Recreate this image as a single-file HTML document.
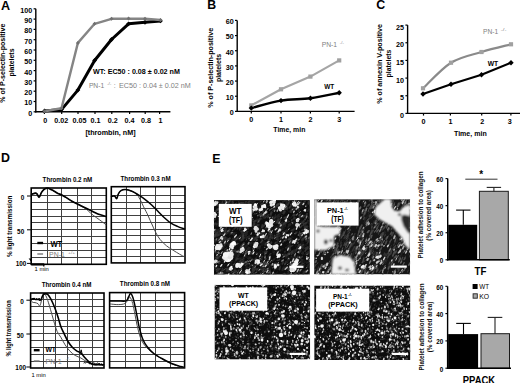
<!DOCTYPE html>
<html><head><meta charset="utf-8"><style>
html,body{margin:0;padding:0;background:#fff;width:520px;height:383px;overflow:hidden}
svg text{font-family:"Liberation Sans",sans-serif}
</style></head><body>
<svg width="520" height="383" viewBox="0 0 520 383" style="display:block">
<rect width="520" height="383" fill="#fff"/>
<text x="0.9" y="9.9" font-size="12.6" font-weight="bold" text-anchor="start" fill="#000">A</text>
<text x="0" y="0" font-size="7.1" font-weight="bold" fill="#000" textLength="79.10" lengthAdjust="spacingAndGlyphs" transform="translate(5.10,102.80) rotate(-90)">% of P-selectin-positive</text>
<text x="0" y="0" font-size="7.1" font-weight="bold" fill="#000" textLength="28.10" lengthAdjust="spacingAndGlyphs" transform="translate(14.40,76.60) rotate(-90)">platelets</text>
<line x1="35.80" y1="8.80" x2="35.80" y2="112.40" stroke="#000" stroke-width="1.4"/>
<line x1="35.20" y1="111.80" x2="170.40" y2="111.80" stroke="#000" stroke-width="1.4"/>
<line x1="33.60" y1="111.80" x2="35.80" y2="111.80" stroke="#000" stroke-width="1.2"/>
<text x="32.2" y="115.7" font-size="7.2" font-weight="bold" text-anchor="end" fill="#000">0</text>
<line x1="33.60" y1="101.50" x2="35.80" y2="101.50" stroke="#000" stroke-width="1.2"/>
<text x="32.2" y="105.4" font-size="7.2" font-weight="bold" text-anchor="end" fill="#000">10</text>
<line x1="33.60" y1="91.20" x2="35.80" y2="91.20" stroke="#000" stroke-width="1.2"/>
<text x="32.2" y="95.1" font-size="7.2" font-weight="bold" text-anchor="end" fill="#000">20</text>
<line x1="33.60" y1="80.90" x2="35.80" y2="80.90" stroke="#000" stroke-width="1.2"/>
<text x="32.2" y="84.80000000000001" font-size="7.2" font-weight="bold" text-anchor="end" fill="#000">30</text>
<line x1="33.60" y1="70.60" x2="35.80" y2="70.60" stroke="#000" stroke-width="1.2"/>
<text x="32.2" y="74.5" font-size="7.2" font-weight="bold" text-anchor="end" fill="#000">40</text>
<line x1="33.60" y1="60.30" x2="35.80" y2="60.30" stroke="#000" stroke-width="1.2"/>
<text x="32.2" y="64.2" font-size="7.2" font-weight="bold" text-anchor="end" fill="#000">50</text>
<line x1="33.60" y1="50.00" x2="35.80" y2="50.00" stroke="#000" stroke-width="1.2"/>
<text x="32.2" y="53.9" font-size="7.2" font-weight="bold" text-anchor="end" fill="#000">60</text>
<line x1="33.60" y1="39.70" x2="35.80" y2="39.70" stroke="#000" stroke-width="1.2"/>
<text x="32.2" y="43.6" font-size="7.2" font-weight="bold" text-anchor="end" fill="#000">70</text>
<line x1="33.60" y1="29.40" x2="35.80" y2="29.40" stroke="#000" stroke-width="1.2"/>
<text x="32.2" y="33.29999999999999" font-size="7.2" font-weight="bold" text-anchor="end" fill="#000">80</text>
<line x1="33.60" y1="19.10" x2="35.80" y2="19.10" stroke="#000" stroke-width="1.2"/>
<text x="32.2" y="22.999999999999993" font-size="7.2" font-weight="bold" text-anchor="end" fill="#000">90</text>
<line x1="33.60" y1="8.80" x2="35.80" y2="8.80" stroke="#000" stroke-width="1.2"/>
<text x="32.2" y="12.699999999999998" font-size="7.2" font-weight="bold" text-anchor="end" fill="#000">100</text>
<line x1="44.40" y1="111.80" x2="44.40" y2="114.00" stroke="#000" stroke-width="1.2"/>
<text x="45.2" y="122.8" font-size="7.2" font-weight="bold" text-anchor="middle" fill="#000">0</text>
<line x1="61.70" y1="111.80" x2="61.70" y2="114.00" stroke="#000" stroke-width="1.2"/>
<text x="61.3" y="122.8" font-size="7.2" font-weight="bold" text-anchor="middle" fill="#000">0.02</text>
<line x1="78.00" y1="111.80" x2="78.00" y2="114.00" stroke="#000" stroke-width="1.2"/>
<text x="79.6" y="122.8" font-size="7.2" font-weight="bold" text-anchor="middle" fill="#000">0.05</text>
<line x1="95.00" y1="111.80" x2="95.00" y2="114.00" stroke="#000" stroke-width="1.2"/>
<text x="95.6" y="122.8" font-size="7.2" font-weight="bold" text-anchor="middle" fill="#000">0.1</text>
<line x1="111.80" y1="111.80" x2="111.80" y2="114.00" stroke="#000" stroke-width="1.2"/>
<text x="112.8" y="122.8" font-size="7.2" font-weight="bold" text-anchor="middle" fill="#000">0.2</text>
<line x1="129.60" y1="111.80" x2="129.60" y2="114.00" stroke="#000" stroke-width="1.2"/>
<text x="129.6" y="122.8" font-size="7.2" font-weight="bold" text-anchor="middle" fill="#000">0.4</text>
<line x1="145.20" y1="111.80" x2="145.20" y2="114.00" stroke="#000" stroke-width="1.2"/>
<text x="146.0" y="122.8" font-size="7.2" font-weight="bold" text-anchor="middle" fill="#000">0.8</text>
<line x1="159.60" y1="111.80" x2="159.60" y2="114.00" stroke="#000" stroke-width="1.2"/>
<text x="160.5" y="122.8" font-size="7.2" font-weight="bold" text-anchor="middle" fill="#000">1</text>
<text x="85.40" y="135.00" font-size="7.2" font-weight="bold" fill="#000" textLength="50.20" lengthAdjust="spacingAndGlyphs">[thrombin, nM]</text>
<polyline points="44.60,111.00 61.50,109.60 77.90,90.10 94.60,60.50 111.50,39.50 128.60,23.80 145.00,22.30 160.50,20.90" fill="none" stroke="#000" stroke-width="3.0" stroke-linejoin="round" stroke-linecap="round"/>
<rect x="42.90" y="109.30" width="3.4" height="3.4" fill="#000" transform="rotate(45 44.60 111.00)"/>
<rect x="59.80" y="107.90" width="3.4" height="3.4" fill="#000" transform="rotate(45 61.50 109.60)"/>
<rect x="76.20" y="88.40" width="3.4" height="3.4" fill="#000" transform="rotate(45 77.90 90.10)"/>
<rect x="92.90" y="58.80" width="3.4" height="3.4" fill="#000" transform="rotate(45 94.60 60.50)"/>
<rect x="109.80" y="37.80" width="3.4" height="3.4" fill="#000" transform="rotate(45 111.50 39.50)"/>
<rect x="126.90" y="22.10" width="3.4" height="3.4" fill="#000" transform="rotate(45 128.60 23.80)"/>
<rect x="143.30" y="20.60" width="3.4" height="3.4" fill="#000" transform="rotate(45 145.00 22.30)"/>
<rect x="158.80" y="19.20" width="3.4" height="3.4" fill="#000" transform="rotate(45 160.50 20.90)"/>
<polyline points="44.60,111.30 61.50,108.20 77.90,42.90 94.60,23.80 111.50,18.80 128.60,18.60 145.00,18.80 160.50,20.00" fill="none" stroke="#858585" stroke-width="2.4" stroke-linejoin="round" stroke-linecap="round"/>
<rect x="43.20" y="109.90" width="2.8" height="2.8" fill="#707070" transform="rotate(45 44.60 111.30)"/>
<rect x="60.10" y="106.80" width="2.8" height="2.8" fill="#707070" transform="rotate(45 61.50 108.20)"/>
<rect x="76.50" y="41.50" width="2.8" height="2.8" fill="#707070" transform="rotate(45 77.90 42.90)"/>
<rect x="93.20" y="22.40" width="2.8" height="2.8" fill="#707070" transform="rotate(45 94.60 23.80)"/>
<rect x="110.10" y="17.40" width="2.8" height="2.8" fill="#707070" transform="rotate(45 111.50 18.80)"/>
<rect x="127.20" y="17.20" width="2.8" height="2.8" fill="#707070" transform="rotate(45 128.60 18.60)"/>
<rect x="143.60" y="17.40" width="2.8" height="2.8" fill="#707070" transform="rotate(45 145.00 18.80)"/>
<rect x="159.10" y="18.60" width="2.8" height="2.8" fill="#707070" transform="rotate(45 160.50 20.00)"/>
<text x="93.00" y="73.80" font-size="7.0" font-weight="bold" fill="#000" textLength="86.90" lengthAdjust="spacingAndGlyphs">WT: EC50 : 0.08 ± 0.02 nM</text>
<text x="88.90" y="87.90" font-size="6.9" fill="#808080" textLength="15.30" lengthAdjust="spacingAndGlyphs">PN-1</text>
<text x="106.90" y="85.00" font-size="4.2" fill="#808080" textLength="4.60" lengthAdjust="spacingAndGlyphs">-/-</text>
<text x="113.8" y="87.9" font-size="6.9" text-anchor="start" fill="#808080">:</text>
<text x="119.00" y="87.90" font-size="6.9" fill="#808080" textLength="71.70" lengthAdjust="spacingAndGlyphs">EC50 : 0.04 ± 0.02 nM</text>
<text x="207.3" y="9.4" font-size="12.3" font-weight="bold" text-anchor="start" fill="#000">B</text>
<text x="0" y="0" font-size="7.1" font-weight="bold" fill="#000" textLength="79.80" lengthAdjust="spacingAndGlyphs" transform="translate(212.50,107.70) rotate(-90)">% of P-selectin-positive</text>
<text x="0" y="0" font-size="7.1" font-weight="bold" fill="#000" textLength="28.20" lengthAdjust="spacingAndGlyphs" transform="translate(221.00,82.10) rotate(-90)">platelets</text>
<line x1="237.20" y1="20.40" x2="237.20" y2="112.00" stroke="#000" stroke-width="1.4"/>
<line x1="236.60" y1="111.40" x2="354.60" y2="111.40" stroke="#000" stroke-width="1.4"/>
<line x1="235.00" y1="111.40" x2="237.20" y2="111.40" stroke="#000" stroke-width="1.2"/>
<text x="233.7" y="115.30000000000001" font-size="7.2" font-weight="bold" text-anchor="end" fill="#000">0</text>
<line x1="235.00" y1="96.23" x2="237.20" y2="96.23" stroke="#000" stroke-width="1.2"/>
<text x="233.7" y="100.13333333333334" font-size="7.2" font-weight="bold" text-anchor="end" fill="#000">10</text>
<line x1="235.00" y1="81.07" x2="237.20" y2="81.07" stroke="#000" stroke-width="1.2"/>
<text x="233.7" y="84.96666666666668" font-size="7.2" font-weight="bold" text-anchor="end" fill="#000">20</text>
<line x1="235.00" y1="65.90" x2="237.20" y2="65.90" stroke="#000" stroke-width="1.2"/>
<text x="233.7" y="69.80000000000001" font-size="7.2" font-weight="bold" text-anchor="end" fill="#000">30</text>
<line x1="235.00" y1="50.73" x2="237.20" y2="50.73" stroke="#000" stroke-width="1.2"/>
<text x="233.7" y="54.63333333333334" font-size="7.2" font-weight="bold" text-anchor="end" fill="#000">40</text>
<line x1="235.00" y1="35.57" x2="237.20" y2="35.57" stroke="#000" stroke-width="1.2"/>
<text x="233.7" y="39.466666666666676" font-size="7.2" font-weight="bold" text-anchor="end" fill="#000">50</text>
<line x1="235.00" y1="20.40" x2="237.20" y2="20.40" stroke="#000" stroke-width="1.2"/>
<text x="233.7" y="24.300000000000004" font-size="7.2" font-weight="bold" text-anchor="end" fill="#000">60</text>
<line x1="251.30" y1="111.40" x2="251.30" y2="113.60" stroke="#000" stroke-width="1.2"/>
<text x="251.3" y="122.4" font-size="7.2" font-weight="bold" text-anchor="middle" fill="#000">0</text>
<line x1="281.00" y1="111.40" x2="281.00" y2="113.60" stroke="#000" stroke-width="1.2"/>
<text x="281.0" y="122.4" font-size="7.2" font-weight="bold" text-anchor="middle" fill="#000">1</text>
<line x1="310.40" y1="111.40" x2="310.40" y2="113.60" stroke="#000" stroke-width="1.2"/>
<text x="310.4" y="122.4" font-size="7.2" font-weight="bold" text-anchor="middle" fill="#000">2</text>
<line x1="339.20" y1="111.40" x2="339.20" y2="113.60" stroke="#000" stroke-width="1.2"/>
<text x="339.2" y="122.4" font-size="7.2" font-weight="bold" text-anchor="middle" fill="#000">3</text>
<text x="273.30" y="131.80" font-size="7.2" font-weight="bold" fill="#000" textLength="32.10" lengthAdjust="spacingAndGlyphs">Time, min</text>
<polyline points="251.30,105.40 281.00,89.30 310.40,76.60 339.20,60.40" fill="none" stroke="#a5a5a5" stroke-width="2.2" stroke-linejoin="round" stroke-linecap="round"/>
<path d="M251.30,108.10 C256.25,106.85 271.15,102.23 281.00,100.60 C290.85,98.97 300.70,99.60 310.40,98.30 C320.10,97.00 334.40,93.72 339.20,92.80" fill="none" stroke="#000" stroke-width="2.4" stroke-linejoin="round" stroke-linecap="round"/>
<rect x="249.20" y="103.30" width="4.2" height="4.2" fill="#a0a0a0"/>
<rect x="278.90" y="87.20" width="4.2" height="4.2" fill="#a0a0a0"/>
<rect x="308.30" y="74.50" width="4.2" height="4.2" fill="#a0a0a0"/>
<rect x="337.10" y="58.30" width="4.2" height="4.2" fill="#a0a0a0"/>
<rect x="249.40" y="106.20" width="3.8" height="3.8" fill="#000" transform="rotate(45 251.30 108.10)"/>
<rect x="279.10" y="98.70" width="3.8" height="3.8" fill="#000" transform="rotate(45 281.00 100.60)"/>
<rect x="308.50" y="96.40" width="3.8" height="3.8" fill="#000" transform="rotate(45 310.40 98.30)"/>
<rect x="337.30" y="90.90" width="3.8" height="3.8" fill="#000" transform="rotate(45 339.20 92.80)"/>
<text x="324.30" y="88.80" font-size="6.8" font-weight="bold" fill="#000" textLength="10.00" lengthAdjust="spacingAndGlyphs">WT</text>
<text x="321.70" y="47.10" font-size="7.4" fill="#808080" textLength="15.40" lengthAdjust="spacingAndGlyphs">PN-1</text>
<text x="339.80" y="44.20" font-size="4.2" fill="#808080" textLength="4.00" lengthAdjust="spacingAndGlyphs">-/-</text>
<text x="376.2" y="9.3" font-size="12.4" font-weight="bold" text-anchor="start" fill="#000">C</text>
<text x="0" y="0" font-size="7.1" font-weight="bold" fill="#000" textLength="79.80" lengthAdjust="spacingAndGlyphs" transform="translate(382.20,103.80) rotate(-90)">% of annexin V-positive</text>
<text x="0" y="0" font-size="7.1" font-weight="bold" fill="#000" textLength="27.80" lengthAdjust="spacingAndGlyphs" transform="translate(390.70,77.40) rotate(-90)">platelets</text>
<line x1="407.60" y1="25.10" x2="407.60" y2="114.00" stroke="#000" stroke-width="1.4"/>
<line x1="407.00" y1="113.40" x2="520.00" y2="113.40" stroke="#000" stroke-width="1.4"/>
<line x1="405.40" y1="113.40" x2="407.60" y2="113.40" stroke="#000" stroke-width="1.2"/>
<text x="404.0" y="117.9" font-size="7.2" font-weight="bold" text-anchor="end" fill="#000">0</text>
<line x1="405.40" y1="95.74" x2="407.60" y2="95.74" stroke="#000" stroke-width="1.2"/>
<text x="404.0" y="100.24000000000001" font-size="7.2" font-weight="bold" text-anchor="end" fill="#000">5</text>
<line x1="405.40" y1="78.08" x2="407.60" y2="78.08" stroke="#000" stroke-width="1.2"/>
<text x="404.0" y="82.58" font-size="7.2" font-weight="bold" text-anchor="end" fill="#000">10</text>
<line x1="405.40" y1="60.42" x2="407.60" y2="60.42" stroke="#000" stroke-width="1.2"/>
<text x="404.0" y="64.92" font-size="7.2" font-weight="bold" text-anchor="end" fill="#000">15</text>
<line x1="405.40" y1="42.76" x2="407.60" y2="42.76" stroke="#000" stroke-width="1.2"/>
<text x="404.0" y="47.25999999999999" font-size="7.2" font-weight="bold" text-anchor="end" fill="#000">20</text>
<line x1="405.40" y1="25.10" x2="407.60" y2="25.10" stroke="#000" stroke-width="1.2"/>
<text x="404.0" y="29.599999999999994" font-size="7.2" font-weight="bold" text-anchor="end" fill="#000">25</text>
<line x1="423.50" y1="113.40" x2="423.50" y2="115.60" stroke="#000" stroke-width="1.2"/>
<text x="423.4" y="123.8" font-size="7.2" font-weight="bold" text-anchor="middle" fill="#000">0</text>
<line x1="450.40" y1="113.40" x2="450.40" y2="115.60" stroke="#000" stroke-width="1.2"/>
<text x="450.5" y="123.8" font-size="7.2" font-weight="bold" text-anchor="middle" fill="#000">1</text>
<line x1="481.70" y1="113.40" x2="481.70" y2="115.60" stroke="#000" stroke-width="1.2"/>
<text x="482.3" y="123.8" font-size="7.2" font-weight="bold" text-anchor="middle" fill="#000">2</text>
<line x1="510.90" y1="113.40" x2="510.90" y2="115.60" stroke="#000" stroke-width="1.2"/>
<text x="509.7" y="123.8" font-size="7.2" font-weight="bold" text-anchor="middle" fill="#000">3</text>
<text x="454.00" y="135.80" font-size="7.2" font-weight="bold" fill="#000" textLength="32.70" lengthAdjust="spacingAndGlyphs">Time, min</text>
<path d="M423.00,88.30 C427.67,84.03 441.25,68.75 451.00,62.70 C460.75,56.65 471.50,55.07 481.50,52.00 C491.50,48.93 506.08,45.58 511.00,44.30" fill="none" stroke="#8a8a8a" stroke-width="2.2" stroke-linejoin="round" stroke-linecap="round"/>
<polyline points="423.00,94.00 451.00,84.20 481.50,74.80 511.00,62.70" fill="none" stroke="#000" stroke-width="2.2" stroke-linejoin="round" stroke-linecap="round"/>
<rect x="420.90" y="86.20" width="4.2" height="4.2" fill="#a0a0a0"/>
<rect x="448.90" y="60.60" width="4.2" height="4.2" fill="#a0a0a0"/>
<rect x="479.40" y="49.90" width="4.2" height="4.2" fill="#a0a0a0"/>
<rect x="508.90" y="42.20" width="4.2" height="4.2" fill="#a0a0a0"/>
<rect x="421.10" y="92.10" width="3.8" height="3.8" fill="#000" transform="rotate(45 423.00 94.00)"/>
<rect x="449.10" y="82.30" width="3.8" height="3.8" fill="#000" transform="rotate(45 451.00 84.20)"/>
<rect x="479.60" y="72.90" width="3.8" height="3.8" fill="#000" transform="rotate(45 481.50 74.80)"/>
<rect x="509.10" y="60.80" width="3.8" height="3.8" fill="#000" transform="rotate(45 511.00 62.70)"/>
<text x="487.70" y="65.90" font-size="6.8" font-weight="bold" fill="#000" textLength="10.50" lengthAdjust="spacingAndGlyphs">WT</text>
<text x="483.00" y="34.10" font-size="6.8" fill="#808080" textLength="15.20" lengthAdjust="spacingAndGlyphs">PN-1</text>
<text x="500.70" y="31.40" font-size="4.2" fill="#808080" textLength="5.80" lengthAdjust="spacingAndGlyphs">-/-</text>
<text x="1.0" y="162.2" font-size="12.4" font-weight="bold" text-anchor="start" fill="#000">D</text>
<line x1="31.20" y1="195.50" x2="106.30" y2="195.50" stroke="#404040" stroke-width="1.0"/>
<line x1="31.20" y1="202.50" x2="106.30" y2="202.50" stroke="#404040" stroke-width="1.0"/>
<line x1="31.20" y1="209.50" x2="106.30" y2="209.50" stroke="#404040" stroke-width="1.0"/>
<line x1="31.20" y1="216.50" x2="106.30" y2="216.50" stroke="#404040" stroke-width="1.0"/>
<line x1="31.20" y1="222.50" x2="106.30" y2="222.50" stroke="#404040" stroke-width="1.0"/>
<line x1="31.20" y1="229.50" x2="106.30" y2="229.50" stroke="#404040" stroke-width="1.0"/>
<line x1="31.20" y1="236.50" x2="106.30" y2="236.50" stroke="#404040" stroke-width="1.0"/>
<line x1="31.20" y1="243.50" x2="106.30" y2="243.50" stroke="#404040" stroke-width="1.0"/>
<line x1="31.20" y1="250.50" x2="106.30" y2="250.50" stroke="#404040" stroke-width="1.0"/>
<line x1="31.20" y1="257.50" x2="106.30" y2="257.50" stroke="#404040" stroke-width="1.0"/>
<line x1="47.50" y1="188.00" x2="47.50" y2="264.30" stroke="#404040" stroke-width="1.0"/>
<line x1="61.50" y1="188.00" x2="61.50" y2="264.30" stroke="#404040" stroke-width="1.0"/>
<line x1="77.50" y1="188.00" x2="77.50" y2="264.30" stroke="#404040" stroke-width="1.0"/>
<line x1="91.50" y1="188.00" x2="91.50" y2="264.30" stroke="#404040" stroke-width="1.0"/>
<rect x="31.20" y="188.00" width="75.10" height="76.30" fill="none" stroke="#000" stroke-width="1.6"/>
<text x="42.60" y="181.80" font-size="6.6" font-weight="bold" fill="#000" textLength="49.60" lengthAdjust="spacingAndGlyphs">Thrombin 0.2 nM</text>
<line x1="111.30" y1="195.50" x2="185.00" y2="195.50" stroke="#404040" stroke-width="1.0"/>
<line x1="111.30" y1="202.50" x2="185.00" y2="202.50" stroke="#404040" stroke-width="1.0"/>
<line x1="111.30" y1="208.50" x2="185.00" y2="208.50" stroke="#404040" stroke-width="1.0"/>
<line x1="111.30" y1="215.50" x2="185.00" y2="215.50" stroke="#404040" stroke-width="1.0"/>
<line x1="111.30" y1="222.50" x2="185.00" y2="222.50" stroke="#404040" stroke-width="1.0"/>
<line x1="111.30" y1="229.50" x2="185.00" y2="229.50" stroke="#404040" stroke-width="1.0"/>
<line x1="111.30" y1="235.50" x2="185.00" y2="235.50" stroke="#404040" stroke-width="1.0"/>
<line x1="111.30" y1="242.50" x2="185.00" y2="242.50" stroke="#404040" stroke-width="1.0"/>
<line x1="111.30" y1="249.50" x2="185.00" y2="249.50" stroke="#404040" stroke-width="1.0"/>
<line x1="111.30" y1="256.50" x2="185.00" y2="256.50" stroke="#404040" stroke-width="1.0"/>
<line x1="126.50" y1="186.70" x2="126.50" y2="262.90" stroke="#404040" stroke-width="1.0"/>
<line x1="140.50" y1="186.70" x2="140.50" y2="262.90" stroke="#404040" stroke-width="1.0"/>
<line x1="155.50" y1="186.70" x2="155.50" y2="262.90" stroke="#404040" stroke-width="1.0"/>
<line x1="170.50" y1="186.70" x2="170.50" y2="262.90" stroke="#404040" stroke-width="1.0"/>
<rect x="111.30" y="186.70" width="73.70" height="76.20" fill="none" stroke="#000" stroke-width="1.6"/>
<text x="120.50" y="181.00" font-size="6.6" font-weight="bold" fill="#000" textLength="50.10" lengthAdjust="spacingAndGlyphs">Thrombin 0.3 nM</text>
<line x1="30.60" y1="299.50" x2="104.00" y2="299.50" stroke="#404040" stroke-width="1.0"/>
<line x1="30.60" y1="306.50" x2="104.00" y2="306.50" stroke="#404040" stroke-width="1.0"/>
<line x1="30.60" y1="313.50" x2="104.00" y2="313.50" stroke="#404040" stroke-width="1.0"/>
<line x1="30.60" y1="320.50" x2="104.00" y2="320.50" stroke="#404040" stroke-width="1.0"/>
<line x1="30.60" y1="326.50" x2="104.00" y2="326.50" stroke="#404040" stroke-width="1.0"/>
<line x1="30.60" y1="333.50" x2="104.00" y2="333.50" stroke="#404040" stroke-width="1.0"/>
<line x1="30.60" y1="340.50" x2="104.00" y2="340.50" stroke="#404040" stroke-width="1.0"/>
<line x1="30.60" y1="347.50" x2="104.00" y2="347.50" stroke="#404040" stroke-width="1.0"/>
<line x1="30.60" y1="354.50" x2="104.00" y2="354.50" stroke="#404040" stroke-width="1.0"/>
<line x1="30.60" y1="361.50" x2="104.00" y2="361.50" stroke="#404040" stroke-width="1.0"/>
<line x1="43.50" y1="293.00" x2="43.50" y2="368.00" stroke="#404040" stroke-width="1.0"/>
<line x1="55.50" y1="293.00" x2="55.50" y2="368.00" stroke="#404040" stroke-width="1.0"/>
<line x1="67.50" y1="293.00" x2="67.50" y2="368.00" stroke="#404040" stroke-width="1.0"/>
<line x1="79.50" y1="293.00" x2="79.50" y2="368.00" stroke="#404040" stroke-width="1.0"/>
<line x1="92.50" y1="293.00" x2="92.50" y2="368.00" stroke="#404040" stroke-width="1.0"/>
<rect x="30.60" y="293.00" width="73.40" height="75.00" fill="none" stroke="#000" stroke-width="1.6"/>
<text x="41.70" y="287.40" font-size="6.6" font-weight="bold" fill="#000" textLength="49.80" lengthAdjust="spacingAndGlyphs">Thrombin 0.4 nM</text>
<line x1="109.60" y1="300.50" x2="184.60" y2="300.50" stroke="#404040" stroke-width="1.0"/>
<line x1="109.60" y1="306.50" x2="184.60" y2="306.50" stroke="#404040" stroke-width="1.0"/>
<line x1="109.60" y1="313.50" x2="184.60" y2="313.50" stroke="#404040" stroke-width="1.0"/>
<line x1="109.60" y1="320.50" x2="184.60" y2="320.50" stroke="#404040" stroke-width="1.0"/>
<line x1="109.60" y1="327.50" x2="184.60" y2="327.50" stroke="#404040" stroke-width="1.0"/>
<line x1="109.60" y1="333.50" x2="184.60" y2="333.50" stroke="#404040" stroke-width="1.0"/>
<line x1="109.60" y1="340.50" x2="184.60" y2="340.50" stroke="#404040" stroke-width="1.0"/>
<line x1="109.60" y1="347.50" x2="184.60" y2="347.50" stroke="#404040" stroke-width="1.0"/>
<line x1="109.60" y1="354.50" x2="184.60" y2="354.50" stroke="#404040" stroke-width="1.0"/>
<line x1="109.60" y1="361.50" x2="184.60" y2="361.50" stroke="#404040" stroke-width="1.0"/>
<line x1="125.50" y1="292.60" x2="125.50" y2="367.90" stroke="#404040" stroke-width="1.0"/>
<line x1="140.50" y1="292.60" x2="140.50" y2="367.90" stroke="#404040" stroke-width="1.0"/>
<line x1="155.50" y1="292.60" x2="155.50" y2="367.90" stroke="#404040" stroke-width="1.0"/>
<line x1="170.50" y1="292.60" x2="170.50" y2="367.90" stroke="#404040" stroke-width="1.0"/>
<rect x="109.60" y="292.60" width="75.00" height="75.30" fill="none" stroke="#000" stroke-width="1.6"/>
<text x="119.80" y="285.60" font-size="6.6" font-weight="bold" fill="#000" textLength="50.20" lengthAdjust="spacingAndGlyphs">Thrombin 0.8 nM</text>
<line x1="27.00" y1="196.00" x2="31.20" y2="196.00" stroke="#000" stroke-width="1.0"/>
<text x="24.2" y="199.9" font-size="6.4" font-weight="bold" text-anchor="end" fill="#000">0</text>
<line x1="27.00" y1="229.80" x2="31.20" y2="229.80" stroke="#000" stroke-width="1.0"/>
<text x="24.2" y="233.70000000000002" font-size="6.4" font-weight="bold" text-anchor="end" fill="#000">50</text>
<line x1="27.00" y1="263.40" x2="31.20" y2="263.40" stroke="#000" stroke-width="1.0"/>
<text x="26.4" y="266.29999999999995" font-size="6.4" font-weight="bold" text-anchor="end" fill="#000">100</text>
<line x1="26.40" y1="300.20" x2="30.60" y2="300.20" stroke="#000" stroke-width="1.0"/>
<text x="23.8" y="304.09999999999997" font-size="6.4" font-weight="bold" text-anchor="end" fill="#000">0</text>
<line x1="26.40" y1="334.00" x2="30.60" y2="334.00" stroke="#000" stroke-width="1.0"/>
<text x="23.8" y="337.9" font-size="6.4" font-weight="bold" text-anchor="end" fill="#000">50</text>
<line x1="26.40" y1="367.00" x2="30.60" y2="367.00" stroke="#000" stroke-width="1.0"/>
<text x="26.0" y="369.9" font-size="6.4" font-weight="bold" text-anchor="end" fill="#000">100</text>
<path d="M28.6,258.4 L31,258.4 L31,261.6 Z" fill="#000"/>
<text x="0" y="0" font-size="6.7" font-weight="bold" fill="#000" textLength="61.30" lengthAdjust="spacingAndGlyphs" transform="translate(11.80,257.00) rotate(-90)">% light transmission</text>
<text x="0" y="0" font-size="6.7" font-weight="bold" fill="#000" textLength="56.30" lengthAdjust="spacingAndGlyphs" transform="translate(11.00,356.60) rotate(-90)">% light transmission</text>
<line x1="31.20" y1="264.40" x2="44.20" y2="264.40" stroke="#000" stroke-width="2.2"/>
<line x1="43.80" y1="264.40" x2="43.80" y2="266.40" stroke="#000" stroke-width="1.3"/>
<text x="34.60" y="271.40" font-size="6.2" fill="#000" textLength="14.20" lengthAdjust="spacingAndGlyphs">1 min</text>
<text x="31.50" y="377.10" font-size="6.2" fill="#000" textLength="14.30" lengthAdjust="spacingAndGlyphs">1 min</text>
<line x1="37.30" y1="243.00" x2="43.10" y2="243.00" stroke="#000" stroke-width="2.4"/>
<line x1="37.30" y1="254.00" x2="43.10" y2="254.00" stroke="#777" stroke-width="1.4"/>
<text x="50.40" y="247.20" font-size="8.2" font-weight="bold" fill="#000" textLength="11.80" lengthAdjust="spacingAndGlyphs">WT</text>
<text x="49.10" y="256.90" font-size="7.4" fill="#7a7a7a" textLength="15.70" lengthAdjust="spacingAndGlyphs">PN-1</text>
<text x="68.00" y="254.30" font-size="3.8" fill="#888" textLength="7.20" lengthAdjust="spacingAndGlyphs">+/+</text>
<line x1="33.80" y1="350.20" x2="39.60" y2="350.20" stroke="#000" stroke-width="2.4"/>
<line x1="33.80" y1="361.00" x2="39.60" y2="361.00" stroke="#777" stroke-width="1.4"/>
<text x="45.40" y="352.00" font-size="6.6" font-weight="bold" fill="#000" textLength="10.60" lengthAdjust="spacingAndGlyphs">WT</text>
<text x="45.40" y="364.10" font-size="7.4" fill="#7a7a7a" textLength="16.30" lengthAdjust="spacingAndGlyphs">PN-1</text>
<text x="65.50" y="360.20" font-size="3.8" fill="#888" textLength="5.00" lengthAdjust="spacingAndGlyphs">-/-</text>
<path d="M31.50,194.20 C31.75,194.13 32.38,193.97 33.00,193.80 C33.62,193.63 34.53,193.20 35.20,193.20 C35.87,193.20 36.35,193.12 37.00,193.80 C37.65,194.48 38.37,197.50 39.10,197.30 C39.83,197.10 40.62,193.88 41.40,192.60 C42.18,191.32 43.08,190.28 43.80,189.60 C44.52,188.92 45.00,188.73 45.70,188.50 C46.40,188.27 47.02,187.98 48.00,188.20 C48.98,188.42 50.48,189.25 51.60,189.80 C52.72,190.35 53.65,190.90 54.70,191.50 C55.75,192.10 56.72,192.83 57.90,193.40 C59.08,193.97 60.45,194.23 61.80,194.90 C63.15,195.57 64.30,196.35 66.00,197.40 C67.70,198.45 69.03,199.50 72.00,201.20 C74.97,202.90 81.05,205.93 83.80,207.60 C86.55,209.27 86.93,209.92 88.50,211.20 C90.07,212.48 91.37,213.87 93.20,215.30 C95.03,216.73 97.37,218.23 99.50,219.80 C101.63,221.37 104.92,223.88 106.00,224.70" fill="none" stroke="#4a4a4a" stroke-width="1.0" stroke-linejoin="round" stroke-linecap="round"/>
<path d="M31.50,194.20 C31.75,194.13 32.38,193.97 33.00,193.80 C33.62,193.63 34.53,193.20 35.20,193.20 C35.87,193.20 36.35,193.12 37.00,193.80 C37.65,194.48 38.37,197.50 39.10,197.30 C39.83,197.10 40.62,193.88 41.40,192.60 C42.18,191.32 43.08,190.28 43.80,189.60 C44.52,188.92 45.00,188.73 45.70,188.50 C46.40,188.27 47.02,187.98 48.00,188.20 C48.98,188.42 50.48,189.25 51.60,189.80 C52.72,190.35 53.65,190.90 54.70,191.50 C55.75,192.10 56.72,192.83 57.90,193.40 C59.08,193.97 60.45,194.23 61.80,194.90 C63.15,195.57 64.30,196.35 66.00,197.40 C67.70,198.45 69.43,199.78 72.00,201.20 C74.57,202.62 78.27,204.33 81.40,205.90 C84.53,207.47 88.05,209.25 90.80,210.60 C93.55,211.95 95.37,213.03 97.90,214.00 C100.43,214.97 104.65,216.00 106.00,216.40" fill="none" stroke="#000" stroke-width="1.7" stroke-linejoin="round" stroke-linecap="round"/>
<path d="M111.50,196.40 C112.00,196.33 113.63,195.63 114.50,196.00 C115.37,196.37 116.05,198.97 116.70,198.60 C117.35,198.23 117.68,195.13 118.40,193.80 C119.12,192.47 119.83,191.32 121.00,190.60 C122.17,189.88 123.58,189.40 125.40,189.50 C127.22,189.60 130.05,190.45 131.90,191.20 C133.75,191.95 135.12,192.60 136.50,194.00 C137.88,195.40 139.02,197.47 140.20,199.60 C141.38,201.73 142.47,204.50 143.60,206.80 C144.73,209.10 145.70,210.68 147.00,213.40 C148.30,216.12 149.95,219.93 151.40,223.10 C152.85,226.27 154.27,229.68 155.70,232.40 C157.13,235.12 158.18,237.15 160.00,239.40 C161.82,241.65 164.42,244.10 166.60,245.90 C168.78,247.70 170.93,248.82 173.10,250.20 C175.27,251.58 177.70,253.10 179.60,254.20 C181.50,255.30 183.68,256.37 184.50,256.80" fill="none" stroke="#4a4a4a" stroke-width="1.0" stroke-linejoin="round" stroke-linecap="round"/>
<path d="M111.50,196.40 C112.00,196.33 113.63,195.63 114.50,196.00 C115.37,196.37 116.05,198.97 116.70,198.60 C117.35,198.23 117.68,195.13 118.40,193.80 C119.12,192.47 119.83,191.32 121.00,190.60 C122.17,189.88 123.58,189.40 125.40,189.50 C127.22,189.60 129.73,190.30 131.90,191.20 C134.07,192.10 136.23,193.55 138.40,194.90 C140.57,196.25 142.73,197.67 144.90,199.30 C147.07,200.93 149.23,202.72 151.40,204.70 C153.57,206.68 155.73,209.03 157.90,211.20 C160.07,213.37 162.23,215.72 164.40,217.70 C166.57,219.68 168.73,221.65 170.90,223.10 C173.07,224.55 175.13,225.42 177.40,226.40 C179.67,227.38 183.32,228.57 184.50,229.00" fill="none" stroke="#000" stroke-width="1.5" stroke-linejoin="round" stroke-linecap="round"/>
<path d="M31.00,300.40 C31.30,300.73 32.13,302.03 32.80,302.40 C33.47,302.77 34.13,302.38 35.00,302.60 C35.87,302.82 37.27,303.13 38.00,303.70 C38.73,304.27 38.95,306.00 39.40,306.00 C39.85,306.00 40.17,305.40 40.70,303.70 C41.23,302.00 41.95,297.33 42.60,295.80 C43.25,294.27 43.95,294.28 44.60,294.50 C45.25,294.72 45.73,295.35 46.50,297.10 C47.27,298.85 48.32,302.17 49.20,305.00 C50.08,307.83 50.93,311.07 51.80,314.10 C52.67,317.13 53.50,320.28 54.40,323.20 C55.30,326.12 56.13,329.27 57.20,331.60 C58.27,333.93 59.48,335.00 60.80,337.20 C62.12,339.40 63.55,342.45 65.10,344.80 C66.65,347.15 68.43,349.53 70.10,351.30 C71.77,353.07 73.30,354.28 75.10,355.40 C76.90,356.52 78.98,356.97 80.90,358.00 C82.82,359.03 84.70,360.52 86.60,361.60 C88.50,362.68 89.48,363.90 92.30,364.50 C95.12,365.10 101.63,365.08 103.50,365.20" fill="none" stroke="#4a4a4a" stroke-width="1.0" stroke-linejoin="round" stroke-linecap="round"/>
<path d="M31.00,299.70 C31.25,299.58 31.98,299.18 32.50,299.00 C33.02,298.82 33.60,298.53 34.10,298.60 C34.60,298.67 35.07,299.25 35.50,299.40 C35.93,299.55 36.20,299.50 36.70,299.50 C37.20,299.50 37.83,299.32 38.50,299.40 C39.17,299.48 39.90,300.82 40.70,300.00 C41.50,299.18 42.43,295.52 43.30,294.50 C44.17,293.48 45.15,293.90 45.90,293.90 C46.65,293.90 47.03,293.75 47.80,294.50 C48.57,295.25 49.62,296.87 50.50,298.40 C51.38,299.93 52.23,301.73 53.10,303.70 C53.97,305.67 54.83,307.82 55.70,310.20 C56.57,312.58 57.45,315.28 58.30,318.00 C59.15,320.72 59.78,323.78 60.80,326.50 C61.82,329.22 63.20,331.80 64.40,334.30 C65.60,336.80 66.68,339.33 68.00,341.50 C69.32,343.67 70.87,345.75 72.30,347.30 C73.73,348.85 75.17,349.85 76.60,350.80 C78.03,351.75 79.47,351.80 80.90,353.00 C82.33,354.20 83.77,356.45 85.20,358.00 C86.63,359.55 88.07,361.22 89.50,362.30 C90.93,363.38 92.37,364.13 93.80,364.50 C95.23,364.87 96.48,364.45 98.10,364.50 C99.72,364.55 102.60,364.75 103.50,364.80" fill="none" stroke="#000" stroke-width="1.6" stroke-linejoin="round" stroke-linecap="round"/>
<polyline points="31.00,299.13 31.80,298.95 32.60,298.48 33.40,299.93 34.20,298.21 35.00,299.21 35.80,300.00 36.60,298.36 37.40,299.31 38.20,299.43 39.00,298.28 39.80,298.96" fill="none" stroke="#000" stroke-width="1.0" stroke-linejoin="round" stroke-linecap="round"/>
<polyline points="84.00,362.91 84.80,362.48 85.60,363.11 86.40,362.05 87.20,362.30 88.00,362.12 88.80,362.99 89.60,363.91 90.40,363.32 91.20,363.77 92.00,363.07 92.80,363.87 93.60,362.66 94.40,363.12 95.20,363.97 96.00,364.15 96.80,363.62 97.60,363.04 98.40,363.47 99.20,363.44 100.00,363.66 100.80,364.80 101.60,363.66 102.40,365.11 103.20,365.18" fill="none" stroke="#000" stroke-width="1.0" stroke-linejoin="round" stroke-linecap="round"/>
<polyline points="80.20,353.50 81.20,349.80 82.20,354.50" fill="none" stroke="#000" stroke-width="1.0" stroke-linejoin="round" stroke-linecap="round"/>
<path d="M110.30,304.00 C111.63,304.10 115.85,304.68 118.30,304.60 C120.75,304.52 123.33,304.42 125.00,303.50 C126.67,302.58 127.48,300.20 128.30,299.10 C129.12,298.00 129.17,296.17 129.90,296.90 C130.63,297.63 131.85,300.55 132.70,303.50 C133.55,306.45 134.25,310.90 135.00,314.60 C135.75,318.30 136.28,321.82 137.20,325.70 C138.12,329.58 139.20,334.57 140.50,337.90 C141.80,341.23 143.08,343.27 145.00,345.70 C146.92,348.13 149.33,350.37 152.00,352.50 C154.67,354.63 157.83,356.67 161.00,358.50 C164.17,360.33 167.75,362.12 171.00,363.50 C174.25,364.88 178.33,366.15 180.50,366.80 C182.67,367.45 183.42,367.30 184.00,367.40" fill="none" stroke="#4a4a4a" stroke-width="1.0" stroke-linejoin="round" stroke-linecap="round"/>
<path d="M110.30,300.90 C111.58,300.90 115.37,300.90 118.00,300.90 C120.63,300.90 124.35,301.55 126.10,300.90 C127.85,300.25 127.77,298.23 128.50,297.00 C129.23,295.77 129.80,293.52 130.50,293.50 C131.20,293.48 131.95,294.85 132.70,296.90 C133.45,298.95 134.25,302.47 135.00,305.80 C135.75,309.13 136.47,313.20 137.20,316.90 C137.93,320.60 138.48,324.32 139.40,328.00 C140.32,331.68 141.40,335.87 142.70,339.00 C144.00,342.13 145.35,344.38 147.20,346.80 C149.05,349.22 151.22,351.47 153.80,353.50 C156.38,355.53 159.73,357.33 162.70,359.00 C165.67,360.67 168.63,362.25 171.60,363.50 C174.57,364.75 178.43,365.88 180.50,366.50 C182.57,367.12 183.42,367.08 184.00,367.20" fill="none" stroke="#000" stroke-width="1.5" stroke-linejoin="round" stroke-linecap="round"/>
<text x="212.2" y="163.3" font-size="12.4" font-weight="bold" text-anchor="start" fill="#000">E</text>
<defs><filter id="bl" x="0" y="0" width="1" height="1"><feGaussianBlur stdDeviation="0.5"/></filter><filter id="bl2" x="-0.2" y="-0.2" width="1.4" height="1.4"><feGaussianBlur stdDeviation="0.8"/></filter><filter id="bl3" x="-0.2" y="-0.2" width="1.4" height="1.4"><feGaussianBlur stdDeviation="0.45"/></filter></defs>
<svg x="213.9" y="200.1" width="96.0" height="74.6" viewBox="213.9 200.1 96.0 74.6" overflow="hidden">
<g filter="url(#bl)"><rect x="213.9" y="200.1" width="96.0" height="74.6" fill="#0e0e0e"/>
<path d="M269.5 206.1l0.7 -2.9M253.6 269.2l0.7 -1.7M299.6 235.5l0.6 -0.3M227.0 263.1l0.8 -2.0M242.1 244.4l1.0 -1.1M215.3 243.0l1.2 -1.3M219.7 214.5l0.6 -0.3M306.9 272.9l1.1 -2.0M247.0 225.4l2.2 -1.8M290.6 219.9l0.4 -1.9M294.3 260.9l0.4 -1.0M271.0 231.2l0.1 -0.7M231.0 270.0l2.1 -1.2M267.1 211.4l1.1 -1.1M220.1 261.1l0.6 -1.0M293.7 234.8l0.7 -1.9M233.9 205.8l0.8 -2.6M293.2 244.8l2.1 -2.0" stroke="rgb(12,12,12)" stroke-width="1.8" stroke-linecap="round" fill="none"/>
<path d="M260.2 244.4l0.6 -0.6M217.7 214.1l1.1 -0.4M255.6 239.4l0.3 -0.4M239.4 266.8l0.8 -2.3M296.0 210.3l1.2 -0.8M274.9 241.1l0.5 -0.8M290.4 234.6l0.6 -0.5M220.1 263.1l1.4 -0.9M285.3 263.4l2.2 -1.7M285.9 218.8l0.6 -0.3M236.8 266.9l0.5 -0.4M259.3 229.3l0.8 -0.7M274.5 252.4l0.8 -1.1" stroke="rgb(12,12,12)" stroke-width="1.4" stroke-linecap="round" fill="none"/>
<path d="M221.7 212.1l0.8 -0.4M243.6 241.8l0.6 -0.5M251.4 207.2l0.5 -0.2M279.1 253.2l0.8 -2.2" stroke="rgb(12,12,12)" stroke-width="2.4" stroke-linecap="round" fill="none"/>
<path d="M268.2 253.5l0.9 -2.3M248.6 261.5l1.4 -2.0M286.9 233.6l0.8 -0.9M251.6 239.8l1.8 -2.2M301.5 230.8l0.8 -2.0M228.0 244.6l2.4 -1.4M216.5 254.4l0.4 -1.4M267.7 244.3l2.5 -1.2M242.3 202.3l0.4 -0.7M247.3 250.1l2.3 -1.2M264.6 267.0l0.7 -0.5M282.0 205.6l1.9 -1.7M291.6 273.1l0.7 -0.7M292.8 268.3l1.9 -2.0M217.0 204.7l1.0 -0.8M278.5 247.4l1.4 -1.4M277.8 209.8l1.5 -2.5M221.8 218.3l0.8 -1.8" stroke="rgb(12,12,12)" stroke-width="1.2" stroke-linecap="round" fill="none"/>
<path d="M273.8 251.7l0.4 -1.6M272.0 268.3l0.9 -2.7M284.2 266.5l2.5 -0.9M276.9 233.5l0.5 -0.2M256.8 215.9l1.8 -1.1M219.5 265.5l1.6 -0.9M226.4 248.6l1.6 -2.0M249.6 247.0l0.3 -1.4M272.7 261.9l1.2 -2.1M289.3 247.2l1.2 -1.9M239.0 270.8l1.4 -0.8M286.7 265.4l0.2 -1.0M238.5 211.6l2.7 -1.0M222.6 238.2l0.9 -2.1M236.7 244.6l1.2 -1.3M279.5 267.4l0.4 -0.4" stroke="rgb(12,12,12)" stroke-width="1.6" stroke-linecap="round" fill="none"/>
<path d="M290.2 223.7l1.8 -2.3M274.5 260.7l0.4 -0.4M242.1 226.9l1.0 -2.4M275.0 262.4l0.7 -1.1M294.8 218.0l0.5 -1.9M285.3 238.0l2.0 -1.2M289.4 266.8l0.1 -0.7M249.4 212.4l0.8 -0.5M239.9 263.5l0.3 -1.7M259.4 206.9l0.7 -0.7M262.4 249.8l1.1 -0.7" stroke="rgb(12,12,12)" stroke-width="2.2" stroke-linecap="round" fill="none"/>
<path d="M226.4 217.3l0.4 -0.5M284.0 271.9l1.3 -2.2M291.9 243.4l0.7 -0.7M236.1 259.5l0.6 -0.6M268.4 253.5l1.4 -2.6M254.4 240.4l0.2 -1.1M292.6 212.4l0.3 -0.6M297.9 231.2l0.6 -0.5" stroke="rgb(12,12,12)" stroke-width="2.0" stroke-linecap="round" fill="none"/>
<path d="M246.6 239.1l0.9 -0.5M308.5 228.8l1.7 -0.9M289.4 221.6l0.6 -0.4M250.1 251.5l0.7 -2.6" stroke="rgb(12,12,12)" stroke-width="1.0" stroke-linecap="round" fill="none"/>
<path d="M244.6 212.6l0.7 -2.5M224.4 232.4l1.6 -2.3M277.0 268.8l0.6 -1.6M262.1 242.6l1.2 -1.1M236.5 206.8l0.9 -2.6M246.2 231.7l0.2 -0.5M244.1 227.8l1.0 -1.5M272.9 251.5l1.1 -2.2M248.0 216.0l1.7 -2.3M268.7 269.7l0.4 -0.8M295.6 240.0l1.4 -2.4M218.4 259.0l0.6 -2.2M232.9 264.9l1.2 -1.6M278.5 216.3l0.6 -1.6M254.1 271.1l1.2 -1.6M306.3 216.4l1.1 -2.4M246.5 257.4l0.4 -0.7M259.1 270.9l1.2 -2.3M307.9 262.4l2.2 -1.4M229.4 228.4l1.6 -2.0M234.8 254.7l0.6 -1.7M304.5 231.9l1.3 -1.8M256.7 218.7l0.7 -0.4M258.4 230.9l1.4 -1.8M235.1 255.3l0.7 -0.3M227.6 202.0l2.1 -1.1M221.2 239.4l2.0 -1.1M280.3 204.9l1.8 -1.2M243.9 261.3l0.4 -1.4M233.4 223.7l0.2 -0.8M257.5 254.0l2.1 -1.0M265.9 238.3l1.1 -1.7M279.3 224.9l1.3 -2.2M232.4 272.1l1.0 -1.0M308.9 247.2l0.8 -1.2M231.1 259.5l1.2 -2.1M235.8 207.8l0.8 -0.8M290.8 238.0l1.9 -1.0M302.3 260.8l1.2 -0.5M240.2 207.9l0.6 -0.6M290.8 210.0l1.4 -2.6M235.9 256.1l2.3 -1.2M285.9 207.2l0.5 -0.6M309.1 254.6l0.7 -0.3M282.1 260.8l0.9 -0.4" stroke="rgb(24,24,24)" stroke-width="2.0" stroke-linecap="round" fill="none"/>
<path d="M269.7 268.7l0.4 -1.5M269.6 234.9l0.9 -2.0M237.7 206.0l0.8 -0.7M260.7 234.4l0.8 -1.3M219.2 269.9l1.4 -2.4M214.2 270.4l1.0 -1.8M240.5 220.5l0.4 -0.9M223.9 270.5l0.5 -2.2M300.7 221.8l1.6 -1.0M241.8 260.4l1.2 -0.6M302.4 207.6l0.5 -0.4M260.9 237.6l0.7 -0.4M246.7 213.3l2.4 -1.0M260.2 259.6l0.5 -0.8M230.6 263.7l0.6 -0.3M243.9 258.5l1.3 -0.9M217.4 267.8l1.4 -1.8M303.4 249.0l0.6 -0.4M270.3 216.4l1.4 -0.7M260.3 206.4l0.9 -1.7M247.7 274.9l2.1 -1.9M277.3 239.6l0.5 -1.1M287.6 209.9l0.4 -1.9M214.3 274.2l0.4 -0.6M274.7 258.6l0.8 -0.9M252.3 243.2l0.7 -0.6M231.8 230.3l0.6 -0.3M261.3 243.3l0.1 -0.5M273.0 222.5l0.5 -1.0M288.9 249.9l0.3 -0.9M219.1 223.4l1.5 -2.4M273.0 229.7l0.4 -0.3M265.7 249.4l2.3 -1.5M284.5 210.9l0.3 -0.6M220.4 206.9l0.3 -1.3M270.3 204.1l1.9 -1.5M303.8 266.7l0.5 -2.2M246.2 203.4l0.5 -2.7M225.0 258.9l1.9 -1.6M293.1 222.2l1.4 -0.7M268.1 216.8l0.6 -1.7M301.9 261.6l0.4 -0.7" stroke="rgb(24,24,24)" stroke-width="1.4" stroke-linecap="round" fill="none"/>
<path d="M221.5 232.7l2.1 -1.9M295.4 260.6l0.6 -0.8M228.0 272.7l0.4 -0.4M286.2 203.5l0.9 -1.2M260.2 272.1l1.8 -1.3M262.9 252.5l2.2 -2.0M265.1 217.1l0.9 -1.7M214.7 262.4l0.4 -0.4M302.5 205.8l1.2 -1.2M257.7 207.0l0.8 -0.8M256.9 271.6l2.0 -1.8M266.0 202.9l2.0 -1.5M292.0 253.4l1.1 -1.3M260.0 202.7l0.8 -0.5M240.4 260.4l1.0 -1.9M297.4 248.1l1.2 -0.6M284.2 268.2l0.9 -1.6M281.5 233.9l1.1 -1.8M245.3 236.8l0.9 -0.9M292.1 206.3l2.3 -1.6M254.4 265.0l0.5 -0.3M278.7 209.6l0.8 -2.0M262.2 261.6l1.9 -0.7M224.0 272.9l2.1 -1.2M226.6 271.4l0.9 -0.4M215.0 259.2l0.9 -2.3M287.6 258.8l0.5 -1.8M277.2 265.7l0.7 -1.0M256.1 231.1l2.4 -1.0M252.6 272.3l1.1 -0.9M297.8 225.4l0.2 -0.9M235.2 226.2l1.8 -0.9M276.4 228.8l0.9 -0.7M277.1 204.8l2.3 -1.2M244.8 202.5l1.0 -1.0M261.3 267.5l1.6 -0.7M287.7 261.1l1.0 -2.2M283.5 254.2l1.7 -0.8M247.4 264.8l0.5 -2.5M300.4 217.0l1.0 -0.5M268.6 274.0l0.7 -0.3M227.8 244.5l0.9 -0.9M219.7 244.4l0.5 -0.7M245.8 208.9l0.9 -1.5M249.6 260.6l1.0 -0.7M243.1 219.2l0.5 -0.5M275.8 220.1l1.3 -0.9M266.9 206.5l1.1 -0.9M223.5 247.1l1.8 -1.5" stroke="rgb(24,24,24)" stroke-width="2.2" stroke-linecap="round" fill="none"/>
<path d="M295.6 222.4l1.3 -1.4M250.2 217.8l0.4 -1.0M257.7 236.9l1.9 -1.4M234.3 217.3l1.6 -0.6M227.2 274.0l0.2 -0.5M293.1 266.5l0.3 -1.8M282.1 250.7l1.1 -2.7M274.8 206.5l1.7 -1.3M301.6 269.8l0.6 -0.6M267.2 229.8l0.4 -0.5M275.3 223.5l1.1 -1.5M216.9 222.5l1.7 -1.0M221.6 239.2l1.0 -2.4M234.2 247.0l0.2 -0.8M262.8 244.5l1.2 -2.6M259.5 257.4l1.7 -1.6M223.1 249.0l1.2 -1.7M266.9 260.2l0.3 -1.2M236.1 255.3l0.7 -2.8M252.8 221.6l0.7 -1.7M256.5 226.6l0.2 -0.6M251.6 269.6l0.6 -1.1M277.5 225.9l0.3 -0.7M247.3 247.4l0.9 -0.8M279.1 229.1l1.4 -1.2M276.9 273.1l0.5 -1.9M225.2 241.0l0.8 -0.8M307.1 217.0l0.2 -0.5M230.9 265.4l0.7 -2.6M276.1 252.8l1.4 -1.9M259.8 211.5l0.5 -0.6M262.4 274.6l0.3 -1.5M217.1 262.1l1.1 -0.5M301.4 243.6l2.4 -1.4M220.2 230.2l0.5 -1.8M239.8 258.0l0.6 -0.9M286.3 217.4l2.1 -1.2M235.7 233.4l0.7 -0.9M270.7 268.5l1.2 -2.3M225.0 273.2l0.9 -2.8M218.4 267.6l1.1 -2.3M229.1 217.3l0.6 -1.9M229.3 235.3l1.6 -1.3M301.4 243.0l0.7 -2.1M254.7 270.1l0.3 -0.7M286.4 244.3l1.3 -0.5M243.2 203.4l1.8 -2.3M223.6 222.2l1.7 -1.3M282.1 238.7l1.2 -1.0M229.1 233.0l0.6 -0.4M296.6 248.7l0.7 -2.2M250.1 260.4l2.0 -1.4M252.8 239.0l1.2 -1.7M299.9 215.4l0.3 -1.1M274.2 259.4l0.6 -1.4M272.8 207.2l1.7 -0.9M220.7 255.6l1.2 -1.9" stroke="rgb(24,24,24)" stroke-width="1.2" stroke-linecap="round" fill="none"/>
<path d="M278.9 208.3l1.0 -1.0M258.9 252.8l1.9 -2.1M222.4 263.8l0.6 -1.3M261.4 219.2l2.5 -1.2M293.3 230.7l1.5 -2.5M294.1 201.9l0.4 -1.5M239.1 272.3l1.8 -1.5M232.2 206.4l0.7 -1.5M262.2 204.4l1.4 -2.5M215.9 205.2l0.9 -0.4M234.7 262.4l0.8 -0.4M301.3 208.3l0.3 -0.8M255.5 258.2l1.0 -0.9M237.2 224.7l1.0 -0.4M297.3 248.7l1.6 -1.5M256.9 224.7l1.1 -2.5M244.1 237.2l1.1 -1.8M217.6 247.7l0.3 -0.7M249.5 252.3l1.1 -2.2M213.9 262.9l0.3 -1.4M263.5 234.0l0.6 -1.3M274.4 227.9l0.5 -1.2M299.9 207.0l1.0 -1.2M247.3 257.5l1.2 -1.0M227.3 215.2l0.7 -0.5M304.5 262.0l1.7 -0.7M228.8 222.8l0.3 -0.8M239.3 219.6l1.8 -1.2M274.0 218.6l1.8 -1.3M256.3 209.6l0.8 -2.3M278.5 228.2l1.4 -1.5M243.2 219.6l0.7 -0.5M236.7 265.2l0.5 -0.2M260.7 259.4l0.2 -0.7M298.9 206.7l0.9 -0.6M289.4 211.5l0.4 -0.8M243.0 227.4l1.1 -0.9M304.0 246.3l1.8 -1.3M247.5 225.5l0.2 -0.7M273.5 222.5l1.7 -1.3M299.0 234.6l0.9 -0.7M260.9 265.0l0.4 -0.4M285.5 258.4l1.9 -1.7M258.8 215.7l0.7 -1.6M245.6 229.1l0.5 -0.3M283.1 232.0l1.9 -0.7M234.4 268.5l1.4 -1.5M266.5 216.5l1.0 -2.2M224.1 222.9l1.4 -2.3M293.1 251.7l0.9 -0.4M276.9 236.7l1.0 -1.1M301.6 236.3l0.9 -1.9M301.5 222.9l0.6 -0.4M243.2 272.6l1.4 -1.2M299.2 214.3l0.3 -0.9M306.7 258.3l2.4 -1.6M239.8 219.7l1.1 -1.7M218.8 270.7l0.3 -0.5M245.8 248.9l2.1 -1.8M277.9 240.6l1.0 -1.6" stroke="rgb(24,24,24)" stroke-width="1.8" stroke-linecap="round" fill="none"/>
<path d="M260.7 260.7l1.8 -2.2M223.0 248.6l1.8 -2.4M255.9 214.1l0.6 -0.7M287.9 266.3l1.0 -0.7M299.5 221.4l0.6 -2.4M223.4 213.1l2.1 -1.9M221.6 258.3l1.0 -0.5M217.3 225.6l0.5 -0.4M280.7 234.5l2.2 -1.5M226.9 249.2l0.6 -2.3M237.8 256.3l1.6 -2.2M275.9 274.2l0.2 -1.3M224.0 273.6l1.6 -0.9M222.9 210.5l1.3 -2.6M250.2 230.5l1.4 -0.7M295.7 246.5l0.5 -2.2M293.6 219.7l1.4 -1.3M298.7 244.8l2.1 -1.5M304.7 216.7l2.1 -1.5M308.4 223.8l1.3 -1.8M289.6 203.5l2.6 -1.1M241.3 268.5l0.5 -1.5M306.0 268.6l1.5 -2.2M230.1 252.2l0.8 -0.4M288.0 218.3l2.6 -1.1M247.3 229.3l0.8 -1.1M256.3 236.3l0.8 -0.4M222.4 268.5l0.6 -2.1M241.3 262.5l1.4 -1.0M257.2 237.2l0.2 -1.0M294.2 209.5l0.3 -0.5M283.5 237.3l0.6 -2.5M244.4 265.7l0.4 -0.4M291.4 217.4l0.6 -0.4M228.3 252.4l0.5 -0.9" stroke="rgb(24,24,24)" stroke-width="1.0" stroke-linecap="round" fill="none"/>
<path d="M304.4 245.5l2.5 -0.9M305.1 230.2l0.5 -0.7M264.4 215.8l1.0 -0.6M218.2 255.7l1.0 -1.9M294.5 205.5l1.1 -0.7M220.6 206.7l1.6 -1.1M307.9 208.3l2.4 -1.1M233.3 246.8l0.5 -0.3M280.4 264.9l0.9 -1.7M216.3 231.3l1.1 -0.8M268.2 256.7l1.6 -1.4M246.7 215.9l0.6 -1.2M252.8 243.2l0.2 -0.5M273.9 254.4l0.6 -2.7M304.6 254.6l0.7 -0.5M296.8 228.1l0.6 -0.6M297.3 220.2l0.4 -0.4M274.4 252.7l0.4 -0.3M290.7 232.8l0.7 -0.3M293.8 210.0l0.5 -0.8M288.4 224.8l1.6 -1.4M278.5 230.3l1.3 -1.8M298.1 210.0l0.3 -1.8M296.4 232.6l0.8 -1.2M255.7 239.7l0.6 -0.8M216.3 217.1l1.9 -1.2M265.1 209.8l0.4 -1.9M303.9 262.0l0.8 -0.7M277.1 263.9l0.6 -1.0M244.7 215.8l0.3 -0.7M265.7 213.9l0.5 -1.3M239.2 269.3l0.4 -0.5M262.6 271.8l0.8 -1.9M249.5 237.5l1.9 -1.0M299.0 268.5l0.9 -1.8M247.0 252.0l1.4 -0.8M222.3 269.3l0.4 -0.5M224.6 265.4l0.4 -0.6M232.2 248.4l0.5 -0.2M275.6 229.2l1.0 -2.8M273.8 264.1l1.6 -2.2M223.7 269.6l1.0 -0.9M221.8 260.5l0.7 -1.2M217.4 259.5l0.2 -1.3M289.8 218.6l1.9 -1.4M257.5 256.3l1.0 -0.4M230.8 253.7l1.8 -1.9M256.3 207.5l0.2 -0.9M240.1 240.9l0.3 -1.5M257.3 232.7l0.4 -0.5M273.6 221.4l0.7 -0.9M294.7 222.4l0.9 -2.2" stroke="rgb(24,24,24)" stroke-width="1.6" stroke-linecap="round" fill="none"/>
<path d="M262.7 206.3l0.8 -2.8M243.6 261.0l0.5 -0.4M251.1 216.5l1.2 -0.9M307.6 267.0l0.8 -1.9M254.0 274.3l0.6 -0.9M297.0 268.8l0.4 -1.0M238.3 272.7l0.8 -2.8M263.4 232.1l1.1 -2.8M258.4 232.3l0.5 -0.8M250.6 245.0l1.0 -1.4M214.6 250.5l0.3 -1.0M286.9 262.3l1.3 -2.3M265.1 202.6l0.7 -1.9M282.9 228.7l0.8 -1.0M219.5 202.1l0.9 -2.6M274.4 223.2l2.5 -1.6M261.8 245.0l2.2 -1.4M216.4 226.1l1.3 -1.8M246.8 249.5l2.1 -0.9M280.0 214.1l1.6 -2.1M244.5 273.9l1.1 -2.7M268.2 241.3l1.5 -0.9M239.2 239.4l1.6 -2.5M281.0 238.9l0.5 -0.6M229.4 205.5l0.4 -2.0M261.2 269.0l0.6 -1.7M239.7 238.2l0.5 -2.6" stroke="rgb(24,24,24)" stroke-width="2.4" stroke-linecap="round" fill="none"/>
<path d="M305.9 206.5l0.7 -1.2M225.9 233.2l2.3 -1.9M292.4 253.4l2.8 -1.1M277.0 229.1l1.6 -1.2M298.9 259.5l1.5 -1.8M286.2 274.8l2.7 -1.2M224.1 240.9l1.8 -2.3M234.4 222.2l1.6 -0.8M242.4 239.8l1.4 -1.4M300.5 203.8l0.3 -0.9M248.1 248.7l1.4 -0.9M304.2 202.2l1.4 -1.4M298.7 268.9l0.3 -1.1M226.5 216.2l1.7 -1.9M264.8 224.1l1.2 -1.4M278.4 250.7l1.1 -0.6M224.7 239.0l1.9 -1.3M298.5 211.7l0.6 -2.0M241.7 233.9l1.2 -1.5M253.6 240.2l0.5 -1.1M273.2 265.4l0.8 -0.5M235.6 272.2l0.5 -1.2M216.1 236.6l0.8 -0.4M235.4 215.6l1.6 -1.0M252.5 204.3l0.9 -1.0M217.6 224.3l2.5 -1.5M241.2 218.1l1.8 -1.4M293.3 260.4l1.1 -1.0M286.6 222.6l1.1 -1.5M297.4 240.1l0.4 -0.7M220.7 204.7l1.3 -1.1M276.6 235.9l0.5 -1.1M293.0 223.8l0.2 -0.6M272.0 235.9l0.3 -0.8M255.5 237.9l2.5 -1.0M269.2 270.8l1.1 -0.8M227.7 225.5l1.0 -0.7M228.1 251.7l2.5 -1.2M307.6 211.1l1.0 -1.1M239.0 266.7l1.2 -1.8M308.9 202.3l0.6 -0.4M245.2 246.8l1.8 -1.6M253.2 209.9l1.0 -1.4M240.2 211.9l0.4 -0.8M259.5 248.8l0.5 -2.8M304.8 219.9l0.9 -2.7M268.3 256.9l1.6 -1.4" stroke="rgb(36,36,36)" stroke-width="1.8" stroke-linecap="round" fill="none"/>
<path d="M256.5 253.8l0.3 -0.4M272.2 201.4l0.7 -2.4M289.0 225.4l1.4 -1.0M248.9 237.5l0.1 -0.6M302.7 253.8l0.3 -1.1M216.7 231.0l0.1 -0.6M301.2 261.9l0.8 -2.0M242.7 272.8l1.9 -1.3M250.5 274.2l0.6 -1.5M264.2 217.2l0.6 -1.6M278.5 236.5l1.1 -0.9M306.3 253.4l2.2 -1.6M233.8 207.5l1.0 -1.0M265.9 228.3l1.3 -1.6M244.7 263.4l0.6 -0.8M267.3 243.6l1.0 -1.4M217.2 231.6l1.6 -1.7M262.1 267.2l0.3 -0.8M282.5 270.1l1.2 -2.5M217.5 234.4l2.0 -1.7M233.4 240.6l1.5 -2.1M246.6 237.8l2.6 -1.4M238.5 263.5l1.1 -1.4M289.7 250.8l0.4 -2.4M219.5 245.5l1.8 -0.9M262.6 234.7l1.3 -2.1M304.6 225.8l1.4 -2.5M309.1 218.0l1.0 -1.8M215.1 241.9l1.3 -1.6M248.9 203.1l0.8 -0.7M247.7 249.6l1.7 -1.4M255.4 246.6l1.0 -2.3M240.8 269.2l0.2 -0.6M286.0 256.4l0.5 -1.4M286.5 221.1l0.2 -1.0M252.2 238.2l1.2 -0.7M239.6 274.6l1.2 -2.6M266.5 273.7l0.6 -1.1M287.7 248.8l0.9 -2.8M301.4 248.5l1.9 -1.2" stroke="rgb(36,36,36)" stroke-width="2.2" stroke-linecap="round" fill="none"/>
<path d="M229.9 209.2l0.3 -0.7M222.8 218.0l2.5 -1.1M239.2 230.9l2.1 -1.9M275.6 202.8l0.7 -2.4M217.1 273.1l0.6 -1.2M242.0 228.9l1.9 -0.8M290.5 272.0l1.9 -2.3M303.3 265.6l1.8 -0.7M281.7 237.4l0.8 -2.5M307.8 229.7l0.4 -0.8M258.0 270.0l0.5 -2.4M229.1 224.2l2.4 -1.6M253.4 222.8l2.1 -1.3M273.1 223.2l0.4 -1.5M227.2 269.7l0.3 -1.1M268.3 224.6l1.6 -0.9M300.4 214.6l0.8 -1.6M218.1 206.5l0.9 -0.9M261.8 214.8l2.4 -1.0M272.4 224.6l2.0 -1.5" stroke="rgb(36,36,36)" stroke-width="1.0" stroke-linecap="round" fill="none"/>
<path d="M305.0 234.7l1.5 -2.5M295.1 250.7l0.8 -0.4M223.9 256.9l2.8 -1.0M245.0 233.2l2.2 -1.2M218.7 239.2l0.6 -0.9M245.5 235.2l0.4 -0.4M229.9 244.3l2.3 -1.8M217.0 256.8l1.8 -1.1M231.3 220.7l0.5 -0.8M291.4 266.2l1.6 -0.7M224.2 229.5l0.9 -0.5M309.0 261.1l0.9 -1.9M287.8 236.2l1.6 -1.9M267.6 265.2l0.7 -0.3M257.4 248.2l1.2 -0.9M306.6 227.5l0.7 -1.1M248.6 258.5l1.6 -0.7M286.3 231.3l0.6 -0.9M271.1 265.2l0.5 -0.3M256.7 264.5l0.5 -2.8M269.1 234.2l1.5 -1.5M228.8 258.1l0.7 -2.3" stroke="rgb(36,36,36)" stroke-width="2.4" stroke-linecap="round" fill="none"/>
<path d="M233.1 234.3l0.4 -1.6M290.9 242.4l1.8 -2.4M252.9 240.1l1.5 -1.8M221.6 217.6l0.2 -1.0M277.5 229.1l0.5 -1.5M232.1 240.8l1.3 -0.6M252.1 205.4l0.4 -0.6M292.9 258.6l0.3 -1.6M215.0 268.4l0.8 -0.8M277.0 217.4l2.2 -1.0M214.4 266.2l0.5 -0.6M267.0 229.5l0.2 -1.1M224.3 224.7l0.8 -0.9M276.5 242.8l1.3 -1.1M298.8 251.0l0.9 -1.7M287.6 273.5l0.9 -1.0M220.0 248.5l0.5 -0.5M217.1 258.3l2.5 -0.9M244.4 203.8l1.5 -1.2M270.3 235.2l1.0 -1.2M277.1 223.4l1.0 -1.9M284.9 226.2l0.5 -1.3M295.0 208.2l0.6 -1.1M276.5 211.0l2.3 -1.0M296.9 241.6l1.0 -1.3M276.7 216.5l2.1 -1.8M298.4 275.1l0.5 -2.0M301.9 230.4l0.7 -0.6M213.6 204.2l0.9 -0.9M278.2 217.0l0.2 -0.6M234.1 234.6l0.4 -1.6M235.9 260.3l0.6 -2.5M255.9 259.9l0.4 -1.7M305.3 230.1l1.5 -1.6M238.7 259.2l1.9 -0.7M251.3 201.7l1.0 -1.3" stroke="rgb(36,36,36)" stroke-width="1.6" stroke-linecap="round" fill="none"/>
<path d="M263.2 225.7l0.4 -0.6M213.8 220.6l1.1 -1.6M257.2 264.0l1.8 -1.6M250.3 265.6l2.1 -1.1M238.7 239.2l1.4 -2.0M226.8 215.3l0.9 -1.7M228.9 269.0l0.5 -1.2M275.0 208.9l0.3 -1.6M252.1 254.1l0.3 -1.7M277.6 243.9l2.2 -0.9M288.0 227.1l0.9 -2.3M267.5 244.2l1.4 -0.6M301.7 253.4l1.4 -1.3M226.4 234.3l1.9 -1.8M248.5 228.3l0.5 -1.7M291.0 257.0l0.3 -0.6M287.3 262.3l0.3 -0.4M216.0 229.9l0.7 -0.6M294.5 270.3l1.2 -2.0M238.5 202.4l0.2 -1.1M213.9 214.9l0.3 -0.5M277.4 256.5l2.3 -1.6M257.4 225.7l0.9 -1.2M282.6 255.8l1.4 -0.6M275.7 266.6l0.9 -1.8M224.5 249.6l2.2 -2.0M264.2 218.5l0.3 -1.0M286.2 203.5l0.4 -2.1M244.4 256.6l0.7 -0.6M293.3 213.7l1.2 -1.9M285.3 225.9l0.1 -0.6M248.0 253.7l1.3 -1.9M217.4 233.0l2.0 -2.0M289.5 259.6l0.4 -1.0M304.3 220.5l1.3 -0.8M232.9 255.0l1.3 -1.2M218.8 232.6l0.5 -1.7M248.3 267.7l1.0 -0.5M284.6 224.6l1.2 -1.3M274.1 270.4l1.6 -1.4M232.0 239.3l1.1 -1.1M243.0 204.7l0.5 -0.4M281.5 216.1l0.5 -0.8M254.8 209.5l0.5 -0.3M243.2 227.0l1.0 -2.6" stroke="rgb(36,36,36)" stroke-width="1.2" stroke-linecap="round" fill="none"/>
<path d="M245.9 234.8l1.0 -0.9M238.4 203.7l2.1 -1.2M237.9 256.2l1.0 -1.9M235.8 216.9l0.6 -0.5M230.5 234.0l2.2 -0.8M294.8 258.9l1.1 -1.6M282.2 206.6l1.8 -1.2M229.0 270.2l0.8 -0.5M285.2 232.0l0.4 -0.9M227.1 223.6l0.2 -0.9M257.2 221.0l0.3 -1.2M232.1 205.6l2.4 -1.1M292.7 268.6l1.7 -0.9M281.5 225.8l2.3 -1.5M219.2 246.3l0.2 -0.9M246.2 270.1l0.6 -2.9M307.7 265.9l1.0 -1.1M249.5 211.9l2.3 -1.1M300.5 204.7l1.3 -1.8M281.9 229.2l0.7 -2.6M217.3 246.6l1.2 -0.7M298.3 204.6l1.9 -1.6M214.4 240.1l1.3 -0.6M293.3 262.8l0.3 -0.9M216.6 253.7l0.3 -0.7M307.6 232.9l0.8 -0.4M282.4 203.6l0.6 -2.4M244.1 215.6l0.5 -0.4M306.3 215.7l0.7 -2.0M257.8 225.9l1.0 -1.1M277.9 240.0l0.6 -0.7M285.6 263.1l0.3 -1.1M289.4 245.3l0.8 -2.4M238.6 237.1l2.3 -1.2M303.2 273.8l0.6 -2.4M282.5 204.2l1.0 -0.7M293.6 218.9l0.2 -0.6M292.0 233.1l0.3 -0.9M272.6 261.1l1.3 -1.5M292.9 230.3l1.8 -1.8M223.8 235.9l0.2 -0.6M307.3 222.3l0.6 -1.7M307.4 259.2l1.8 -0.8M293.9 251.6l0.4 -1.2M242.5 217.8l0.8 -0.7" stroke="rgb(36,36,36)" stroke-width="2.0" stroke-linecap="round" fill="none"/>
<path d="M307.1 241.4l0.4 -1.0M225.1 226.1l0.8 -2.5M234.0 221.2l1.2 -1.7M250.1 257.7l0.6 -0.4M280.5 231.4l0.3 -1.5M270.6 246.3l0.2 -0.6M251.2 260.4l1.0 -1.7M254.3 201.8l0.5 -0.4M288.2 247.6l2.5 -1.3M246.9 264.0l2.1 -0.8M214.5 205.8l0.8 -1.2M231.2 261.8l0.8 -0.4M229.7 205.5l0.8 -0.8M215.5 253.3l0.8 -0.6M230.8 254.2l0.5 -1.0M225.6 243.9l1.9 -1.4M227.1 216.0l0.6 -2.2M255.4 208.5l1.1 -0.7M275.1 216.1l0.4 -1.4M236.0 274.3l1.6 -1.1M252.8 202.9l1.4 -2.4M306.6 263.1l1.8 -0.8M273.4 252.6l0.9 -1.0M243.1 258.1l0.4 -0.5M252.8 240.7l0.6 -1.2M249.4 267.1l1.4 -1.7M268.1 268.1l1.3 -1.6M249.0 243.9l2.2 -1.2M228.6 240.8l0.2 -0.9M225.9 229.4l0.4 -1.2M267.4 235.9l0.6 -0.3" stroke="rgb(36,36,36)" stroke-width="1.4" stroke-linecap="round" fill="none"/>
<path d="M219.5 205.2l0.8 -1.4M251.1 265.8l0.7 -1.3M271.4 224.8l2.2 -1.9M224.3 245.3l0.2 -0.8M242.2 248.3l0.9 -2.5M240.3 246.9l1.7 -1.2M226.0 227.6l1.4 -1.3M303.2 267.3l0.5 -0.4M218.3 269.9l0.7 -1.4M303.1 225.8l0.5 -2.3M288.0 271.6l1.2 -1.9M290.2 250.0l0.2 -0.7M228.1 209.6l1.7 -2.1M262.9 269.8l2.0 -1.3M239.4 262.1l1.8 -2.3M260.2 259.9l1.8 -0.8M288.7 221.8l0.8 -0.3M244.6 219.9l0.9 -1.2M245.5 255.9l0.6 -1.8M241.9 249.0l2.6 -1.2M240.2 247.4l1.0 -2.0M218.6 243.2l2.2 -2.0M223.6 208.2l1.1 -1.4M222.3 248.6l0.9 -2.0M307.1 243.3l1.8 -2.2M284.4 252.2l1.0 -1.0M278.4 260.4l1.5 -1.1M276.3 239.6l1.1 -0.8M261.3 270.0l0.6 -1.1M269.4 256.8l1.1 -0.5M285.9 247.8l0.3 -0.5M260.3 201.9l1.1 -1.1M277.1 260.5l0.5 -0.3M262.2 275.5l1.0 -1.9M280.0 221.6l0.4 -1.7M292.5 210.1l0.6 -0.9M255.6 211.3l0.4 -1.8M269.8 209.9l1.8 -0.8M298.2 246.3l0.5 -1.9M266.9 216.7l1.5 -2.0M246.9 224.5l0.8 -0.4M221.9 244.5l2.1 -1.3M222.1 269.2l0.5 -0.6M282.4 232.6l0.8 -0.9M238.0 238.9l0.8 -0.4M306.7 254.6l1.8 -1.4M231.0 274.7l2.4 -0.9M291.9 209.6l0.4 -1.1M295.0 234.0l2.0 -1.6M242.2 259.9l1.5 -1.4M291.2 246.3l1.8 -1.1M255.2 234.3l1.2 -2.2M237.7 220.1l1.7 -1.5M241.0 252.3l1.8 -1.7" stroke="rgb(48,48,48)" stroke-width="1.2" stroke-linecap="round" fill="none"/>
<path d="M268.5 239.5l1.1 -0.4M284.5 234.8l0.8 -1.2M248.3 202.5l1.1 -1.0M283.6 274.3l0.9 -0.7M290.8 211.9l1.1 -1.8M295.9 205.2l0.5 -0.2M214.8 235.6l1.6 -2.5M305.2 210.6l0.3 -1.1M288.2 259.3l0.5 -0.6M237.3 212.0l0.2 -0.9M243.4 216.0l1.0 -1.4M242.5 204.8l0.4 -2.3M270.3 228.5l0.7 -2.6M216.9 271.1l0.6 -0.4M225.1 232.2l0.4 -1.7M216.8 204.9l0.3 -0.6M283.4 213.4l1.0 -1.8M214.7 211.7l1.4 -0.7M250.9 253.6l2.0 -1.3M291.0 269.4l0.8 -2.1M257.1 225.8l0.4 -0.7M229.8 245.6l1.9 -1.3M299.0 252.7l1.6 -2.2M234.9 211.4l0.5 -1.3M270.7 214.6l0.8 -2.2M258.6 208.9l1.4 -0.8M231.8 206.1l1.3 -0.7M224.6 238.9l0.4 -1.5M303.3 216.7l0.5 -1.0M228.3 269.9l0.3 -0.5M288.5 254.2l1.5 -1.0M261.1 204.4l1.3 -0.8M283.3 224.3l2.0 -1.9M284.9 208.8l1.0 -2.3M297.0 265.9l0.7 -2.1M241.5 231.6l1.6 -0.7M217.0 233.1l0.3 -0.4M274.7 238.1l2.5 -1.4M239.7 229.0l1.7 -2.4M214.4 232.0l0.7 -1.7M242.9 225.0l0.5 -1.5M242.3 245.1l1.9 -1.9M234.3 272.0l0.5 -1.7M277.2 222.0l1.2 -2.5" stroke="rgb(48,48,48)" stroke-width="2.2" stroke-linecap="round" fill="none"/>
<path d="M227.5 241.0l0.9 -0.8M309.0 203.7l0.7 -1.7M280.5 223.9l2.0 -1.8M303.9 220.5l1.1 -1.5M301.9 264.6l2.3 -1.5M241.9 273.7l0.4 -1.3M300.7 202.1l1.3 -2.4M279.7 267.3l1.0 -0.5M233.7 228.6l2.2 -1.4M306.0 216.0l1.3 -2.6M296.9 227.0l0.9 -0.8M251.4 203.0l0.6 -0.5M213.1 266.3l2.2 -1.1M239.1 218.5l0.5 -0.5M257.4 216.1l1.0 -0.5M294.0 218.4l0.5 -1.6M236.4 225.7l0.9 -0.6M252.2 251.2l0.7 -0.8M309.0 267.3l1.4 -0.7M300.0 272.0l1.6 -2.2M256.0 206.0l1.5 -1.8" stroke="rgb(48,48,48)" stroke-width="1.0" stroke-linecap="round" fill="none"/>
<path d="M264.7 238.1l2.4 -0.9M291.1 211.0l1.6 -1.0M289.5 200.7l0.6 -1.0M294.0 218.4l1.0 -0.4M274.2 264.7l2.3 -1.3M257.5 234.1l2.2 -1.3M270.5 244.3l1.0 -2.1M272.1 238.3l0.4 -0.8M300.3 258.4l1.9 -1.8M220.6 222.3l0.3 -0.8M232.5 252.8l0.6 -2.1M258.8 221.7l0.8 -2.2M299.7 266.9l0.7 -1.6M232.7 257.1l0.7 -2.3M232.3 202.2l0.7 -1.5M266.1 263.2l0.6 -0.9M247.4 227.1l0.7 -1.3M228.1 222.9l1.6 -2.2M286.7 255.5l1.0 -0.5M289.5 207.8l1.7 -2.5M265.2 244.9l0.8 -1.8M235.1 241.3l0.5 -1.7M277.0 234.6l2.1 -1.1M247.3 229.0l0.9 -0.4M288.2 253.7l0.6 -0.4M236.1 244.3l1.8 -0.8M247.4 208.7l0.7 -2.1M263.0 211.7l0.3 -0.5M220.8 271.9l2.3 -1.8M219.5 231.7l1.5 -1.5M285.3 240.5l0.7 -0.6M287.7 204.7l1.2 -2.5M222.9 211.6l0.5 -1.7M275.3 207.0l1.7 -1.1M224.1 252.0l1.4 -0.5M258.8 220.1l1.4 -1.6M304.7 223.6l1.5 -0.7M296.2 249.7l1.2 -1.6M235.1 221.0l0.3 -0.5M249.5 218.1l1.8 -1.9M295.1 274.0l0.7 -0.8M222.3 202.5l0.2 -0.7M265.1 270.2l1.9 -1.6M254.1 266.9l2.2 -2.0M297.1 259.3l0.9 -2.8M274.1 218.7l1.1 -1.5" stroke="rgb(48,48,48)" stroke-width="1.8" stroke-linecap="round" fill="none"/>
<path d="M261.8 257.8l0.5 -1.5M282.9 242.3l1.1 -1.4M280.0 251.0l0.7 -1.0M287.0 208.0l0.4 -0.9M303.7 202.8l1.4 -1.8M280.6 238.4l0.3 -0.8M295.8 233.3l0.2 -1.2M234.5 272.7l2.2 -1.4M284.0 212.8l0.8 -1.5M216.2 269.9l2.4 -1.2M262.8 227.1l1.7 -2.1M265.4 217.8l0.9 -1.4M239.1 251.9l0.5 -2.5M242.8 218.5l1.7 -0.7M273.5 275.6l0.6 -2.3M291.2 230.4l2.2 -1.1M309.4 246.1l0.7 -0.3M222.7 240.1l0.6 -0.8M277.5 221.7l1.6 -2.5M261.4 263.6l0.5 -0.4M226.5 270.5l1.9 -2.0M238.3 271.4l0.3 -1.0M295.3 209.0l1.1 -2.3M248.2 252.3l0.5 -0.9M301.7 239.9l0.5 -0.6M306.0 240.8l1.0 -2.3M300.8 265.2l1.7 -2.1M297.9 206.6l0.3 -0.9M242.7 272.7l0.1 -0.6M219.1 214.7l0.5 -0.6M288.2 239.4l1.3 -1.4M222.2 235.0l0.7 -1.0M260.7 219.3l0.4 -1.0M215.9 233.6l0.3 -1.0M269.9 254.3l0.9 -0.9M215.5 234.5l0.9 -0.8M291.7 243.1l0.4 -1.4M268.8 229.2l1.0 -1.8M242.9 239.7l1.2 -2.3M216.5 258.4l1.9 -1.5" stroke="rgb(48,48,48)" stroke-width="1.4" stroke-linecap="round" fill="none"/>
<path d="M300.4 227.4l1.7 -1.9M273.1 210.4l0.9 -0.7M215.9 257.5l1.5 -1.1M302.8 240.0l0.3 -1.1M218.0 269.7l2.0 -1.0M231.2 216.8l0.5 -0.8M300.1 237.9l0.7 -0.9M263.6 266.0l0.8 -2.2M258.4 211.2l0.7 -0.6M245.6 265.3l1.7 -1.8M240.7 262.5l2.6 -1.4M212.9 220.5l2.3 -1.6M305.0 251.2l1.4 -2.2M289.0 263.9l0.8 -0.9M279.0 230.0l1.3 -1.7M269.6 272.2l0.4 -1.0M308.5 240.2l0.9 -0.5M234.8 251.1l0.3 -0.8M267.8 217.5l0.7 -0.9M264.8 239.3l2.4 -1.3M237.7 214.9l1.3 -0.9M245.8 201.9l0.2 -0.6M222.5 215.9l1.1 -1.8M299.2 234.1l0.4 -2.3M237.5 229.0l0.4 -1.1M218.1 240.8l1.7 -1.3M291.4 254.5l0.3 -0.7M294.2 275.4l0.8 -1.6M285.6 219.8l1.2 -1.7M291.6 220.7l0.3 -1.1M275.1 243.7l0.8 -1.4M266.9 237.6l0.6 -1.6M305.2 248.4l1.0 -0.6M223.8 205.5l0.6 -0.4M238.5 221.7l0.5 -2.0M216.1 224.7l0.8 -0.9M284.1 218.0l2.6 -1.2M226.6 269.1l0.3 -0.8M282.4 264.0l0.7 -2.0M270.7 234.9l0.4 -0.6M254.6 240.2l1.2 -2.1M221.9 204.7l2.1 -0.8M252.7 272.2l0.9 -1.1M234.3 228.8l1.7 -1.4M237.7 223.9l0.4 -0.5" stroke="rgb(48,48,48)" stroke-width="1.6" stroke-linecap="round" fill="none"/>
<path d="M261.7 238.8l1.5 -0.9M240.2 205.2l1.2 -2.6M268.1 227.5l1.8 -1.0M301.6 223.2l2.1 -1.9M228.8 231.3l0.9 -1.6M300.3 247.6l1.5 -0.8M228.8 270.9l1.9 -1.5M263.1 270.4l0.3 -1.4M298.4 246.1l2.1 -1.2M301.3 246.5l2.0 -1.9M272.8 248.2l0.7 -2.6M290.3 241.6l0.4 -1.3M229.8 211.2l1.8 -1.8M308.4 203.8l0.4 -2.0M241.3 208.8l1.2 -1.3M284.4 255.9l0.9 -0.8M254.7 260.2l1.0 -0.8M253.9 270.3l1.3 -1.6M253.7 221.7l2.0 -1.0M265.0 252.5l1.7 -0.9M261.9 227.4l0.6 -2.1M303.1 238.7l1.7 -0.7M304.8 227.5l2.0 -0.9M290.9 204.8l1.3 -0.5M219.0 263.0l0.7 -1.3M279.4 269.4l0.5 -2.2M303.2 239.1l0.3 -0.7M275.3 246.6l0.2 -0.8M215.4 235.8l1.8 -1.2M219.8 234.2l0.6 -0.3M236.0 207.8l0.3 -1.6M262.2 216.3l1.8 -0.9M227.0 271.1l0.5 -2.1M266.0 203.7l1.0 -0.9M285.0 200.7l1.2 -0.7M289.4 247.4l1.4 -1.2M214.9 248.0l2.5 -1.4M268.3 261.3l1.0 -1.8M286.1 206.2l0.4 -1.0M260.2 215.3l1.1 -1.5M224.9 252.1l2.4 -1.8M242.7 236.6l0.7 -2.9M252.0 212.9l0.9 -1.3M241.6 240.3l0.3 -0.7M232.8 203.3l0.4 -0.6M288.2 269.0l1.0 -1.1M304.3 272.5l1.4 -0.8M294.5 202.2l1.6 -1.0M252.4 208.7l0.6 -1.9M225.6 223.4l2.4 -1.3M213.7 225.1l1.7 -1.9M236.4 259.5l1.4 -1.1M298.5 218.9l1.6 -2.3M260.9 233.5l1.5 -1.8" stroke="rgb(48,48,48)" stroke-width="2.0" stroke-linecap="round" fill="none"/>
<path d="M228.7 258.8l1.2 -0.7M269.8 237.5l0.8 -0.4M242.7 246.5l0.7 -2.9M218.0 235.3l0.6 -0.4M286.2 208.8l0.7 -0.4M251.3 213.7l0.5 -1.6M232.7 255.1l0.2 -0.6M253.0 270.0l0.5 -2.6M270.6 234.5l0.4 -0.9M253.0 248.8l0.8 -0.3M256.0 238.1l1.6 -1.0M293.4 215.4l1.1 -0.4M256.5 269.5l0.5 -0.3M291.8 252.6l0.5 -1.2M253.5 225.6l0.8 -2.2M305.6 271.6l0.8 -0.4M278.1 204.6l2.1 -0.9M299.7 235.6l1.0 -1.0M306.5 249.0l0.9 -1.6M241.8 215.9l2.0 -1.6M221.7 216.5l1.1 -2.2" stroke="rgb(48,48,48)" stroke-width="2.4" stroke-linecap="round" fill="none"/>
<path d="M276.9 205.2l1.5 -1.2M227.5 239.6l2.3 -1.2M264.7 256.6l0.4 -0.4M253.2 274.6l0.7 -0.4M219.9 242.6l2.3 -1.8M214.0 236.6l1.7 -2.1" stroke="rgb(60,60,60)" stroke-width="2.0" stroke-linecap="round" fill="none"/>
<path d="M266.3 210.1l0.6 -0.4M251.3 220.4l2.3 -1.1M279.5 226.7l0.3 -1.2" stroke="rgb(60,60,60)" stroke-width="1.0" stroke-linecap="round" fill="none"/>
<path d="M259.0 270.4l1.0 -1.2M274.4 236.1l0.5 -0.9M259.1 215.3l0.3 -0.9M302.9 230.1l0.6 -0.5" stroke="rgb(60,60,60)" stroke-width="1.2" stroke-linecap="round" fill="none"/>
<path d="M245.8 206.7l0.6 -0.8M288.3 239.8l2.5 -1.3M260.8 242.4l1.8 -2.1M255.9 232.0l0.3 -0.9" stroke="rgb(60,60,60)" stroke-width="1.4" stroke-linecap="round" fill="none"/>
<path d="M215.3 251.8l0.2 -1.1M217.2 258.0l0.5 -0.2M263.9 264.2l1.6 -1.6M217.2 209.8l2.0 -1.2" stroke="rgb(60,60,60)" stroke-width="2.2" stroke-linecap="round" fill="none"/>
<path d="M237.1 219.3l1.9 -1.6M228.8 202.3l1.4 -2.1" stroke="rgb(60,60,60)" stroke-width="1.8" stroke-linecap="round" fill="none"/>
<path d="M294.6 256.4l0.7 -1.5M236.8 239.2l0.6 -1.2M256.4 230.6l0.5 -2.3M223.0 273.7l0.5 -0.5M284.8 264.5l0.4 -0.9M242.9 238.1l0.5 -2.7" stroke="rgb(60,60,60)" stroke-width="1.6" stroke-linecap="round" fill="none"/>
<path d="M245.6 253.3l0.5 -1.0" stroke="rgb(60,60,60)" stroke-width="2.4" stroke-linecap="round" fill="none"/>
<path d="M248.8 238.8l0.6 -0.3M227.4 205.1l0.8 -1.0M272.2 218.0l0.6 -0.9M268.5 272.8l1.4 -0.9M256.5 240.2l0.7 -0.3M264.7 247.4l0.1 -0.1M284.3 240.6l0.1 -0.2M264.9 254.1l1.4 -1.0M260.4 216.5l0.8 -0.7" stroke="rgb(96,96,96)" stroke-width="1.2" stroke-linecap="round" fill="none"/>
<path d="M291.8 222.7l0.1 -0.3M269.6 210.1l0.6 -0.5M245.7 251.3l1.0 -0.7M235.7 244.9l1.5 -0.8" stroke="rgb(96,96,96)" stroke-width="1.0" stroke-linecap="round" fill="none"/>
<path d="M216.6 269.2l0.3 -0.4M233.2 265.0l1.2 -1.0M224.4 269.9l1.0 -1.2M263.1 273.9l0.1 -0.2M235.3 204.3l1.0 -1.3M246.3 239.9l0.1 -0.3M216.4 263.6l0.3 -0.7M270.1 273.8l0.5 -1.1M290.1 241.3l0.4 -1.0" stroke="rgb(96,96,96)" stroke-width="0.8" stroke-linecap="round" fill="none"/>
<path d="M299.1 215.5l0.8 -1.0M231.0 269.0l0.5 -1.6M255.3 209.8l0.9 -0.5M247.1 226.5l1.5 -0.8M235.9 207.7l0.3 -0.5" stroke="rgb(108,108,108)" stroke-width="1.0" stroke-linecap="round" fill="none"/>
<path d="M246.5 262.1l0.8 -1.1M218.0 262.4l1.2 -1.3M245.5 253.7l0.3 -0.1M227.8 264.8l0.7 -0.3M257.7 215.5l0.1 -0.2M236.2 251.9l0.7 -0.7M297.8 243.1l0.2 -0.4M245.2 262.4l0.4 -0.6" stroke="rgb(108,108,108)" stroke-width="1.2" stroke-linecap="round" fill="none"/>
<path d="M300.0 233.6l1.3 -0.7M231.3 272.4l1.0 -1.1M309.2 248.9l0.2 -0.8M296.1 201.1l0.2 -0.4" stroke="rgb(108,108,108)" stroke-width="0.6" stroke-linecap="round" fill="none"/>
<path d="M279.3 228.6l0.2 -0.1M256.3 213.9l0.7 -0.7M223.3 260.3l0.5 -1.5M265.0 213.0l0.4 -0.6M244.8 228.4l0.5 -0.2" stroke="rgb(108,108,108)" stroke-width="0.8" stroke-linecap="round" fill="none"/>
<path d="M290.8 264.6l1.2 -0.5M249.3 263.7l0.0 -0.1" stroke="rgb(108,108,108)" stroke-width="1.4" stroke-linecap="round" fill="none"/>
<path d="M222.8 219.3l0.7 -0.9M232.7 226.1l1.6 -0.7M272.6 267.8l1.3 -1.0M287.3 264.8l0.3 -0.5M282.7 254.7l0.0 -0.1M234.4 242.8l0.5 -0.6M255.8 272.9l0.5 -0.8M262.3 215.3l0.2 -0.4" stroke="rgb(120,120,120)" stroke-width="1.0" stroke-linecap="round" fill="none"/>
<path d="M307.0 254.7l0.2 -0.5M238.5 252.3l0.3 -1.6M256.8 244.7l0.3 -1.0M298.9 262.8l1.3 -0.7M294.8 233.7l0.1 -0.3M229.6 215.1l0.5 -1.2M244.7 219.1l1.1 -0.9M265.3 259.0l0.6 -0.2M258.3 264.2l0.8 -0.4" stroke="rgb(120,120,120)" stroke-width="0.8" stroke-linecap="round" fill="none"/>
<path d="M249.4 204.6l0.7 -0.3M238.5 204.8l0.7 -1.1M216.1 239.9l0.7 -1.2M244.9 216.2l0.4 -0.9M280.5 223.9l0.1 -0.0M308.3 274.9l1.1 -0.6M308.8 238.5l0.4 -1.4M296.7 208.8l0.7 -0.7" stroke="rgb(120,120,120)" stroke-width="1.2" stroke-linecap="round" fill="none"/>
<path d="M231.7 253.4l0.4 -0.5M234.4 238.2l1.2 -1.3M260.3 273.5l0.7 -0.4M229.3 255.4l0.0 -0.1" stroke="rgb(120,120,120)" stroke-width="0.6" stroke-linecap="round" fill="none"/>
<path d="M231.3 232.9l1.0 -0.5M260.4 264.1l0.4 -1.4" stroke="rgb(120,120,120)" stroke-width="1.4" stroke-linecap="round" fill="none"/>
<path d="M227.8 231.6l0.4 -1.3M263.1 271.3l0.1 -0.2M254.0 244.1l0.3 -1.5M233.9 217.9h.01M288.2 200.7l1.2 -0.7M244.9 231.1l0.2 -0.2M306.3 267.8l0.6 -0.3" stroke="rgb(132,132,132)" stroke-width="0.8" stroke-linecap="round" fill="none"/>
<path d="M289.5 242.8l0.7 -1.5M242.1 246.1l0.7 -1.1M235.8 225.7l0.1 -0.1M294.0 242.1l0.6 -0.7M292.6 201.7l0.2 -0.4M249.1 270.1l0.5 -0.4M226.6 201.7l0.3 -0.4" stroke="rgb(132,132,132)" stroke-width="1.0" stroke-linecap="round" fill="none"/>
<path d="M306.4 217.7l0.5 -1.7M253.0 211.8l0.2 -0.3M223.8 256.5l0.4 -1.5" stroke="rgb(132,132,132)" stroke-width="1.2" stroke-linecap="round" fill="none"/>
<path d="M269.1 231.8l0.4 -0.6M252.3 260.2l0.7 -0.9M225.0 219.4l0.3 -0.5M242.7 253.7l0.8 -1.4M256.6 210.7l0.9 -0.7M241.1 270.4l0.4 -1.7" stroke="rgb(132,132,132)" stroke-width="0.6" stroke-linecap="round" fill="none"/>
<path d="M281.9 261.0l1.4 -1.0M221.1 229.1l0.1 -0.1" stroke="rgb(132,132,132)" stroke-width="1.4" stroke-linecap="round" fill="none"/>
<path d="M252.6 265.7l0.1 -0.5M230.5 218.2l0.2 -0.1M288.4 229.8l0.7 -1.1M298.8 239.9l0.3 -0.6M292.3 209.8l0.6 -0.8" stroke="rgb(144,144,144)" stroke-width="1.0" stroke-linecap="round" fill="none"/>
<path d="M274.4 211.4l0.5 -1.3M292.4 223.0l0.1 -0.2M246.7 212.1l0.3 -1.1M284.0 205.9l1.0 -0.8M299.3 226.8l0.1 -0.1M225.5 260.0l0.7 -1.6" stroke="rgb(144,144,144)" stroke-width="1.2" stroke-linecap="round" fill="none"/>
<path d="M255.3 242.1l0.1 -0.2M225.1 226.4l1.3 -1.1M302.1 233.6l0.7 -1.3M232.8 273.6l1.1 -0.6M237.5 272.9l0.1 -0.3M268.0 264.3l0.5 -0.7" stroke="rgb(144,144,144)" stroke-width="0.8" stroke-linecap="round" fill="none"/>
<path d="M258.0 222.2l0.8 -1.5M232.7 230.5l0.2 -0.4" stroke="rgb(144,144,144)" stroke-width="0.6" stroke-linecap="round" fill="none"/>
<path d="M248.2 243.9l0.7 -1.4M278.4 231.3l0.9 -0.8M237.4 251.9l0.6 -0.7" stroke="rgb(144,144,144)" stroke-width="1.4" stroke-linecap="round" fill="none"/>
<path d="M299.3 257.4l0.5 -0.4M285.1 207.7l1.0 -1.0M279.0 223.6l0.3 -1.6M232.3 251.1l0.1 -0.2" stroke="rgb(156,156,156)" stroke-width="1.2" stroke-linecap="round" fill="none"/>
<path d="M217.8 252.1l0.3 -0.2M296.6 215.1l0.7 -1.2M277.8 263.2l0.9 -0.5M254.5 214.0l0.1 -0.1M280.7 203.3h.01" stroke="rgb(156,156,156)" stroke-width="1.0" stroke-linecap="round" fill="none"/>
<path d="M224.7 256.4l0.9 -1.1M218.1 212.4l0.1 -0.1M264.3 258.0l1.3 -0.9" stroke="rgb(156,156,156)" stroke-width="0.8" stroke-linecap="round" fill="none"/>
<path d="M292.1 265.1l1.0 -0.7" stroke="rgb(156,156,156)" stroke-width="1.4" stroke-linecap="round" fill="none"/>
<path d="M276.7 232.3l0.5 -0.2M270.1 262.5l0.9 -1.6M305.6 219.2l0.3 -0.3M250.8 207.0l0.0 -0.2M277.0 210.0l0.2 -0.2M265.0 223.1l0.1 -0.1" stroke="rgb(156,156,156)" stroke-width="0.6" stroke-linecap="round" fill="none"/>
<path d="M224.8 214.1l1.1 -1.3M305.9 239.4l0.5 -1.5M299.6 212.3l0.9 -0.7M267.6 209.3l0.4 -0.9M220.1 256.1l0.5 -0.7" stroke="rgb(168,168,168)" stroke-width="0.8" stroke-linecap="round" fill="none"/>
<path d="M263.1 266.4l0.1 -0.1M264.1 237.2l0.7 -1.3M255.6 243.3l0.9 -0.5M272.1 265.0l0.6 -1.4" stroke="rgb(168,168,168)" stroke-width="1.4" stroke-linecap="round" fill="none"/>
<path d="M261.9 274.1l1.2 -0.9M272.0 208.5l0.2 -0.2M309.7 261.4l0.1 -0.3M283.3 257.3l0.8 -1.0M298.3 235.1l0.0 -0.1M271.7 260.4h.01M215.4 251.0l0.4 -1.3" stroke="rgb(168,168,168)" stroke-width="1.0" stroke-linecap="round" fill="none"/>
<path d="M267.8 269.0l0.1 -0.5M280.6 204.7l0.3 -1.1M252.3 217.5l0.1 -0.1M230.8 220.4l0.0 -0.2M269.5 218.0l0.6 -0.6M294.2 201.9l0.4 -1.2M217.0 262.4l0.6 -0.6M243.4 263.5l0.4 -0.2M243.3 244.5l0.4 -0.2M274.7 268.5l0.7 -0.7" stroke="rgb(168,168,168)" stroke-width="1.2" stroke-linecap="round" fill="none"/>
<path d="M289.1 254.1l0.0 -0.1M270.2 232.1l0.4 -1.3M256.4 254.4l0.7 -0.3M218.9 240.1l0.8 -1.2M305.6 229.9l0.1 -0.6M257.7 235.8l0.7 -1.2M251.0 234.4l0.5 -1.5" stroke="rgb(180,180,180)" stroke-width="0.8" stroke-linecap="round" fill="none"/>
<path d="M305.7 206.3l0.0 -0.1M218.8 253.3l0.1 -0.6M291.1 273.4l0.3 -0.5M277.2 211.3l0.5 -1.3M214.1 230.3l0.8 -1.0" stroke="rgb(180,180,180)" stroke-width="1.2" stroke-linecap="round" fill="none"/>
<path d="M295.9 209.1l0.8 -1.0M294.6 255.2l0.8 -1.5M288.7 258.5l0.1 -0.2M259.4 212.3l0.2 -0.2M219.8 223.1l0.8 -0.3M226.1 274.8l0.1 -0.5" stroke="rgb(180,180,180)" stroke-width="1.0" stroke-linecap="round" fill="none"/>
<path d="M264.3 272.2l0.9 -0.9M274.5 238.5l0.9 -1.1M219.3 250.5l0.4 -1.4M223.5 213.5l0.1 -0.2" stroke="rgb(180,180,180)" stroke-width="0.6" stroke-linecap="round" fill="none"/>
<path d="M267.4 242.4l1.5 -1.0" stroke="rgb(180,180,180)" stroke-width="1.4" stroke-linecap="round" fill="none"/>
<path d="M254.9 267.6l0.5 -1.0M225.1 201.4l0.7 -0.6M296.9 267.7l0.1 -0.2M215.0 245.7l0.1 -0.1" stroke="rgb(192,192,192)" stroke-width="0.6" stroke-linecap="round" fill="none"/>
<path d="M280.8 218.1l0.8 -0.4M244.3 210.9l0.2 -0.3M266.3 201.4l0.8 -1.3M309.6 260.0l0.2 -0.4M295.6 259.3l1.2 -0.8M269.0 248.0l0.8 -0.7M248.9 261.4l0.2 -0.4M244.3 256.2l0.5 -1.4M214.4 245.8l0.2 -0.9" stroke="rgb(192,192,192)" stroke-width="1.0" stroke-linecap="round" fill="none"/>
<path d="M296.5 209.8l0.2 -0.6M259.6 258.8l0.6 -0.2M217.9 273.9l0.8 -1.1" stroke="rgb(192,192,192)" stroke-width="0.8" stroke-linecap="round" fill="none"/>
<path d="M265.4 222.8l0.9 -1.1M298.0 252.3l0.6 -0.4M265.2 207.8l0.7 -0.3M280.1 230.6l0.7 -0.7M227.1 251.0l0.3 -1.5M236.5 217.6l0.5 -1.3M308.1 231.5l0.3 -1.0" stroke="rgb(192,192,192)" stroke-width="1.2" stroke-linecap="round" fill="none"/>
<path d="M269.4 259.4l0.3 -1.1M219.9 273.6l0.9 -1.1M224.6 242.9l0.8 -1.6" stroke="rgb(192,192,192)" stroke-width="1.4" stroke-linecap="round" fill="none"/>
<path d="M221.9 273.7l0.3 -1.0" stroke="rgb(204,204,204)" stroke-width="1.0" stroke-linecap="round" fill="none"/>
<path d="M235.6 224.4l0.1 -0.1" stroke="rgb(204,204,204)" stroke-width="0.8" stroke-linecap="round" fill="none"/>
<path d="M285.2 269.2l2.0 -2.0M282.6 238.0l0.9 -1.1M305.3 237.0l1.1 -0.9" stroke="rgb(180,180,180)" stroke-width="1.6" stroke-linecap="round" fill="none"/>
<path d="M266.5 202.4l0.9 -1.2M306.1 271.8l1.7 -1.7" stroke="rgb(180,180,180)" stroke-width="1.2" stroke-linecap="round" fill="none"/>
<path d="M293.5 263.9l0.9 -1.6M267.1 263.5l0.9 -2.1" stroke="rgb(180,180,180)" stroke-width="1.0" stroke-linecap="round" fill="none"/>
<path d="M297.2 271.8l1.2 -2.4" stroke="rgb(180,180,180)" stroke-width="1.4" stroke-linecap="round" fill="none"/>
<path d="M299.8 270.9l1.4 -1.7M221.2 253.5l1.0 -1.7M256.4 204.9l1.2 -1.7M299.4 225.4l0.9 -1.8M239.9 272.1l1.9 -1.7M259.2 270.1l0.8 -0.9M227.5 241.6l0.8 -1.3M219.7 216.4l0.7 -1.9" stroke="rgb(192,192,192)" stroke-width="1.0" stroke-linecap="round" fill="none"/>
<path d="M265.6 212.9l1.2 -1.0M266.8 272.2l1.1 -1.9M263.4 214.8l1.1 -2.0M266.6 249.4l0.8 -1.1M298.0 204.6l1.6 -2.2M293.6 212.2l0.7 -1.0M287.6 250.1l0.9 -1.9M225.7 203.3l0.9 -0.9" stroke="rgb(192,192,192)" stroke-width="1.4" stroke-linecap="round" fill="none"/>
<path d="M301.6 216.7l1.0 -1.2M265.0 235.6l1.4 -2.1" stroke="rgb(192,192,192)" stroke-width="1.2" stroke-linecap="round" fill="none"/>
<path d="M304.6 230.0l0.4 -1.1M232.8 211.6l1.0 -1.4" stroke="rgb(204,204,204)" stroke-width="1.2" stroke-linecap="round" fill="none"/>
<path d="M266.2 227.3l0.4 -1.1M219.4 225.3l0.9 -1.5M263.7 262.0l0.9 -1.8" stroke="rgb(204,204,204)" stroke-width="1.0" stroke-linecap="round" fill="none"/>
<path d="M280.6 226.0l0.6 -1.0M219.4 242.4l0.9 -0.9M292.5 261.5l1.0 -2.5" stroke="rgb(204,204,204)" stroke-width="1.4" stroke-linecap="round" fill="none"/>
<path d="M265.2 266.5l1.0 -1.4" stroke="rgb(204,204,204)" stroke-width="1.6" stroke-linecap="round" fill="none"/>
<path d="M271.4 232.7l0.8 -2.0M250.3 261.3l1.1 -1.1M239.7 273.1l0.5 -1.1M249.4 222.3l1.0 -1.6M239.4 238.7l1.1 -0.9" stroke="rgb(216,216,216)" stroke-width="1.0" stroke-linecap="round" fill="none"/>
<path d="M301.9 235.6l0.4 -1.0M276.8 254.3l1.4 -2.5M220.3 228.2l1.1 -1.1M272.8 273.3l0.5 -1.1M290.5 262.9l0.4 -1.1M287.3 217.4l1.3 -2.6" stroke="rgb(216,216,216)" stroke-width="1.2" stroke-linecap="round" fill="none"/>
<path d="M275.8 245.8l1.1 -1.1M302.9 204.4l0.9 -0.8M223.8 235.4l1.1 -1.5M269.6 257.8l0.4 -1.0" stroke="rgb(216,216,216)" stroke-width="1.4" stroke-linecap="round" fill="none"/>
<path d="M220.6 238.3l0.8 -1.5M295.6 205.9l2.2 -1.9M278.9 230.3l1.1 -1.0" stroke="rgb(216,216,216)" stroke-width="1.6" stroke-linecap="round" fill="none"/>
<path d="M263.4 201.9l0.9 -0.8M253.3 250.9l0.4 -0.9M233.8 211.9l1.6 -2.4M248.7 270.3l1.4 -2.0M221.5 231.7l1.2 -2.6" stroke="rgb(228,228,228)" stroke-width="1.0" stroke-linecap="round" fill="none"/>
<path d="M265.2 213.1l0.9 -2.1M275.2 229.8l1.5 -1.4M232.0 226.5l1.0 -0.9M261.2 209.6l0.9 -2.2M279.9 241.6l0.8 -0.7M273.9 207.6l0.5 -1.1" stroke="rgb(228,228,228)" stroke-width="1.2" stroke-linecap="round" fill="none"/>
<path d="M238.4 217.1l0.7 -0.8M231.0 214.3l1.0 -1.0M278.1 231.9l1.7 -2.4M234.5 237.1l1.8 -2.0" stroke="rgb(228,228,228)" stroke-width="1.4" stroke-linecap="round" fill="none"/>
<path d="M227.6 266.0l1.5 -2.2M274.0 222.0l0.8 -0.7M249.8 218.2l0.9 -2.0M233.9 220.4l1.7 -2.3M259.6 256.9l1.1 -2.8M218.2 216.7l0.8 -0.9M216.9 255.4l0.4 -1.0M297.1 203.4l1.3 -1.8" stroke="rgb(240,240,240)" stroke-width="1.0" stroke-linecap="round" fill="none"/>
<path d="M216.0 266.7l0.7 -1.3M227.6 275.3l1.3 -1.5M252.9 253.9l1.1 -1.9M296.3 229.3l1.1 -2.8M290.2 234.9l1.4 -1.9M283.2 234.3l1.0 -1.5" stroke="rgb(240,240,240)" stroke-width="1.2" stroke-linecap="round" fill="none"/>
<path d="M280.9 245.1l0.6 -0.9M224.4 262.0l1.0 -1.7M220.8 266.2l1.1 -1.5M295.2 240.6l1.5 -1.5M260.4 265.6l1.8 -1.7M229.3 249.8l0.7 -1.9M221.4 209.7l0.9 -1.1M229.9 252.8l1.4 -2.5" stroke="rgb(240,240,240)" stroke-width="1.4" stroke-linecap="round" fill="none"/>
<g filter="url(#bl3)">
<circle cx="254.0" cy="206.7" r="1.31" fill="rgb(254,254,254)"/>
<circle cx="255.8" cy="205.5" r="1.31" fill="rgb(241,241,241)"/>
<circle cx="255.2" cy="204.9" r="1.57" fill="rgb(219,219,219)"/>
<circle cx="256.4" cy="208.8" r="1.59" fill="rgb(247,247,247)"/>
<circle cx="255.6" cy="205.0" r="1.22" fill="rgb(232,232,232)"/>
<circle cx="255.6" cy="206.3" r="1.57" fill="rgb(219,219,219)"/>
<circle cx="254.8" cy="206.3" r="1.18" fill="rgb(225,225,225)"/>
<circle cx="255.5" cy="205.0" r="1.45" fill="rgb(255,255,255)"/>
<circle cx="255.2" cy="207.5" r="1.32" fill="rgb(223,223,223)"/>
<circle cx="256.2" cy="208.6" r="1.32" fill="rgb(225,225,225)"/>
<circle cx="253.8" cy="209.8" r="1.44" fill="rgb(228,228,228)"/>
<circle cx="255.6" cy="208.9" r="1.51" fill="rgb(237,237,237)"/>
<circle cx="261.6" cy="209.4" r="1.45" fill="rgb(247,247,247)"/>
<circle cx="260.6" cy="209.9" r="1.28" fill="rgb(230,230,230)"/>
<circle cx="262.2" cy="206.3" r="1.01" fill="rgb(235,235,235)"/>
<circle cx="264.0" cy="205.3" r="1.13" fill="rgb(216,216,216)"/>
<circle cx="264.8" cy="204.9" r="0.99" fill="rgb(238,238,238)"/>
<circle cx="264.6" cy="205.8" r="1.53" fill="rgb(255,255,255)"/>
<circle cx="264.8" cy="206.7" r="1.37" fill="rgb(252,252,252)"/>
<circle cx="262.7" cy="206.1" r="1.43" fill="rgb(234,234,234)"/>
<circle cx="263.7" cy="206.2" r="1.10" fill="rgb(249,249,249)"/>
<circle cx="262.5" cy="207.2" r="1.22" fill="rgb(247,247,247)"/>
<circle cx="263.3" cy="206.2" r="1.03" fill="rgb(247,247,247)"/>
<circle cx="264.6" cy="206.5" r="1.06" fill="rgb(246,246,246)"/>
<circle cx="259.9" cy="209.8" r="1.39" fill="rgb(238,238,238)"/>
<circle cx="274.3" cy="200.4" r="1.45" fill="rgb(232,232,232)"/>
<circle cx="274.3" cy="200.5" r="1.64" fill="rgb(255,255,255)"/>
<circle cx="270.7" cy="202.5" r="1.53" fill="rgb(245,245,245)"/>
<circle cx="273.6" cy="204.4" r="1.38" fill="rgb(254,254,254)"/>
<circle cx="274.1" cy="202.6" r="1.28" fill="rgb(223,223,223)"/>
<circle cx="270.9" cy="202.4" r="1.12" fill="rgb(216,216,216)"/>
<circle cx="272.4" cy="201.7" r="1.54" fill="rgb(249,249,249)"/>
<circle cx="271.3" cy="205.3" r="1.46" fill="rgb(235,235,235)"/>
<circle cx="271.2" cy="202.1" r="1.49" fill="rgb(240,240,240)"/>
<circle cx="271.2" cy="204.5" r="1.41" fill="rgb(231,231,231)"/>
<circle cx="273.9" cy="202.5" r="1.54" fill="rgb(232,232,232)"/>
<circle cx="280.2" cy="209.3" r="1.10" fill="rgb(248,248,248)"/>
<circle cx="280.5" cy="210.2" r="1.34" fill="rgb(228,228,228)"/>
<circle cx="282.8" cy="206.5" r="1.67" fill="rgb(244,244,244)"/>
<circle cx="283.4" cy="205.5" r="1.70" fill="rgb(241,241,241)"/>
<circle cx="283.0" cy="208.7" r="1.47" fill="rgb(238,238,238)"/>
<circle cx="279.4" cy="207.8" r="1.57" fill="rgb(237,237,237)"/>
<circle cx="281.8" cy="207.4" r="1.38" fill="rgb(231,231,231)"/>
<circle cx="283.6" cy="206.0" r="1.77" fill="rgb(250,250,250)"/>
<circle cx="280.7" cy="207.6" r="1.68" fill="rgb(235,235,235)"/>
<circle cx="282.1" cy="205.2" r="1.65" fill="rgb(217,217,217)"/>
<circle cx="279.7" cy="208.9" r="1.25" fill="rgb(236,236,236)"/>
<circle cx="281.6" cy="205.3" r="1.49" fill="rgb(243,243,243)"/>
<circle cx="293.8" cy="205.5" r="1.11" fill="rgb(245,245,245)"/>
<circle cx="293.1" cy="204.0" r="1.24" fill="rgb(223,223,223)"/>
<circle cx="294.0" cy="203.2" r="1.56" fill="rgb(235,235,235)"/>
<circle cx="293.2" cy="204.1" r="1.32" fill="rgb(249,249,249)"/>
<circle cx="294.4" cy="204.6" r="1.50" fill="rgb(234,234,234)"/>
<circle cx="295.2" cy="203.1" r="1.18" fill="rgb(222,222,222)"/>
<circle cx="295.0" cy="204.9" r="1.71" fill="rgb(247,247,247)"/>
<circle cx="294.4" cy="203.7" r="1.59" fill="rgb(238,238,238)"/>
<circle cx="294.4" cy="202.7" r="1.13" fill="rgb(219,219,219)"/>
<circle cx="294.9" cy="203.7" r="1.28" fill="rgb(240,240,240)"/>
<circle cx="298.7" cy="207.1" r="0.65" fill="rgb(243,243,243)"/>
<circle cx="298.0" cy="207.8" r="0.74" fill="rgb(222,222,222)"/>
<circle cx="298.2" cy="206.9" r="0.55" fill="rgb(238,238,238)"/>
<circle cx="297.6" cy="206.6" r="0.90" fill="rgb(235,235,235)"/>
<circle cx="297.8" cy="207.7" r="0.62" fill="rgb(230,230,230)"/>
<circle cx="305.4" cy="210.1" r="0.75" fill="rgb(245,245,245)"/>
<circle cx="304.2" cy="210.5" r="0.66" fill="rgb(247,247,247)"/>
<circle cx="305.2" cy="210.8" r="0.85" fill="rgb(221,221,221)"/>
<circle cx="304.9" cy="210.1" r="0.83" fill="rgb(253,253,253)"/>
<circle cx="304.7" cy="210.2" r="0.59" fill="rgb(234,234,234)"/>
<circle cx="268.7" cy="225.3" r="2.27" fill="rgb(222,222,222)"/>
<circle cx="271.3" cy="225.3" r="1.93" fill="rgb(217,217,217)"/>
<circle cx="268.1" cy="225.7" r="2.01" fill="rgb(233,233,233)"/>
<circle cx="270.7" cy="224.9" r="1.76" fill="rgb(228,228,228)"/>
<circle cx="271.8" cy="222.3" r="1.56" fill="rgb(254,254,254)"/>
<circle cx="269.5" cy="225.6" r="1.59" fill="rgb(247,247,247)"/>
<circle cx="267.2" cy="223.6" r="1.89" fill="rgb(250,250,250)"/>
<circle cx="270.2" cy="225.3" r="1.82" fill="rgb(228,228,228)"/>
<circle cx="268.7" cy="225.6" r="1.60" fill="rgb(224,224,224)"/>
<circle cx="267.6" cy="224.7" r="1.46" fill="rgb(252,252,252)"/>
<circle cx="271.2" cy="221.2" r="2.20" fill="rgb(244,244,244)"/>
<circle cx="267.3" cy="224.8" r="1.51" fill="rgb(242,242,242)"/>
<circle cx="270.3" cy="224.8" r="1.60" fill="rgb(237,237,237)"/>
<circle cx="271.2" cy="222.2" r="2.07" fill="rgb(230,230,230)"/>
<circle cx="296.4" cy="224.4" r="1.03" fill="rgb(235,235,235)"/>
<circle cx="297.0" cy="219.9" r="1.25" fill="rgb(239,239,239)"/>
<circle cx="298.5" cy="224.7" r="1.22" fill="rgb(224,224,224)"/>
<circle cx="297.1" cy="221.0" r="1.22" fill="rgb(238,238,238)"/>
<circle cx="298.1" cy="219.3" r="1.40" fill="rgb(247,247,247)"/>
<circle cx="297.8" cy="224.4" r="0.97" fill="rgb(215,215,215)"/>
<circle cx="296.6" cy="225.4" r="1.23" fill="rgb(245,245,245)"/>
<circle cx="297.9" cy="219.8" r="1.09" fill="rgb(229,229,229)"/>
<circle cx="297.7" cy="220.7" r="1.44" fill="rgb(216,216,216)"/>
<circle cx="297.6" cy="225.3" r="1.48" fill="rgb(233,233,233)"/>
<circle cx="297.3" cy="224.7" r="1.52" fill="rgb(215,215,215)"/>
<circle cx="255.7" cy="227.9" r="1.23" fill="rgb(218,218,218)"/>
<circle cx="257.1" cy="229.2" r="1.64" fill="rgb(224,224,224)"/>
<circle cx="255.6" cy="227.6" r="1.73" fill="rgb(229,229,229)"/>
<circle cx="257.2" cy="228.5" r="1.36" fill="rgb(226,226,226)"/>
<circle cx="256.0" cy="231.4" r="1.33" fill="rgb(220,220,220)"/>
<circle cx="255.8" cy="229.5" r="1.39" fill="rgb(220,220,220)"/>
<circle cx="256.1" cy="230.0" r="1.24" fill="rgb(223,223,223)"/>
<circle cx="255.4" cy="228.4" r="1.58" fill="rgb(215,215,215)"/>
<circle cx="256.5" cy="228.8" r="1.20" fill="rgb(217,217,217)"/>
<circle cx="255.0" cy="229.0" r="1.46" fill="rgb(227,227,227)"/>
<circle cx="262.0" cy="231.4" r="0.70" fill="rgb(222,222,222)"/>
<circle cx="262.9" cy="231.3" r="0.94" fill="rgb(244,244,244)"/>
<circle cx="264.1" cy="231.2" r="0.72" fill="rgb(216,216,216)"/>
<circle cx="264.1" cy="230.4" r="0.64" fill="rgb(243,243,243)"/>
<circle cx="262.9" cy="230.2" r="1.00" fill="rgb(238,238,238)"/>
<circle cx="264.0" cy="231.0" r="0.83" fill="rgb(248,248,248)"/>
<circle cx="270.1" cy="227.3" r="0.99" fill="rgb(227,227,227)"/>
<circle cx="268.7" cy="230.0" r="0.74" fill="rgb(240,240,240)"/>
<circle cx="268.9" cy="227.6" r="1.14" fill="rgb(228,228,228)"/>
<circle cx="268.2" cy="230.7" r="0.77" fill="rgb(223,223,223)"/>
<circle cx="269.4" cy="229.1" r="0.94" fill="rgb(239,239,239)"/>
<circle cx="269.4" cy="227.5" r="1.04" fill="rgb(246,246,246)"/>
<circle cx="269.1" cy="229.5" r="0.81" fill="rgb(251,251,251)"/>
<circle cx="286.9" cy="235.2" r="1.08" fill="rgb(224,224,224)"/>
<circle cx="285.7" cy="237.1" r="1.11" fill="rgb(223,223,223)"/>
<circle cx="288.2" cy="235.8" r="0.82" fill="rgb(223,223,223)"/>
<circle cx="288.3" cy="235.2" r="0.85" fill="rgb(253,253,253)"/>
<circle cx="286.1" cy="237.6" r="0.92" fill="rgb(255,255,255)"/>
<circle cx="287.5" cy="235.1" r="0.74" fill="rgb(218,218,218)"/>
<circle cx="285.9" cy="236.6" r="0.86" fill="rgb(219,219,219)"/>
<circle cx="305.6" cy="231.9" r="1.32" fill="rgb(219,219,219)"/>
<circle cx="304.3" cy="233.1" r="1.31" fill="rgb(255,255,255)"/>
<circle cx="306.5" cy="230.8" r="1.27" fill="rgb(228,228,228)"/>
<circle cx="307.5" cy="231.9" r="1.22" fill="rgb(224,224,224)"/>
<circle cx="306.6" cy="230.4" r="1.06" fill="rgb(239,239,239)"/>
<circle cx="306.0" cy="232.0" r="0.87" fill="rgb(241,241,241)"/>
<circle cx="307.7" cy="231.1" r="0.90" fill="rgb(226,226,226)"/>
<circle cx="306.5" cy="233.0" r="0.96" fill="rgb(248,248,248)"/>
<circle cx="257.8" cy="234.4" r="0.80" fill="rgb(227,227,227)"/>
<circle cx="259.2" cy="233.2" r="0.96" fill="rgb(238,238,238)"/>
<circle cx="257.8" cy="233.0" r="0.67" fill="rgb(220,220,220)"/>
<circle cx="257.1" cy="235.0" r="0.68" fill="rgb(240,240,240)"/>
<circle cx="257.6" cy="234.6" r="0.93" fill="rgb(231,231,231)"/>
<circle cx="257.6" cy="234.2" r="0.76" fill="rgb(242,242,242)"/>
<circle cx="218.3" cy="246.1" r="1.36" fill="rgb(240,240,240)"/>
<circle cx="216.9" cy="247.9" r="1.97" fill="rgb(240,240,240)"/>
<circle cx="217.5" cy="246.0" r="1.90" fill="rgb(240,240,240)"/>
<circle cx="217.7" cy="247.8" r="1.49" fill="rgb(227,227,227)"/>
<circle cx="219.8" cy="247.5" r="1.55" fill="rgb(226,226,226)"/>
<circle cx="219.8" cy="245.4" r="1.37" fill="rgb(220,220,220)"/>
<circle cx="218.0" cy="248.2" r="2.07" fill="rgb(219,219,219)"/>
<circle cx="216.7" cy="247.5" r="1.45" fill="rgb(217,217,217)"/>
<circle cx="217.7" cy="245.4" r="1.41" fill="rgb(235,235,235)"/>
<circle cx="221.1" cy="246.1" r="1.72" fill="rgb(253,253,253)"/>
<circle cx="216.9" cy="247.9" r="2.09" fill="rgb(237,237,237)"/>
<circle cx="219.6" cy="247.9" r="2.07" fill="rgb(243,243,243)"/>
<circle cx="221.0" cy="244.7" r="1.35" fill="rgb(229,229,229)"/>
<circle cx="232.8" cy="246.2" r="1.40" fill="rgb(245,245,245)"/>
<circle cx="232.4" cy="243.5" r="1.50" fill="rgb(243,243,243)"/>
<circle cx="234.1" cy="243.1" r="1.74" fill="rgb(228,228,228)"/>
<circle cx="234.0" cy="243.7" r="1.33" fill="rgb(236,236,236)"/>
<circle cx="231.6" cy="245.2" r="1.40" fill="rgb(248,248,248)"/>
<circle cx="233.6" cy="242.7" r="1.75" fill="rgb(248,248,248)"/>
<circle cx="232.4" cy="248.0" r="1.38" fill="rgb(246,246,246)"/>
<circle cx="231.3" cy="244.7" r="1.65" fill="rgb(236,236,236)"/>
<circle cx="231.5" cy="246.3" r="1.63" fill="rgb(244,244,244)"/>
<circle cx="234.6" cy="244.0" r="1.66" fill="rgb(239,239,239)"/>
<circle cx="232.2" cy="244.0" r="1.33" fill="rgb(253,253,253)"/>
<circle cx="231.1" cy="246.3" r="1.82" fill="rgb(235,235,235)"/>
<circle cx="234.0" cy="243.4" r="1.22" fill="rgb(252,252,252)"/>
<circle cx="241.1" cy="249.7" r="1.15" fill="rgb(237,237,237)"/>
<circle cx="241.2" cy="251.2" r="1.32" fill="rgb(236,236,236)"/>
<circle cx="242.7" cy="250.3" r="1.20" fill="rgb(235,235,235)"/>
<circle cx="240.5" cy="252.2" r="1.16" fill="rgb(222,222,222)"/>
<circle cx="241.4" cy="248.9" r="1.18" fill="rgb(222,222,222)"/>
<circle cx="242.8" cy="248.1" r="1.24" fill="rgb(240,240,240)"/>
<circle cx="243.4" cy="249.1" r="1.22" fill="rgb(237,237,237)"/>
<circle cx="243.5" cy="250.1" r="1.17" fill="rgb(217,217,217)"/>
<circle cx="242.4" cy="251.0" r="0.99" fill="rgb(226,226,226)"/>
<circle cx="229.2" cy="259.2" r="2.43" fill="rgb(236,236,236)"/>
<circle cx="227.8" cy="260.2" r="2.11" fill="rgb(220,220,220)"/>
<circle cx="228.2" cy="255.7" r="2.76" fill="rgb(251,251,251)"/>
<circle cx="231.0" cy="254.2" r="2.62" fill="rgb(218,218,218)"/>
<circle cx="227.0" cy="258.3" r="2.03" fill="rgb(243,243,243)"/>
<circle cx="226.4" cy="255.1" r="1.86" fill="rgb(223,223,223)"/>
<circle cx="231.2" cy="256.9" r="1.79" fill="rgb(245,245,245)"/>
<circle cx="230.4" cy="257.2" r="2.86" fill="rgb(231,231,231)"/>
<circle cx="228.3" cy="259.0" r="2.72" fill="rgb(248,248,248)"/>
<circle cx="228.6" cy="257.1" r="1.81" fill="rgb(215,215,215)"/>
<circle cx="226.7" cy="257.8" r="2.25" fill="rgb(226,226,226)"/>
<circle cx="228.4" cy="254.0" r="2.41" fill="rgb(227,227,227)"/>
<circle cx="224.1" cy="257.5" r="2.15" fill="rgb(236,236,236)"/>
<circle cx="228.7" cy="258.5" r="2.80" fill="rgb(249,249,249)"/>
<circle cx="230.1" cy="254.1" r="2.44" fill="rgb(247,247,247)"/>
<circle cx="226.6" cy="254.9" r="1.93" fill="rgb(229,229,229)"/>
<circle cx="225.8" cy="257.5" r="1.90" fill="rgb(245,245,245)"/>
<circle cx="225.9" cy="257.6" r="2.14" fill="rgb(231,231,231)"/>
<circle cx="227.2" cy="259.7" r="2.25" fill="rgb(250,250,250)"/>
<circle cx="226.1" cy="258.9" r="2.14" fill="rgb(237,237,237)"/>
<circle cx="230.5" cy="255.9" r="1.99" fill="rgb(228,228,228)"/>
<circle cx="229.7" cy="257.3" r="2.13" fill="rgb(224,224,224)"/>
<circle cx="231.0" cy="254.6" r="2.49" fill="rgb(235,235,235)"/>
<circle cx="225.7" cy="254.8" r="2.79" fill="rgb(246,246,246)"/>
<circle cx="215.2" cy="262.1" r="1.16" fill="rgb(239,239,239)"/>
<circle cx="216.8" cy="260.7" r="0.85" fill="rgb(221,221,221)"/>
<circle cx="214.1" cy="261.6" r="1.02" fill="rgb(220,220,220)"/>
<circle cx="215.6" cy="260.8" r="1.31" fill="rgb(223,223,223)"/>
<circle cx="216.2" cy="261.4" r="0.93" fill="rgb(225,225,225)"/>
<circle cx="215.5" cy="261.1" r="1.07" fill="rgb(217,217,217)"/>
<circle cx="214.1" cy="261.8" r="1.16" fill="rgb(240,240,240)"/>
<circle cx="214.6" cy="262.3" r="1.17" fill="rgb(224,224,224)"/>
<circle cx="231.3" cy="267.5" r="0.93" fill="rgb(222,222,222)"/>
<circle cx="231.6" cy="266.5" r="0.80" fill="rgb(240,240,240)"/>
<circle cx="232.1" cy="268.6" r="1.04" fill="rgb(235,235,235)"/>
<circle cx="229.8" cy="269.3" r="1.06" fill="rgb(236,236,236)"/>
<circle cx="230.3" cy="268.1" r="1.11" fill="rgb(234,234,234)"/>
<circle cx="231.3" cy="267.0" r="1.09" fill="rgb(248,248,248)"/>
<circle cx="230.9" cy="269.8" r="0.97" fill="rgb(233,233,233)"/>
<circle cx="237.5" cy="264.6" r="1.91" fill="rgb(236,236,236)"/>
<circle cx="237.0" cy="266.0" r="1.88" fill="rgb(241,241,241)"/>
<circle cx="240.0" cy="266.1" r="1.39" fill="rgb(220,220,220)"/>
<circle cx="241.0" cy="265.8" r="1.19" fill="rgb(235,235,235)"/>
<circle cx="240.0" cy="265.6" r="1.30" fill="rgb(224,224,224)"/>
<circle cx="238.0" cy="265.5" r="1.41" fill="rgb(251,251,251)"/>
<circle cx="239.3" cy="265.5" r="1.64" fill="rgb(232,232,232)"/>
<circle cx="241.8" cy="264.2" r="1.58" fill="rgb(245,245,245)"/>
<circle cx="239.3" cy="266.0" r="1.35" fill="rgb(216,216,216)"/>
<circle cx="239.2" cy="264.6" r="1.51" fill="rgb(225,225,225)"/>
<circle cx="237.7" cy="266.0" r="1.26" fill="rgb(238,238,238)"/>
<circle cx="238.2" cy="265.5" r="1.21" fill="rgb(236,236,236)"/>
<circle cx="240.0" cy="266.5" r="1.53" fill="rgb(233,233,233)"/>
<circle cx="256.6" cy="243.9" r="1.76" fill="rgb(252,252,252)"/>
<circle cx="256.7" cy="243.4" r="1.36" fill="rgb(229,229,229)"/>
<circle cx="254.5" cy="246.6" r="1.57" fill="rgb(252,252,252)"/>
<circle cx="256.2" cy="243.6" r="1.11" fill="rgb(216,216,216)"/>
<circle cx="255.4" cy="246.2" r="1.40" fill="rgb(224,224,224)"/>
<circle cx="256.1" cy="246.4" r="1.39" fill="rgb(219,219,219)"/>
<circle cx="255.3" cy="244.6" r="1.20" fill="rgb(254,254,254)"/>
<circle cx="257.1" cy="243.1" r="1.20" fill="rgb(225,225,225)"/>
<circle cx="256.5" cy="243.8" r="1.61" fill="rgb(219,219,219)"/>
<circle cx="256.4" cy="244.9" r="1.65" fill="rgb(234,234,234)"/>
<circle cx="256.1" cy="244.4" r="1.80" fill="rgb(220,220,220)"/>
<circle cx="254.7" cy="245.0" r="1.25" fill="rgb(236,236,236)"/>
<circle cx="261.8" cy="236.4" r="0.82" fill="rgb(229,229,229)"/>
<circle cx="261.1" cy="236.9" r="0.87" fill="rgb(245,245,245)"/>
<circle cx="260.9" cy="236.8" r="0.83" fill="rgb(245,245,245)"/>
<circle cx="262.9" cy="236.7" r="1.08" fill="rgb(238,238,238)"/>
<circle cx="260.9" cy="237.0" r="1.18" fill="rgb(249,249,249)"/>
<circle cx="262.9" cy="237.2" r="0.90" fill="rgb(234,234,234)"/>
<circle cx="263.3" cy="235.5" r="0.94" fill="rgb(234,234,234)"/>
<circle cx="271.1" cy="246.7" r="1.31" fill="rgb(215,215,215)"/>
<circle cx="269.1" cy="245.6" r="1.00" fill="rgb(220,220,220)"/>
<circle cx="268.9" cy="246.8" r="1.01" fill="rgb(250,250,250)"/>
<circle cx="270.0" cy="246.8" r="1.20" fill="rgb(251,251,251)"/>
<circle cx="269.2" cy="244.9" r="1.25" fill="rgb(236,236,236)"/>
<circle cx="271.7" cy="245.8" r="0.91" fill="rgb(239,239,239)"/>
<circle cx="268.9" cy="245.4" r="1.13" fill="rgb(221,221,221)"/>
<circle cx="270.5" cy="246.8" r="1.25" fill="rgb(253,253,253)"/>
<circle cx="269.7" cy="245.0" r="0.95" fill="rgb(248,248,248)"/>
<circle cx="257.5" cy="260.5" r="1.33" fill="rgb(238,238,238)"/>
<circle cx="256.0" cy="261.8" r="1.27" fill="rgb(241,241,241)"/>
<circle cx="258.6" cy="262.3" r="1.33" fill="rgb(224,224,224)"/>
<circle cx="258.4" cy="262.5" r="1.48" fill="rgb(247,247,247)"/>
<circle cx="256.5" cy="261.0" r="1.49" fill="rgb(242,242,242)"/>
<circle cx="255.4" cy="263.0" r="1.05" fill="rgb(226,226,226)"/>
<circle cx="258.7" cy="260.8" r="1.29" fill="rgb(251,251,251)"/>
<circle cx="257.7" cy="263.6" r="1.13" fill="rgb(227,227,227)"/>
<circle cx="256.6" cy="261.3" r="1.08" fill="rgb(221,221,221)"/>
<circle cx="249.2" cy="269.9" r="0.94" fill="rgb(248,248,248)"/>
<circle cx="249.1" cy="272.3" r="1.17" fill="rgb(239,239,239)"/>
<circle cx="247.6" cy="273.2" r="1.10" fill="rgb(230,230,230)"/>
<circle cx="247.4" cy="273.1" r="0.98" fill="rgb(236,236,236)"/>
<circle cx="249.1" cy="272.0" r="1.46" fill="rgb(226,226,226)"/>
<circle cx="247.2" cy="270.8" r="1.06" fill="rgb(250,250,250)"/>
<circle cx="246.7" cy="270.8" r="1.41" fill="rgb(239,239,239)"/>
<circle cx="247.0" cy="270.6" r="1.38" fill="rgb(222,222,222)"/>
<circle cx="246.5" cy="272.2" r="1.27" fill="rgb(255,255,255)"/>
<circle cx="252.0" cy="238.5" r="0.65" fill="rgb(251,251,251)"/>
<circle cx="251.5" cy="239.4" r="0.76" fill="rgb(231,231,231)"/>
<circle cx="252.1" cy="238.3" r="0.81" fill="rgb(227,227,227)"/>
<circle cx="251.3" cy="239.8" r="0.74" fill="rgb(219,219,219)"/>
<circle cx="250.4" cy="240.3" r="0.78" fill="rgb(250,250,250)"/>
<circle cx="248.7" cy="253.7" r="0.76" fill="rgb(241,241,241)"/>
<circle cx="248.7" cy="254.0" r="0.76" fill="rgb(241,241,241)"/>
<circle cx="249.7" cy="251.7" r="0.90" fill="rgb(241,241,241)"/>
<circle cx="248.5" cy="251.9" r="0.84" fill="rgb(245,245,245)"/>
<circle cx="249.2" cy="253.2" r="0.83" fill="rgb(217,217,217)"/>
<circle cx="270.0" cy="247.7" r="1.06" fill="rgb(226,226,226)"/>
<circle cx="269.7" cy="246.4" r="1.01" fill="rgb(235,235,235)"/>
<circle cx="268.4" cy="246.1" r="1.04" fill="rgb(217,217,217)"/>
<circle cx="268.9" cy="246.8" r="0.99" fill="rgb(218,218,218)"/>
<circle cx="269.8" cy="247.6" r="1.18" fill="rgb(224,224,224)"/>
<circle cx="270.5" cy="247.2" r="1.31" fill="rgb(218,218,218)"/>
<circle cx="268.6" cy="244.6" r="1.30" fill="rgb(217,217,217)"/>
<circle cx="267.7" cy="245.0" r="0.99" fill="rgb(252,252,252)"/>
<circle cx="274.2" cy="246.7" r="1.68" fill="rgb(240,240,240)"/>
<circle cx="277.1" cy="246.1" r="1.52" fill="rgb(251,251,251)"/>
<circle cx="276.7" cy="247.9" r="1.64" fill="rgb(242,242,242)"/>
<circle cx="276.3" cy="247.5" r="1.49" fill="rgb(227,227,227)"/>
<circle cx="275.4" cy="248.3" r="1.58" fill="rgb(253,253,253)"/>
<circle cx="276.0" cy="249.0" r="1.22" fill="rgb(227,227,227)"/>
<circle cx="275.5" cy="245.7" r="1.21" fill="rgb(245,245,245)"/>
<circle cx="274.8" cy="248.5" r="1.32" fill="rgb(232,232,232)"/>
<circle cx="274.9" cy="247.4" r="1.48" fill="rgb(244,244,244)"/>
<circle cx="277.4" cy="257.3" r="0.87" fill="rgb(248,248,248)"/>
<circle cx="278.3" cy="254.8" r="1.06" fill="rgb(246,246,246)"/>
<circle cx="279.6" cy="255.7" r="1.17" fill="rgb(240,240,240)"/>
<circle cx="277.3" cy="255.3" r="1.02" fill="rgb(231,231,231)"/>
<circle cx="279.1" cy="256.7" r="1.02" fill="rgb(230,230,230)"/>
<circle cx="278.4" cy="256.2" r="1.21" fill="rgb(250,250,250)"/>
<circle cx="279.6" cy="254.7" r="1.15" fill="rgb(245,245,245)"/>
<circle cx="274.9" cy="265.1" r="1.28" fill="rgb(221,221,221)"/>
<circle cx="274.8" cy="266.4" r="0.87" fill="rgb(252,252,252)"/>
<circle cx="278.2" cy="265.1" r="1.25" fill="rgb(221,221,221)"/>
<circle cx="275.1" cy="266.8" r="1.17" fill="rgb(249,249,249)"/>
<circle cx="277.2" cy="265.2" r="1.06" fill="rgb(227,227,227)"/>
<circle cx="275.5" cy="267.4" r="1.14" fill="rgb(250,250,250)"/>
<circle cx="276.1" cy="266.5" r="0.85" fill="rgb(252,252,252)"/>
<circle cx="275.5" cy="266.0" r="1.02" fill="rgb(255,255,255)"/>
<circle cx="294.4" cy="241.4" r="1.14" fill="rgb(226,226,226)"/>
<circle cx="292.6" cy="242.8" r="0.71" fill="rgb(247,247,247)"/>
<circle cx="293.5" cy="241.4" r="1.07" fill="rgb(220,220,220)"/>
<circle cx="294.5" cy="242.8" r="1.15" fill="rgb(225,225,225)"/>
<circle cx="294.5" cy="241.5" r="1.10" fill="rgb(247,247,247)"/>
<circle cx="293.3" cy="242.3" r="0.77" fill="rgb(220,220,220)"/>
<circle cx="295.5" cy="241.1" r="0.97" fill="rgb(224,224,224)"/>
<circle cx="293.7" cy="241.5" r="1.09" fill="rgb(236,236,236)"/>
<circle cx="295.3" cy="264.3" r="1.36" fill="rgb(223,223,223)"/>
<circle cx="296.3" cy="262.5" r="1.45" fill="rgb(228,228,228)"/>
<circle cx="296.4" cy="261.2" r="1.34" fill="rgb(228,228,228)"/>
<circle cx="297.2" cy="260.1" r="1.46" fill="rgb(242,242,242)"/>
<circle cx="295.1" cy="261.8" r="1.39" fill="rgb(224,224,224)"/>
<circle cx="296.8" cy="260.9" r="1.54" fill="rgb(218,218,218)"/>
<circle cx="296.8" cy="263.8" r="1.51" fill="rgb(223,223,223)"/>
<circle cx="297.0" cy="263.8" r="1.18" fill="rgb(242,242,242)"/>
<circle cx="296.3" cy="263.4" r="1.75" fill="rgb(221,221,221)"/>
<circle cx="295.9" cy="264.4" r="1.55" fill="rgb(243,243,243)"/>
<circle cx="297.6" cy="260.4" r="1.23" fill="rgb(226,226,226)"/>
<circle cx="296.6" cy="261.9" r="1.68" fill="rgb(249,249,249)"/>
<circle cx="294.5" cy="269.0" r="2.11" fill="rgb(228,228,228)"/>
<circle cx="292.7" cy="267.0" r="2.05" fill="rgb(226,226,226)"/>
<circle cx="294.8" cy="265.2" r="2.03" fill="rgb(237,237,237)"/>
<circle cx="294.1" cy="268.0" r="1.86" fill="rgb(234,234,234)"/>
<circle cx="291.6" cy="268.3" r="1.81" fill="rgb(224,224,224)"/>
<circle cx="293.7" cy="266.7" r="1.55" fill="rgb(221,221,221)"/>
<circle cx="294.0" cy="266.7" r="1.52" fill="rgb(254,254,254)"/>
<circle cx="292.7" cy="269.8" r="1.54" fill="rgb(218,218,218)"/>
<circle cx="294.4" cy="265.0" r="2.04" fill="rgb(251,251,251)"/>
<circle cx="294.5" cy="268.5" r="1.74" fill="rgb(249,249,249)"/>
<circle cx="295.2" cy="266.4" r="1.39" fill="rgb(242,242,242)"/>
<circle cx="292.4" cy="268.1" r="1.30" fill="rgb(239,239,239)"/>
<circle cx="293.5" cy="270.5" r="1.66" fill="rgb(219,219,219)"/>
<circle cx="291.6" cy="270.2" r="2.02" fill="rgb(253,253,253)"/>
<circle cx="291.7" cy="269.5" r="1.88" fill="rgb(222,222,222)"/>
<circle cx="307.0" cy="259.1" r="0.79" fill="rgb(244,244,244)"/>
<circle cx="308.1" cy="257.8" r="0.71" fill="rgb(233,233,233)"/>
<circle cx="306.7" cy="257.0" r="0.72" fill="rgb(220,220,220)"/>
<circle cx="306.9" cy="258.5" r="0.61" fill="rgb(219,219,219)"/>
<circle cx="306.8" cy="258.5" r="0.74" fill="rgb(245,245,245)"/>
<circle cx="216.1" cy="203.4" r="1.46" fill="rgb(242,242,242)"/>
<circle cx="217.5" cy="202.2" r="1.03" fill="rgb(227,227,227)"/>
<circle cx="214.6" cy="203.6" r="1.36" fill="rgb(254,254,254)"/>
<circle cx="214.8" cy="203.6" r="1.31" fill="rgb(254,254,254)"/>
<circle cx="215.6" cy="202.0" r="1.26" fill="rgb(218,218,218)"/>
<circle cx="214.4" cy="204.8" r="1.46" fill="rgb(215,215,215)"/>
<circle cx="214.3" cy="203.8" r="1.15" fill="rgb(233,233,233)"/>
<circle cx="215.1" cy="204.4" r="1.36" fill="rgb(240,240,240)"/>
<circle cx="217.0" cy="203.1" r="1.06" fill="rgb(219,219,219)"/>
<circle cx="215.0" cy="216.8" r="1.15" fill="rgb(248,248,248)"/>
<circle cx="214.6" cy="213.2" r="1.31" fill="rgb(251,251,251)"/>
<circle cx="213.3" cy="216.0" r="0.94" fill="rgb(246,246,246)"/>
<circle cx="214.9" cy="214.5" r="1.29" fill="rgb(218,218,218)"/>
<circle cx="215.2" cy="215.5" r="1.20" fill="rgb(247,247,247)"/>
<circle cx="215.9" cy="214.5" r="1.10" fill="rgb(238,238,238)"/>
<circle cx="215.0" cy="216.0" r="0.97" fill="rgb(221,221,221)"/>
<circle cx="213.8" cy="217.0" r="0.95" fill="rgb(226,226,226)"/>
<circle cx="222.8" cy="228.5" r="0.79" fill="rgb(216,216,216)"/>
<circle cx="221.5" cy="230.3" r="1.00" fill="rgb(221,221,221)"/>
<circle cx="221.7" cy="231.0" r="0.93" fill="rgb(252,252,252)"/>
<circle cx="221.8" cy="230.6" r="0.70" fill="rgb(251,251,251)"/>
<circle cx="221.7" cy="230.2" r="0.97" fill="rgb(224,224,224)"/>
<circle cx="222.8" cy="230.7" r="0.91" fill="rgb(235,235,235)"/>
<circle cx="245.0" cy="229.1" r="0.80" fill="rgb(238,238,238)"/>
<circle cx="245.2" cy="230.2" r="0.74" fill="rgb(241,241,241)"/>
<circle cx="245.9" cy="229.5" r="1.12" fill="rgb(224,224,224)"/>
<circle cx="245.2" cy="229.5" r="1.05" fill="rgb(251,251,251)"/>
<circle cx="244.2" cy="230.8" r="0.98" fill="rgb(249,249,249)"/>
<circle cx="245.0" cy="228.4" r="1.02" fill="rgb(216,216,216)"/>
<circle cx="285.4" cy="220.6" r="0.76" fill="rgb(221,221,221)"/>
<circle cx="285.9" cy="221.0" r="0.89" fill="rgb(220,220,220)"/>
<circle cx="286.4" cy="219.2" r="0.81" fill="rgb(246,246,246)"/>
<circle cx="286.3" cy="220.4" r="0.74" fill="rgb(248,248,248)"/>
<circle cx="286.2" cy="220.5" r="0.78" fill="rgb(253,253,253)"/>
<circle cx="299.1" cy="248.6" r="0.89" fill="rgb(239,239,239)"/>
<circle cx="300.5" cy="247.0" r="0.93" fill="rgb(221,221,221)"/>
<circle cx="300.0" cy="247.6" r="0.78" fill="rgb(216,216,216)"/>
<circle cx="300.2" cy="248.4" r="0.80" fill="rgb(219,219,219)"/>
<circle cx="300.1" cy="248.0" r="0.73" fill="rgb(242,242,242)"/>
<circle cx="300.4" cy="247.4" r="0.76" fill="rgb(251,251,251)"/>
<circle cx="222.1" cy="236.9" r="0.71" fill="rgb(231,231,231)"/>
<circle cx="222.8" cy="237.9" r="0.65" fill="rgb(226,226,226)"/>
<circle cx="222.1" cy="238.8" r="0.81" fill="rgb(230,230,230)"/>
<circle cx="222.6" cy="238.5" r="0.57" fill="rgb(226,226,226)"/>
<circle cx="222.1" cy="238.9" r="0.85" fill="rgb(229,229,229)"/>
</g>
</g></svg>
<svg x="314.1" y="199.2" width="96.0" height="75.2" viewBox="314.1 199.2 96.0 75.2" overflow="hidden">
<g filter="url(#bl)"><rect x="314.1" y="199.2" width="96.0" height="75.2" fill="#121212"/>
<path d="M372.8 256.6l2.3 -3.3M343.7 236.3l1.4 -1.8M385.1 260.2l1.8 -2.2M359.6 224.9l1.3 -2.8M399.3 249.5l1.6 -2.3M326.1 227.0l1.0 -2.0M348.6 261.5l1.4 -3.0M369.5 254.0l1.0 -1.8M352.6 224.3l1.3 -2.1M316.5 273.1l2.0 -2.6M324.5 265.8l1.1 -2.9M321.4 259.1l1.1 -3.5M360.8 210.6l1.0 -2.9M398.9 231.8l1.0 -2.2M321.6 242.4l0.9 -2.7M357.4 229.9l1.1 -2.7M342.6 275.2l1.9 -3.7M389.8 206.3l1.2 -3.5M404.5 201.8l0.8 -1.3M399.4 224.0l1.3 -2.0M359.2 232.8l2.4 -3.8M400.6 232.6l1.1 -3.0M357.2 235.9l2.3 -3.7M402.8 236.0l0.7 -1.3M344.5 274.3l0.8 -2.7M398.6 212.1l0.6 -1.7M408.4 234.9l1.3 -3.6M345.3 208.5l1.7 -2.5M352.2 204.0l1.7 -2.3M322.2 213.3l1.8 -2.4M392.6 210.0l1.1 -1.5" stroke="rgb(24,24,24)" stroke-width="1.6" stroke-linecap="round" fill="none"/>
<path d="M382.9 223.2l0.9 -1.5M346.2 257.3l1.9 -3.0M323.8 261.5l0.6 -2.1M327.5 262.5l0.8 -1.6M346.1 275.5l0.8 -2.3M354.5 210.2l1.0 -2.2M409.4 228.2l1.0 -2.4M338.8 251.6l1.8 -2.1M403.6 244.4l0.9 -1.7M318.6 272.6l1.5 -3.8M324.3 253.1l1.3 -3.7M316.7 256.4l0.7 -2.2M336.3 208.6l1.2 -2.1M329.0 204.3l1.2 -3.8M334.7 271.4l1.1 -1.6M408.0 224.4l1.1 -1.4M408.4 248.6l1.2 -2.4M383.8 204.3l2.2 -3.5" stroke="rgb(24,24,24)" stroke-width="1.2" stroke-linecap="round" fill="none"/>
<path d="M353.8 205.2l1.5 -3.6M355.4 244.8l0.9 -1.9M328.0 227.7l1.3 -1.6M385.9 217.2l1.7 -3.6M393.4 264.4l1.7 -3.1M357.4 242.2l0.7 -2.2M368.1 264.9l0.9 -1.4M406.3 244.7l0.4 -1.6M390.9 250.2l1.0 -1.3" stroke="rgb(24,24,24)" stroke-width="1.8" stroke-linecap="round" fill="none"/>
<path d="M362.5 242.0l2.2 -3.2M340.6 253.8l1.2 -2.6M353.0 212.7l1.7 -2.7M344.9 202.5l0.4 -1.5M345.8 263.8l1.4 -1.7M401.1 264.0l1.7 -3.8M342.1 240.5l2.3 -3.7M341.9 267.1l1.5 -2.7M362.1 253.6l0.9 -1.8M382.1 264.7l1.5 -3.1M368.4 244.4l0.5 -1.6M373.7 221.9l1.1 -2.6M378.4 248.4l1.2 -2.1M376.3 269.2l1.5 -3.4M353.3 271.6l0.7 -2.4M404.0 255.7l1.2 -1.7M373.6 273.6l0.8 -1.7M324.9 213.0l2.3 -3.1M392.7 224.0l1.5 -2.3M315.1 260.1l0.9 -2.0M408.6 225.5l2.7 -3.3M344.8 253.7l1.2 -1.6M409.2 231.5l1.3 -2.2M315.6 270.4l0.9 -2.7M328.1 221.8l0.6 -1.7M334.1 258.1l0.7 -1.9M348.2 266.9l1.1 -1.8M369.1 241.1l1.6 -2.1M327.1 232.5l1.0 -2.4M404.5 236.0l0.9 -2.9" stroke="rgb(24,24,24)" stroke-width="1.4" stroke-linecap="round" fill="none"/>
<path d="M344.0 214.1l1.1 -2.5M357.1 230.1l1.0 -3.3M383.3 212.9l1.7 -2.8M364.9 206.8l0.9 -1.6M374.0 258.2l1.6 -2.8M394.4 268.8l1.1 -1.8M381.5 253.1l1.5 -1.8M327.8 234.3l2.1 -3.0M319.8 249.8l0.7 -1.7M357.6 240.8l0.9 -1.9M332.4 264.1l2.5 -3.5M317.3 268.8l1.7 -3.9M392.6 274.6l1.4 -4.3M321.2 233.5l0.9 -1.5M404.1 239.5l1.2 -1.6" stroke="rgb(24,24,24)" stroke-width="1.0" stroke-linecap="round" fill="none"/>
<path d="M372.9 261.8l1.6 -2.9M355.0 238.1l0.7 -1.4M370.4 253.4l1.5 -2.7M343.3 255.8l1.6 -2.4M332.4 207.9l0.9 -1.3M330.2 254.2l1.2 -1.8M378.1 271.0l1.1 -3.3M355.2 208.9l0.5 -1.5M372.0 259.7l2.2 -2.6M331.4 226.0l1.9 -2.6M395.0 207.3l0.7 -1.8M357.6 234.4l1.1 -1.8" stroke="rgb(24,24,24)" stroke-width="0.8" stroke-linecap="round" fill="none"/>
<path d="M396.9 229.3l1.0 -1.7M347.3 232.5l2.3 -2.9M341.6 261.1l1.4 -4.0M367.8 271.9l0.6 -1.6M409.6 257.2l0.8 -2.3M387.2 207.8l0.9 -2.3M396.6 230.4l2.2 -3.5M406.7 239.6l0.9 -3.1M314.9 201.4l1.2 -1.5M365.5 275.7l2.7 -3.3M354.5 219.5l1.1 -2.3M341.1 206.9l1.5 -2.4M364.6 220.2l2.4 -3.2M368.8 215.9l1.8 -2.3M353.8 212.6l1.5 -3.7M352.4 256.6l0.9 -2.0M350.5 268.0l1.0 -2.8M389.5 267.8l1.1 -3.2M382.8 218.5l0.9 -2.8M348.9 254.5l2.1 -3.0M356.3 204.7l1.3 -4.1M387.4 268.8l1.1 -3.5M379.0 208.8l0.7 -2.5M342.1 207.5l0.9 -2.9M330.1 263.5l1.7 -2.4M370.2 214.3l0.8 -2.0M334.9 245.4l1.6 -2.6M406.3 236.8l0.7 -1.7M382.7 234.4l2.1 -3.2M315.3 204.9l1.3 -3.2M406.4 248.8l1.7 -2.3M358.1 256.6l2.4 -3.2M374.2 259.7l1.8 -3.5M313.4 223.7l1.6 -3.6" stroke="rgb(36,36,36)" stroke-width="1.6" stroke-linecap="round" fill="none"/>
<path d="M333.3 238.8l1.6 -2.0M344.1 220.6l1.1 -1.5M368.9 255.6l0.5 -1.5M323.5 259.1l0.8 -1.5M406.5 234.4l2.2 -3.8M364.0 222.4l0.8 -2.2M333.2 252.2l1.8 -3.5M395.4 212.0l2.5 -3.6M356.0 213.4l1.6 -3.8M400.7 246.1l1.4 -3.1M336.7 223.5l1.6 -2.6M331.0 235.5l1.9 -2.9M403.5 203.6l2.6 -3.4M401.3 236.1l1.4 -3.7M398.8 251.7l1.1 -3.5M403.0 233.4l1.5 -2.3M390.9 236.9l1.2 -1.5M316.2 204.2l2.0 -2.5M344.9 242.9l1.3 -2.3M369.2 212.7l1.3 -3.2M324.7 275.3l1.4 -4.0M326.6 253.4l0.7 -1.4" stroke="rgb(36,36,36)" stroke-width="1.2" stroke-linecap="round" fill="none"/>
<path d="M333.0 274.4l1.9 -2.8M359.4 248.4l0.5 -1.5M384.6 221.7l2.2 -3.0M349.2 204.8l1.7 -2.7M337.3 257.2l2.3 -3.2M402.0 253.1l1.6 -3.6M358.1 222.3l2.1 -3.2M358.5 257.7l1.5 -2.9M316.0 208.8l1.3 -2.2M332.8 268.7l0.8 -2.1M374.2 203.3l0.7 -1.7M323.3 244.5l2.6 -3.1M350.7 210.1l1.6 -3.1M318.0 214.1l0.7 -2.6M317.8 243.0l2.3 -3.6M400.7 255.9l1.5 -2.8M319.9 258.9l1.0 -1.5M346.1 202.0l1.2 -2.4M349.2 250.5l0.9 -2.4M398.6 267.3l1.0 -1.8M378.9 224.3l1.4 -3.7M397.8 216.8l1.6 -1.9M329.4 217.2l1.3 -2.2M402.0 272.8l0.9 -1.6M324.6 233.7l2.5 -3.6M342.3 206.6l1.0 -1.6M408.3 254.3l0.5 -1.6" stroke="rgb(36,36,36)" stroke-width="1.4" stroke-linecap="round" fill="none"/>
<path d="M350.2 236.6l1.3 -3.0M399.1 200.3l1.5 -2.0M332.2 224.5l1.4 -1.8M339.4 254.8l1.4 -2.8M395.3 260.2l1.8 -3.1M377.2 244.0l1.3 -1.7M361.7 237.9l1.6 -2.7M406.2 215.1l1.4 -2.4M324.3 215.2l0.8 -2.6M408.0 225.7l1.7 -2.9M327.8 272.7l0.8 -2.3M385.3 263.8l1.8 -3.4M397.6 238.8l0.9 -3.3M393.5 274.2l1.2 -2.0M384.7 243.3l1.4 -2.3M405.1 253.0l0.7 -2.0M372.1 233.8l1.7 -2.2M349.3 239.5l0.9 -2.2M360.3 232.2l1.4 -1.8M322.2 236.0l0.6 -1.7M372.4 260.5l2.0 -3.0M374.1 225.9l1.6 -2.0M359.7 241.1l1.6 -2.3M325.8 215.6l1.5 -4.1" stroke="rgb(36,36,36)" stroke-width="1.0" stroke-linecap="round" fill="none"/>
<path d="M339.4 254.4l2.2 -2.7M407.3 252.8l0.8 -1.6M404.8 208.2l0.9 -1.4M325.6 238.9l0.8 -1.4M360.3 251.8l0.5 -1.8M361.1 273.3l1.5 -2.9M370.6 217.6l1.1 -1.6M367.7 215.3l1.6 -3.5M398.7 206.2l0.5 -1.7M358.8 264.0l1.6 -3.5M334.1 201.1l1.0 -1.8M374.2 262.3l1.5 -2.0M360.2 232.1l1.3 -2.3M348.2 237.4l1.3 -1.9M350.0 215.2l1.0 -2.1M383.4 247.1l0.9 -1.4M373.0 265.0l1.2 -4.2M385.8 261.8l1.7 -2.4M317.6 238.0l1.7 -2.1M370.9 243.8l1.9 -3.4M385.3 238.4l0.6 -1.4M386.9 249.3l2.3 -3.4" stroke="rgb(36,36,36)" stroke-width="0.8" stroke-linecap="round" fill="none"/>
<path d="M405.2 247.3l1.5 -2.1M346.5 211.3l1.2 -3.0M351.0 264.4l1.1 -1.6M396.5 243.0l1.3 -3.4M334.9 245.7l0.7 -1.4M352.8 203.2l0.8 -1.8M379.5 217.6l2.5 -3.7M324.4 202.3l2.0 -3.7M362.3 203.0l1.2 -2.3M330.1 208.6l1.4 -2.6M384.0 234.3l1.1 -1.4M343.6 273.7l1.2 -3.4M393.6 261.0l1.6 -4.0M320.7 214.5l0.8 -2.1M343.1 261.2l1.3 -3.4M350.6 257.6l1.0 -1.8M330.0 262.8l1.6 -3.5M374.7 254.1l0.8 -2.8M360.9 270.6l0.7 -1.8" stroke="rgb(36,36,36)" stroke-width="1.8" stroke-linecap="round" fill="none"/>
<path d="M365.8 243.6l0.9 -2.6M384.8 245.0l1.7 -2.7M354.6 241.0l0.7 -2.2M318.1 230.9l1.8 -3.6M407.9 212.9l1.5 -3.0M350.4 209.8l0.9 -1.7M348.3 225.8l1.1 -3.5M393.9 235.7l1.5 -2.2M401.9 271.6l1.2 -3.8M329.6 220.4l1.4 -1.7M344.1 238.2l1.1 -2.9M378.2 235.1l0.7 -1.5M390.7 226.1l1.1 -1.6M400.0 215.0l1.2 -4.3M353.0 254.4l1.8 -4.0M366.3 239.0l0.5 -1.8M373.2 223.7l1.0 -3.4M319.8 240.8l1.0 -2.1M340.9 213.9l1.2 -3.6M362.4 247.6l1.6 -3.7M383.6 209.7l1.9 -3.5M356.4 274.1l1.2 -2.3M383.0 219.6l1.8 -2.2M403.9 269.5l1.4 -3.6M349.3 261.6l1.6 -2.1M332.1 218.9l1.2 -2.1" stroke="rgb(48,48,48)" stroke-width="0.8" stroke-linecap="round" fill="none"/>
<path d="M325.1 200.8l2.4 -3.0M380.4 204.2l1.9 -2.7M343.1 234.5l1.0 -3.0M399.8 252.3l0.9 -2.8M385.8 256.0l2.2 -2.9M331.0 263.5l0.7 -1.6M336.4 223.0l0.7 -1.5M353.3 237.0l1.7 -3.4M351.8 246.1l0.7 -2.2M356.7 206.5l1.5 -2.9M353.1 240.5l1.5 -3.4M351.0 214.9l1.5 -4.0M403.7 204.6l1.2 -1.5M353.8 215.1l2.3 -3.9M398.8 258.9l1.0 -1.9M366.5 222.9l1.9 -3.1M382.4 227.9l0.9 -1.6M403.8 259.7l1.5 -2.1M391.9 205.0l1.1 -3.7M329.5 203.6l1.5 -2.8M330.5 257.5l2.3 -3.4M388.9 268.5l0.6 -1.5M387.9 220.9l1.3 -1.9M383.9 254.9l0.7 -1.8M333.3 258.7l2.0 -3.2M384.2 258.0l2.4 -3.5M353.4 244.0l1.1 -1.7M332.2 261.2l1.6 -2.3M318.4 237.5l0.9 -1.5M337.3 250.8l1.3 -1.5M331.5 242.8l1.0 -3.0M380.1 201.5l0.6 -1.6M340.7 261.5l1.3 -3.5M378.3 233.5l2.1 -3.2M321.9 251.1l1.3 -3.1M373.7 214.9l1.4 -2.6M373.1 267.6l1.6 -3.0" stroke="rgb(48,48,48)" stroke-width="1.6" stroke-linecap="round" fill="none"/>
<path d="M329.2 213.0l1.6 -2.6M365.4 224.4l2.0 -3.4M330.8 264.4l0.9 -2.3M383.8 263.2l2.2 -3.5M395.0 272.0l1.1 -3.6M320.2 274.9l0.7 -1.9M354.7 225.6l1.3 -2.6M374.9 241.5l1.3 -2.4M326.3 249.2l0.9 -1.7M365.7 274.0l2.6 -3.2M405.0 257.9l0.6 -1.8M404.7 202.7l1.4 -2.0M392.6 249.5l2.1 -2.7M362.4 267.1l1.4 -3.0M393.5 258.6l2.2 -3.4M344.7 252.5l2.3 -3.6M392.4 205.9l2.4 -3.6M328.8 219.7l2.8 -3.4M340.4 275.2l2.0 -3.3M346.5 241.1l1.9 -3.2M393.6 245.0l1.6 -3.4M375.2 225.9l0.5 -2.0M316.2 273.3l1.0 -2.4M320.4 228.5l1.4 -2.6M382.0 217.0l1.7 -2.9M356.6 218.3l1.6 -2.8M356.4 228.2l0.9 -2.5M343.9 238.5l2.0 -3.4M361.2 230.7l0.9 -1.3M396.2 248.8l2.3 -3.6M318.2 240.9l1.4 -2.4M365.8 209.7l0.9 -2.6M344.7 232.5l1.3 -3.0" stroke="rgb(48,48,48)" stroke-width="1.2" stroke-linecap="round" fill="none"/>
<path d="M314.6 203.6l0.7 -1.7M340.2 212.0l1.0 -1.3M339.4 237.8l2.3 -3.1M326.2 249.6l1.4 -2.0M390.0 248.7l1.4 -3.5M359.3 210.1l1.5 -3.8M357.4 202.4l1.0 -1.5M371.3 226.2l1.9 -3.2M320.5 275.3l1.6 -3.0M393.4 245.3l2.0 -2.9M370.0 218.9l1.3 -3.9M348.8 276.0l1.4 -3.6M398.3 275.7l2.0 -3.1M347.1 245.9l2.2 -3.2M332.0 251.4l1.3 -3.7M368.7 252.6l1.4 -4.0M340.3 243.5l1.0 -2.8M360.0 246.5l0.7 -1.8M315.6 231.5l1.9 -2.5M330.3 210.1l1.4 -3.6M333.8 258.4l0.7 -2.4M338.6 227.2l1.5 -2.7M364.8 223.4l1.5 -2.6M400.3 252.3l1.4 -2.4M325.7 248.4l2.1 -3.9M401.7 207.3l1.7 -2.9M379.2 224.6l1.8 -2.9M400.9 245.9l2.0 -2.6M373.2 250.7l0.8 -1.9M349.9 246.7l1.4 -3.9M358.2 272.9l1.8 -2.7" stroke="rgb(48,48,48)" stroke-width="1.0" stroke-linecap="round" fill="none"/>
<path d="M392.2 235.8l1.2 -3.6M407.4 272.1l0.9 -1.9M328.8 234.1l1.3 -3.6M341.4 271.0l1.1 -2.0M350.5 214.4l2.1 -3.7M324.6 242.8l1.1 -2.6M347.4 237.9l0.9 -3.1M339.0 237.7l1.7 -2.7M321.8 234.5l1.8 -3.5M362.0 272.8l0.7 -1.6M408.2 230.4l1.6 -2.6M403.6 233.6l1.3 -2.1M402.9 246.7l1.0 -1.5M362.3 253.9l2.2 -3.1M363.0 216.3l2.0 -2.6M332.2 263.9l1.4 -2.7M321.5 216.4l1.1 -2.8M342.1 202.0l0.7 -1.4M398.2 220.7l1.4 -4.0M371.7 257.5l2.0 -3.7M386.3 211.3l2.1 -2.9M332.3 265.1l1.1 -2.2M397.5 216.1l1.3 -2.7M378.0 257.1l2.3 -3.8M320.8 222.4l1.2 -1.7M361.8 245.3l1.9 -3.6M376.9 270.2l1.1 -1.4M340.5 243.9l1.1 -1.3M355.8 266.2l1.0 -1.3M362.5 251.8l1.9 -3.0M387.3 273.4l1.0 -2.5M365.8 240.1l0.8 -1.7M384.8 256.6l1.2 -3.1M370.6 243.8l1.5 -3.4M353.1 259.9l1.7 -2.3M386.1 241.9l0.9 -1.4M362.3 248.9l1.9 -2.8" stroke="rgb(48,48,48)" stroke-width="1.4" stroke-linecap="round" fill="none"/>
<path d="M382.8 274.2l0.5 -1.6M375.1 265.9l0.9 -1.8M407.9 224.3l0.6 -1.6M338.0 264.3l1.6 -2.8M336.9 227.7l0.9 -1.5M331.6 259.1l2.6 -3.1M339.3 215.6l0.8 -1.9M326.0 207.0l1.6 -3.3M317.5 269.9l1.2 -2.6M351.0 274.1l1.8 -2.4M348.8 223.2l1.8 -3.3M397.8 271.9l1.3 -1.8M406.5 217.4l1.3 -3.7M348.3 231.2l1.5 -3.5M324.5 244.8l1.9 -2.9M342.7 234.2l1.1 -1.6M404.7 204.3l0.7 -2.2M348.2 242.9l2.5 -3.3M352.5 250.9l1.9 -4.0" stroke="rgb(48,48,48)" stroke-width="1.8" stroke-linecap="round" fill="none"/>
<path d="M329.1 211.9l2.0 -3.4M352.2 241.0l1.1 -3.7M388.2 236.3l1.0 -1.5M399.1 232.9l1.9 -3.5M351.1 206.9l1.1 -2.2M369.9 248.1l2.0 -3.8M376.7 271.5l1.1 -2.5M367.5 243.3l1.2 -1.9M396.8 267.0l0.9 -1.5M390.2 252.2l1.2 -3.3M370.9 231.0l1.1 -1.9M374.3 245.8l0.8 -2.1M369.6 236.6l1.0 -2.4M318.3 209.0l1.9 -3.3M357.8 249.8l2.2 -3.3M379.4 245.6l0.8 -1.6M382.0 230.9l1.3 -3.0" stroke="rgb(60,60,60)" stroke-width="0.8" stroke-linecap="round" fill="none"/>
<path d="M364.7 213.6l0.9 -1.8M393.4 221.1l1.7 -4.0M349.8 273.2l1.4 -3.4M337.6 202.1l1.1 -2.8M385.8 221.7l1.3 -2.6M354.8 221.5l2.7 -3.4M333.1 270.3l1.4 -3.6M382.1 236.2l1.1 -2.1M348.0 225.3l0.8 -2.3M387.4 257.7l2.1 -3.7M334.2 219.6l2.2 -3.1M318.4 241.3l1.4 -1.9M369.6 216.4l0.9 -1.3M363.6 219.1l0.9 -1.7" stroke="rgb(60,60,60)" stroke-width="1.8" stroke-linecap="round" fill="none"/>
<path d="M369.4 251.0l1.0 -3.5M326.7 229.7l1.0 -2.0M394.9 214.5l1.2 -3.9M371.0 250.1l2.4 -3.2M399.7 236.0l0.9 -1.9M335.4 212.4l1.0 -2.8M369.1 201.1l1.9 -3.0M321.5 252.4l0.9 -2.6M380.4 238.4l1.4 -2.7M405.5 221.8l2.3 -3.1M362.9 248.4l2.4 -2.9M384.7 236.1l0.7 -1.4M366.3 207.9l2.1 -3.4M376.4 228.5l1.1 -2.0M357.5 237.5l0.8 -2.3M402.6 228.8l0.5 -1.4M377.9 226.5l0.9 -1.4M344.5 224.7l1.8 -2.2M350.4 200.7l0.7 -2.4M369.1 238.8l1.6 -2.8M399.5 261.0l0.6 -1.7M394.6 248.9l1.1 -3.8" stroke="rgb(60,60,60)" stroke-width="1.2" stroke-linecap="round" fill="none"/>
<path d="M341.8 223.2l2.5 -3.6M370.8 251.4l0.6 -2.3M334.9 202.7l1.8 -2.9M363.3 215.9l2.3 -3.0M345.0 258.5l2.3 -2.8M361.0 237.0l1.0 -1.3M408.3 214.0l1.4 -1.9M334.2 251.2l1.1 -3.6M389.3 244.4l1.2 -3.8M347.2 235.2l2.3 -2.8M364.5 272.8l1.6 -2.0M370.8 233.3l1.2 -2.8M360.4 234.7l1.8 -2.3M375.1 226.7l1.4 -3.3M317.9 215.1l1.0 -3.6M372.2 274.3l1.8 -3.5M371.6 233.0l1.8 -3.0M327.9 242.0l2.2 -3.4M362.3 255.0l1.6 -2.6M337.6 267.1l1.4 -3.1M374.2 206.2l1.3 -2.6M360.2 255.0l2.0 -2.6M315.0 253.6l0.7 -2.3M360.4 273.4l1.9 -4.1M379.1 272.5l1.9 -2.5M315.3 226.7l0.6 -1.8M396.1 231.3l1.3 -3.3M353.1 214.1l0.9 -1.6M376.9 201.9l1.1 -2.1" stroke="rgb(60,60,60)" stroke-width="1.4" stroke-linecap="round" fill="none"/>
<path d="M317.0 237.1l1.2 -2.1M359.0 251.7l1.6 -2.4M342.5 201.0l1.6 -3.1M373.0 268.7l0.8 -1.9M318.1 245.7l0.4 -1.5M340.3 259.2l0.6 -2.2M337.3 213.0l2.0 -2.6M353.8 259.8l1.1 -3.2M405.4 208.7l1.1 -1.4M380.3 235.8l2.2 -2.9M393.6 249.7l1.0 -3.2M388.7 202.4l1.5 -2.0M406.5 226.1l2.5 -3.3M378.2 261.4l1.5 -2.4M317.3 206.8l1.1 -1.6M332.2 211.2l2.5 -3.2M367.8 275.5l1.3 -3.4M381.8 206.2l2.4 -3.5M393.0 249.1l1.6 -2.5M344.4 211.6l1.8 -2.6M379.0 242.6l1.2 -1.9M323.3 246.6l2.0 -4.0M316.4 245.5l0.8 -2.3M348.6 208.8l1.0 -1.9M343.6 212.7l1.3 -2.4M344.1 245.3l0.8 -2.3M355.2 250.1l1.2 -3.5M390.8 253.9l0.8 -3.0M319.1 212.8l1.5 -2.9M399.8 240.0l0.9 -2.3M313.3 268.3l2.4 -3.4M371.6 228.0l0.5 -1.8M408.8 201.7l1.2 -2.6M397.6 268.7l1.7 -2.2M323.2 254.2l1.0 -3.6M405.8 244.7l0.9 -1.8M340.5 246.9l0.8 -1.9M320.5 245.7l1.8 -2.7M391.8 235.3l1.6 -2.7" stroke="rgb(60,60,60)" stroke-width="1.6" stroke-linecap="round" fill="none"/>
<path d="M358.8 271.3l1.3 -2.0M400.7 222.9l0.6 -2.0M397.7 269.1l0.6 -1.5M355.9 261.9l0.9 -1.6M358.4 234.0l1.6 -2.9M343.1 260.2l2.4 -3.0M327.5 271.2l1.2 -4.2M400.9 268.5l1.0 -2.1M360.0 220.2l1.9 -4.0M384.5 224.2l0.6 -1.5M338.8 226.1l0.8 -2.1M392.8 222.7l0.8 -2.3M355.2 252.5l1.8 -3.0M363.9 262.0l1.5 -1.9M362.2 238.4l1.2 -3.5M377.7 256.4l0.7 -2.0M373.1 229.0l2.1 -3.0M392.5 224.0l1.2 -2.3M334.8 263.3l0.9 -2.7M393.5 210.2l1.3 -1.9M375.7 221.6l2.6 -3.3M373.8 213.9l1.5 -3.1M381.4 205.8l1.4 -3.0M409.2 256.9l1.1 -2.3M344.8 249.5l0.6 -2.2M358.4 272.4l0.6 -2.1M341.9 204.9l1.1 -2.3M375.9 223.2l2.2 -2.7M392.7 203.3l1.3 -4.1M371.9 261.7l0.5 -1.8M390.7 263.2l1.2 -4.0" stroke="rgb(60,60,60)" stroke-width="1.0" stroke-linecap="round" fill="none"/>
<path d="M337.5 204.5l1.0 -2.7M323.8 232.9l1.1 -2.1M377.4 205.3l0.6 -1.4M339.8 232.0l2.1 -3.9M323.6 252.6l1.7 -3.5M401.1 237.4l0.9 -2.4M360.1 259.0l0.8 -2.3M400.2 244.0l1.7 -4.1M341.0 257.0l0.8 -1.9M340.5 201.5l2.4 -3.6M349.9 231.1l0.7 -1.6M365.8 226.7l0.8 -1.3M340.3 262.5l0.7 -2.3M327.4 202.5l1.7 -2.1M357.9 201.9l1.0 -1.5M381.2 236.5l2.1 -3.8M346.1 239.1l2.1 -3.3M319.7 225.6l1.2 -2.9M348.4 204.2l2.3 -3.3M380.8 243.4l1.8 -3.3M348.5 217.1l1.1 -1.7M355.5 241.1l1.8 -3.0M339.4 232.3l1.0 -1.5M313.4 234.2l1.7 -4.2M407.7 213.4l1.3 -2.5M320.0 237.9l1.1 -1.5M379.5 210.4l2.7 -3.2M336.7 269.2l1.0 -2.4M328.1 264.1l1.8 -3.4M319.8 248.6l1.0 -2.7M365.2 240.7l1.4 -2.2M327.0 229.5l1.0 -1.5M316.9 264.2l0.9 -1.5M405.1 229.5l0.8 -2.5M319.6 203.7l1.0 -1.5M371.0 218.3l2.4 -3.2M388.3 253.5l0.7 -2.0M363.0 234.4l0.5 -1.7" stroke="rgb(72,72,72)" stroke-width="1.0" stroke-linecap="round" fill="none"/>
<path d="M333.3 271.1l1.0 -2.2M341.2 237.9l1.3 -2.2M353.9 261.7l0.9 -2.7M359.6 209.4l0.6 -2.1M347.7 222.8l1.5 -2.6M339.6 215.9l2.2 -3.1M350.9 208.5l0.7 -2.1M342.5 269.4l1.6 -4.1M368.3 219.8l0.9 -1.7M372.9 208.5l1.3 -3.8M321.4 232.1l0.6 -1.9M383.6 228.8l2.1 -3.2M324.9 268.6l1.4 -3.6M383.8 269.4l1.0 -3.3M313.7 271.4l1.3 -2.1M406.6 218.0l1.7 -3.1M347.3 256.5l1.0 -1.6M376.1 240.8l0.9 -1.8M358.7 231.8l1.3 -3.9M327.6 209.0l1.4 -3.8M404.1 205.5l0.6 -2.1M355.2 207.4l1.3 -2.0M333.7 264.7l1.6 -3.8M349.8 257.0l1.9 -3.4M403.2 245.8l1.5 -2.7M398.8 230.6l1.7 -2.9M334.3 276.3l1.9 -3.9M408.9 226.2l1.2 -2.8M336.3 211.0l0.9 -2.6M376.6 268.9l0.5 -1.8M370.2 207.5l1.4 -2.9M391.3 264.5l1.4 -2.7M333.9 234.8l1.7 -3.8M389.7 241.9l1.9 -2.6M368.6 205.9l0.7 -1.7M360.7 273.3l2.4 -3.6" stroke="rgb(72,72,72)" stroke-width="1.4" stroke-linecap="round" fill="none"/>
<path d="M370.4 254.2l1.8 -3.5M395.5 221.3l1.1 -1.7M387.7 231.9l2.3 -3.6M320.8 219.5l2.3 -3.7M320.8 252.8l1.4 -3.9M344.6 227.2l1.0 -1.5M324.6 240.9l1.0 -2.6M333.2 218.2l1.1 -2.6M399.5 239.9l0.4 -1.6M322.4 216.5l0.6 -1.6M394.4 227.9l0.8 -2.5M406.7 224.4l2.1 -3.7M406.9 206.7l1.1 -3.2M345.0 238.5l2.5 -3.2M339.1 241.3l0.9 -2.8M315.9 208.5l2.2 -2.8M370.8 224.9l0.8 -1.5M363.2 231.3l1.3 -2.6M346.5 212.1l0.8 -2.6M326.4 226.1l0.9 -1.6M340.3 216.7l1.8 -2.2M360.0 257.3l2.4 -3.0M344.4 220.9l1.8 -3.5" stroke="rgb(72,72,72)" stroke-width="0.8" stroke-linecap="round" fill="none"/>
<path d="M404.6 227.2l1.3 -2.3M318.7 271.8l2.8 -3.4M345.4 246.5l1.4 -2.2M378.1 209.2l1.0 -3.2M341.9 209.8l1.3 -3.5M393.7 206.3l1.0 -2.6M316.0 231.7l1.2 -3.1M360.6 252.9l1.4 -4.0M386.7 209.1l1.9 -3.7M334.1 231.5l1.6 -4.1M401.5 260.6l1.3 -3.5M389.0 264.3l1.0 -2.4M360.1 251.5l1.6 -2.3M361.1 232.0l1.3 -2.1M369.9 235.5l1.6 -3.6M364.4 271.6l1.8 -4.1M344.6 254.9l0.8 -2.0M384.7 204.0l0.6 -1.6M368.0 260.3l1.1 -1.7M361.7 234.3l0.5 -1.7M347.4 209.4l1.6 -3.4M357.8 235.1l1.4 -4.1M355.9 217.4l2.0 -2.6M370.3 271.4l1.2 -1.6M350.2 262.6l0.8 -1.3M405.9 228.0l1.7 -2.5M348.8 216.3l1.8 -2.9M372.1 201.9l0.6 -1.8M335.8 249.9l1.4 -2.2M406.2 249.9l2.1 -2.8M366.2 222.8l1.5 -3.4M320.9 201.4l1.2 -2.6M376.2 219.2l1.2 -1.4M391.1 229.9l0.6 -1.5M344.5 220.9l2.2 -3.8M377.2 228.4l0.7 -1.5" stroke="rgb(72,72,72)" stroke-width="1.2" stroke-linecap="round" fill="none"/>
<path d="M401.9 203.4l1.8 -3.6M379.9 250.5l1.7 -2.7M398.2 206.2l1.8 -3.3M376.4 271.9l1.3 -1.9M400.9 218.2l0.9 -2.5M387.6 246.1l1.5 -1.9M325.4 226.2l0.7 -2.6M391.4 201.5l1.1 -3.8M382.7 262.2l1.8 -3.9M381.3 200.7l1.2 -1.8M384.5 210.0l1.6 -4.1M404.3 259.5l0.8 -1.6M313.8 259.4l0.8 -1.4M343.4 235.2l0.9 -2.9M324.5 210.0l1.2 -2.0M325.1 209.6l1.4 -1.9M330.4 213.0l1.2 -3.2M329.1 227.2l1.2 -3.1M374.2 246.5l1.1 -1.5M325.0 218.6l0.9 -1.8M363.2 260.4l0.7 -2.4M349.6 247.6l2.0 -3.9M362.3 262.7l0.8 -1.5M385.5 243.9l1.1 -2.4M395.5 252.7l0.7 -1.7M407.1 236.6l1.9 -3.8M385.6 219.8l1.0 -2.7M340.9 265.5l0.7 -2.3M395.0 224.9l2.1 -3.5M325.9 273.7l1.9 -2.7M328.5 211.1l2.1 -3.6M362.1 213.2l1.3 -2.9M354.7 274.6l1.5 -2.2M370.2 208.5l2.7 -3.3M375.8 255.8l1.3 -2.4M402.5 227.7l1.1 -2.5M324.6 246.3l1.3 -3.7M375.4 226.6l2.5 -3.3M345.5 244.7l1.8 -2.6M402.5 220.3l1.3 -2.3M345.5 210.0l2.1 -2.7M400.6 263.2l1.0 -2.1" stroke="rgb(72,72,72)" stroke-width="1.6" stroke-linecap="round" fill="none"/>
<path d="M324.3 267.3l1.0 -1.7M332.5 236.7l0.7 -1.3M358.6 200.5l0.5 -1.8M360.1 228.5l1.7 -3.4M390.8 234.0l0.9 -1.8M379.8 240.6l2.0 -3.5M336.9 245.9l1.0 -2.6M320.4 268.0l1.5 -3.4M319.6 252.8l1.1 -1.8M364.4 206.3l1.2 -2.9M392.8 255.9l1.7 -4.0M373.2 246.2l1.2 -4.0M358.8 249.7l0.6 -1.6M333.1 219.2l0.6 -1.4M379.1 201.4l0.4 -1.5M339.8 271.9l1.1 -3.0M371.5 208.0l2.3 -3.1M353.1 262.9l0.9 -1.8M342.7 205.3l2.2 -3.8M386.5 227.7l0.9 -2.5M337.3 232.3l1.6 -2.8" stroke="rgb(72,72,72)" stroke-width="1.8" stroke-linecap="round" fill="none"/>
<path d="M408.9 265.1l2.3 -3.7M367.5 232.4l1.5 -1.8M355.4 258.8l2.2 -3.8M315.5 262.4l0.7 -1.8M386.2 239.1l1.4 -2.3M337.4 227.5l0.8 -1.3M354.3 217.3l1.9 -2.6M374.9 223.0l1.2 -2.3M343.0 267.3l0.7 -1.6M365.5 250.5l1.2 -2.8" stroke="rgb(84,84,84)" stroke-width="1.8" stroke-linecap="round" fill="none"/>
<path d="M368.2 254.1l2.4 -3.3M342.9 213.6l2.1 -3.9M360.9 242.0l2.6 -3.6M325.0 235.0l1.8 -3.0M404.3 223.7l0.7 -1.6M354.1 264.3l1.7 -2.9M333.2 202.5l1.6 -3.0M342.5 220.0l2.0 -3.3M350.9 215.0l1.3 -2.8M402.9 265.0l1.3 -2.5M336.4 249.2l1.8 -3.4M358.8 201.9l0.9 -1.5M329.4 269.9l1.0 -3.3M346.6 258.1l2.3 -3.5M393.4 218.7l1.0 -3.7M322.5 275.1l2.0 -3.4M324.2 248.0l2.2 -3.5M398.5 262.0l2.1 -3.9M332.8 254.7l1.3 -1.7M329.3 222.7l1.3 -4.3M354.3 268.8l1.2 -3.7M398.8 217.8l1.0 -1.9M394.1 236.6l0.8 -1.4M396.7 257.7l1.7 -2.1M333.5 209.8l1.1 -2.1" stroke="rgb(84,84,84)" stroke-width="1.4" stroke-linecap="round" fill="none"/>
<path d="M326.1 232.8l1.8 -2.3M399.0 247.1l1.0 -2.7M393.2 272.5l2.1 -2.7M340.0 230.8l0.6 -2.3M331.6 215.5l2.2 -3.5M406.2 200.5l0.8 -1.6M388.2 269.3l1.1 -3.3M378.3 220.2l2.3 -2.8M351.6 234.8l1.0 -1.2M374.5 232.1l1.1 -1.6M324.5 242.3l1.5 -4.0M355.6 253.6l1.0 -1.8M367.5 225.2l1.7 -2.5M323.0 225.3l1.8 -2.1M394.9 241.6l1.1 -3.7M383.1 242.6l1.4 -2.2M366.6 242.1l1.3 -1.9M397.3 245.8l2.0 -3.3M376.3 248.7l0.9 -1.4M326.9 226.3l2.3 -3.1" stroke="rgb(84,84,84)" stroke-width="1.2" stroke-linecap="round" fill="none"/>
<path d="M377.6 206.9l1.3 -1.8M347.0 201.7l0.6 -1.7M371.6 244.5l0.7 -1.8M344.0 214.7l0.8 -1.7M359.6 237.8l1.2 -4.1M347.6 219.0l1.1 -2.0M372.1 253.6l1.2 -2.0M404.2 270.9l1.4 -3.6M394.5 241.3l1.3 -1.7M321.6 239.2l0.7 -2.1M408.3 214.1l2.4 -3.8M346.7 247.8l2.2 -3.7M384.4 267.4l1.0 -1.9M376.3 230.3l0.9 -2.3M400.2 250.9l0.5 -1.8M313.2 219.3l1.8 -2.9M341.8 250.9l1.0 -3.2" stroke="rgb(84,84,84)" stroke-width="1.0" stroke-linecap="round" fill="none"/>
<path d="M376.5 205.5l0.7 -1.8M364.2 213.8l1.7 -3.4M335.6 253.5l1.0 -3.9M349.7 226.5l2.1 -3.2M376.9 231.9l1.4 -2.1M340.8 206.5l2.0 -3.5M325.0 244.7l0.9 -1.9M405.0 206.8l1.8 -2.6M358.7 242.4l0.8 -2.1M371.2 276.0l1.5 -3.3M387.3 207.0l1.4 -3.7M366.8 245.4l1.3 -1.8M371.1 237.8l0.8 -2.5M409.0 275.2l1.5 -2.7M381.2 262.3l0.4 -1.5M344.5 261.3l1.2 -3.7M395.1 257.6l1.3 -1.7M343.1 214.3l1.3 -2.6M350.8 225.0l0.7 -2.1M401.4 227.8l1.5 -3.4M348.2 250.3l0.7 -1.7M397.4 207.1l1.1 -3.9" stroke="rgb(84,84,84)" stroke-width="1.6" stroke-linecap="round" fill="none"/>
<path d="M336.6 260.4l0.6 -1.6M329.8 270.1l0.6 -1.6M364.3 210.7l1.2 -2.1M329.3 270.2l0.7 -1.4M398.6 270.2l0.7 -2.4M380.7 212.5l2.2 -3.7M333.4 263.6l1.5 -3.4M381.3 207.8l2.2 -3.8M332.7 268.4l1.2 -1.5M318.9 275.3l1.6 -4.0M368.2 211.6l1.1 -3.5M345.7 274.5l1.0 -2.7" stroke="rgb(84,84,84)" stroke-width="0.8" stroke-linecap="round" fill="none"/>
<path d="M336.7 228.0l1.3 -2.3M348.7 259.4l0.3 -0.9M382.7 264.6l0.4 -1.2" stroke="rgb(108,108,108)" stroke-width="1.0" stroke-linecap="round" fill="none"/>
<path d="M376.9 211.0l0.8 -1.0" stroke="rgb(108,108,108)" stroke-width="0.8" stroke-linecap="round" fill="none"/>
<path d="M359.9 208.6l0.8 -1.5" stroke="rgb(108,108,108)" stroke-width="1.4" stroke-linecap="round" fill="none"/>
<path d="M391.4 222.1l0.7 -1.8" stroke="rgb(108,108,108)" stroke-width="1.2" stroke-linecap="round" fill="none"/>
<path d="M387.7 229.9l1.1 -2.0" stroke="rgb(108,108,108)" stroke-width="1.6" stroke-linecap="round" fill="none"/>
<path d="M369.5 263.2l1.0 -2.3M329.8 200.8l0.3 -0.7M409.7 207.7l0.3 -1.0M337.5 252.4l0.5 -1.3M318.9 228.2l0.5 -0.9M322.5 243.0l0.5 -0.9M388.5 223.8l0.3 -0.4M366.0 210.2l0.7 -1.8" stroke="rgb(120,120,120)" stroke-width="1.4" stroke-linecap="round" fill="none"/>
<path d="M364.8 273.9l0.4 -1.5M405.1 233.6l1.3 -2.2M329.6 269.6l1.2 -2.1M376.9 252.9l0.2 -0.6M369.4 247.3l0.9 -2.3M351.0 265.2l0.4 -1.1M338.3 273.2l0.2 -0.7" stroke="rgb(120,120,120)" stroke-width="1.2" stroke-linecap="round" fill="none"/>
<path d="M371.4 200.0l0.8 -1.1M366.4 224.9l0.8 -2.5M356.6 248.8l0.9 -2.2M405.1 203.1l0.7 -1.2" stroke="rgb(120,120,120)" stroke-width="1.6" stroke-linecap="round" fill="none"/>
<path d="M403.9 252.2l1.1 -1.9M368.2 267.7l0.8 -1.2M377.6 248.4l0.2 -0.6M399.7 239.2l0.4 -0.7M402.2 272.4l1.1 -1.9M365.5 243.6l0.7 -0.9M326.7 231.6l0.3 -0.8" stroke="rgb(120,120,120)" stroke-width="1.0" stroke-linecap="round" fill="none"/>
<path d="M376.2 242.8l1.1 -1.9" stroke="rgb(120,120,120)" stroke-width="0.8" stroke-linecap="round" fill="none"/>
<path d="M356.1 259.4l0.6 -0.9M345.3 219.1l1.3 -2.3M321.9 213.8l0.4 -1.0M381.8 245.8l0.7 -1.5M374.2 227.8l0.8 -1.0M406.2 232.5l0.5 -0.7M357.1 255.8l0.7 -2.0" stroke="rgb(132,132,132)" stroke-width="1.2" stroke-linecap="round" fill="none"/>
<path d="M377.2 245.8l0.6 -0.8M399.4 220.0l1.0 -1.7M343.6 253.2l0.3 -0.6M382.5 270.3l1.5 -2.0M358.2 260.8l0.8 -1.9M359.3 243.4l1.1 -2.5M336.2 229.5l0.5 -1.7M316.8 272.2l1.0 -1.6M372.9 203.2l0.6 -1.2M392.5 272.0l0.2 -0.8M326.8 201.0l0.6 -1.1" stroke="rgb(132,132,132)" stroke-width="1.0" stroke-linecap="round" fill="none"/>
<path d="M372.9 258.1l0.7 -1.7M362.4 232.4l0.4 -1.1M364.7 203.4l0.9 -1.4M379.7 231.3l1.1 -1.9M389.1 251.1l1.3 -2.3M352.2 238.8l1.2 -2.1" stroke="rgb(132,132,132)" stroke-width="1.4" stroke-linecap="round" fill="none"/>
<path d="M401.6 200.4l0.4 -0.5M390.7 205.6l0.8 -2.0M400.2 227.2l0.7 -1.7M318.9 220.6l0.9 -1.2" stroke="rgb(132,132,132)" stroke-width="1.6" stroke-linecap="round" fill="none"/>
<path d="M322.4 236.5l0.5 -0.7M371.5 203.2l0.6 -1.8" stroke="rgb(132,132,132)" stroke-width="0.8" stroke-linecap="round" fill="none"/>
<path d="M316.7 233.9l0.5 -0.7M382.0 239.6l0.4 -0.5M316.4 273.7l1.2 -2.0M335.0 258.0l0.7 -1.6" stroke="rgb(144,144,144)" stroke-width="1.4" stroke-linecap="round" fill="none"/>
<path d="M318.5 255.5l1.0 -2.4M375.5 223.5l0.3 -0.6M353.0 262.8l0.3 -0.4" stroke="rgb(144,144,144)" stroke-width="1.2" stroke-linecap="round" fill="none"/>
<path d="M328.5 269.7l0.3 -0.5M401.0 262.4l0.3 -0.7M352.7 238.9l0.6 -1.8" stroke="rgb(144,144,144)" stroke-width="0.8" stroke-linecap="round" fill="none"/>
<path d="M380.7 245.1l1.2 -1.5M401.5 222.1l0.7 -1.9M394.6 272.1l0.4 -1.2M403.5 201.7l1.0 -2.0" stroke="rgb(144,144,144)" stroke-width="1.0" stroke-linecap="round" fill="none"/>
<path d="M394.4 273.8l1.0 -1.9M333.5 246.0l1.3 -1.8M329.9 236.1l0.8 -1.0M371.8 270.3l1.2 -1.5" stroke="rgb(144,144,144)" stroke-width="1.6" stroke-linecap="round" fill="none"/>
<path d="M339.3 252.2l0.5 -0.7M368.5 240.4l0.9 -1.7" stroke="rgb(156,156,156)" stroke-width="1.6" stroke-linecap="round" fill="none"/>
<path d="M328.5 249.7l1.2 -1.5M394.4 207.8l0.5 -0.9M365.7 241.5l0.9 -1.9M336.6 269.2l1.3 -1.7M363.7 246.6l1.0 -1.3M318.0 201.1l1.4 -1.7M359.4 236.1l0.2 -0.6M363.4 201.8l0.5 -0.8" stroke="rgb(156,156,156)" stroke-width="1.0" stroke-linecap="round" fill="none"/>
<path d="M333.5 248.4l0.5 -1.3M356.0 257.4l0.5 -0.7M382.8 224.1l0.5 -1.2M342.4 268.0l0.6 -0.9M381.0 228.1l1.2 -2.1M322.3 222.6l0.9 -2.2M363.2 228.5l0.5 -1.1M340.9 207.6l0.6 -1.2M343.7 269.4l0.6 -0.9" stroke="rgb(156,156,156)" stroke-width="1.4" stroke-linecap="round" fill="none"/>
<path d="M369.4 253.5l0.4 -1.2M373.1 207.8l0.7 -1.4M401.6 270.6l0.9 -1.1M330.5 246.0l0.5 -1.5" stroke="rgb(156,156,156)" stroke-width="1.2" stroke-linecap="round" fill="none"/>
<path d="M399.6 251.7l1.3 -2.4M317.5 225.0l1.7 -2.1M339.1 235.7l0.4 -1.3M337.8 253.9l0.8 -1.7M401.6 245.5l0.7 -1.3" stroke="rgb(168,168,168)" stroke-width="1.4" stroke-linecap="round" fill="none"/>
<path d="M375.4 204.2l1.3 -2.1M336.1 264.6l0.7 -1.1M319.4 211.2l0.2 -0.5M403.0 213.0l1.4 -2.2" stroke="rgb(168,168,168)" stroke-width="1.2" stroke-linecap="round" fill="none"/>
<path d="M365.6 253.5l0.3 -0.6M374.6 269.1l0.8 -1.1" stroke="rgb(168,168,168)" stroke-width="0.8" stroke-linecap="round" fill="none"/>
<path d="M334.1 211.3l0.6 -1.5M407.1 250.2l0.9 -1.5M335.4 212.5l0.6 -1.7M319.3 225.4l0.7 -1.0" stroke="rgb(168,168,168)" stroke-width="1.0" stroke-linecap="round" fill="none"/>
<path d="M402.7 248.7l1.1 -2.3M402.4 202.6l1.1 -1.8M340.4 228.9l0.3 -0.7M363.0 236.0l0.8 -2.2M394.0 250.0l0.2 -0.5M409.0 203.7l0.2 -0.5" stroke="rgb(168,168,168)" stroke-width="1.6" stroke-linecap="round" fill="none"/>
<path d="M397.2 209.0l0.3 -0.4M357.8 241.6l0.6 -1.9M327.4 216.3l0.9 -1.3M341.2 253.0l1.2 -2.3M390.1 219.0l1.2 -1.5M366.4 274.0l1.7 -2.1M376.2 266.9l0.9 -1.6M375.2 202.5l0.8 -1.0" stroke="rgb(180,180,180)" stroke-width="1.2" stroke-linecap="round" fill="none"/>
<path d="M345.5 270.7l0.8 -2.1" stroke="rgb(180,180,180)" stroke-width="0.8" stroke-linecap="round" fill="none"/>
<path d="M393.9 238.4l1.0 -2.2M356.3 261.3l0.6 -0.8M327.5 208.8l0.3 -0.5M405.7 224.2l0.3 -0.8M368.6 224.5l0.5 -1.1" stroke="rgb(180,180,180)" stroke-width="1.6" stroke-linecap="round" fill="none"/>
<path d="M368.0 245.5l1.2 -1.7M339.1 228.0l0.4 -1.0M329.3 242.0l0.4 -0.9M403.7 243.4l0.9 -1.9" stroke="rgb(180,180,180)" stroke-width="1.0" stroke-linecap="round" fill="none"/>
<path d="M381.2 261.0l0.2 -0.7" stroke="rgb(180,180,180)" stroke-width="1.4" stroke-linecap="round" fill="none"/>
<path d="M350.0 262.7l0.3 -0.5M347.8 229.2l0.8 -1.3M331.8 204.3l1.4 -2.0" stroke="rgb(192,192,192)" stroke-width="1.0" stroke-linecap="round" fill="none"/>
<path d="M366.0 257.7l1.4 -1.9M404.8 268.8l0.4 -0.6M355.9 203.6l0.7 -1.3" stroke="rgb(192,192,192)" stroke-width="0.8" stroke-linecap="round" fill="none"/>
<path d="M350.7 203.2l0.4 -0.7M349.5 213.7l0.8 -1.6M398.5 247.1l1.6 -2.2M405.7 253.0l0.8 -1.6M393.3 265.2l0.7 -1.0M356.4 263.9l0.4 -1.1M398.3 252.9l1.4 -1.8M328.0 272.2l0.4 -1.1" stroke="rgb(192,192,192)" stroke-width="1.4" stroke-linecap="round" fill="none"/>
<path d="M347.4 253.0l1.0 -2.2M346.5 252.1l0.4 -1.3" stroke="rgb(192,192,192)" stroke-width="1.6" stroke-linecap="round" fill="none"/>
<path d="M408.8 228.3l0.7 -1.1M319.2 270.4l0.8 -2.0" stroke="rgb(192,192,192)" stroke-width="1.2" stroke-linecap="round" fill="none"/>
<path d="M338.8 207.6l0.5 -1.4M353.0 239.6l0.2 -0.6M371.7 243.5l0.5 -1.3" stroke="rgb(204,204,204)" stroke-width="0.8" stroke-linecap="round" fill="none"/>
<path d="M354.0 211.4l0.7 -0.9M363.1 236.5l0.3 -0.8M347.5 210.5l1.2 -1.7M406.1 225.9l0.5 -1.1" stroke="rgb(204,204,204)" stroke-width="1.6" stroke-linecap="round" fill="none"/>
<path d="M367.9 223.3l0.5 -1.5M359.8 265.7l0.3 -1.0M393.3 265.2l0.6 -1.4M409.3 209.2l0.9 -1.5M399.8 252.4l0.7 -1.6M357.3 237.8l0.3 -0.4M342.4 223.5l0.9 -1.2M385.1 268.3l0.3 -0.7" stroke="rgb(204,204,204)" stroke-width="1.0" stroke-linecap="round" fill="none"/>
<path d="M318.8 249.9l1.1 -2.2M374.2 212.2l0.6 -1.9M406.4 232.2l1.4 -1.8M321.1 244.7l0.4 -1.0M317.8 274.2l0.6 -0.8" stroke="rgb(204,204,204)" stroke-width="1.4" stroke-linecap="round" fill="none"/>
<path d="M360.0 244.6l0.7 -2.6M335.0 239.1l0.9 -1.2M372.4 212.6l0.6 -0.8M379.8 238.1l1.0 -1.2M321.0 239.3l0.8 -1.8M360.7 218.4l0.4 -1.4M323.6 242.6l0.3 -0.5M337.3 207.0l0.8 -1.4M320.8 220.1l0.6 -1.0M402.4 203.8l0.7 -1.5" stroke="rgb(204,204,204)" stroke-width="1.2" stroke-linecap="round" fill="none"/>
<path d="M409.6 251.9l1.1 -2.3M391.5 260.9l0.7 -1.0M326.3 214.1l0.9 -2.0M329.3 275.1l1.4 -2.1M400.8 239.6l1.1 -1.4M383.9 246.1l0.2 -0.6M383.5 259.6l1.3 -2.2M372.0 266.2l0.5 -0.8M325.2 268.6l1.0 -1.7" stroke="rgb(216,216,216)" stroke-width="1.2" stroke-linecap="round" fill="none"/>
<path d="M382.4 272.5l0.7 -2.2M359.8 258.9l0.3 -0.7M395.8 260.2l0.8 -1.9M362.2 211.8l0.9 -2.3" stroke="rgb(216,216,216)" stroke-width="0.8" stroke-linecap="round" fill="none"/>
<path d="M358.0 269.9l0.4 -1.1M394.6 208.5l1.3 -2.3M356.9 239.3l1.2 -1.6M399.7 273.1l0.9 -1.2" stroke="rgb(216,216,216)" stroke-width="1.0" stroke-linecap="round" fill="none"/>
<path d="M316.9 238.4l0.7 -1.5M387.5 246.6l0.8 -1.3M321.4 201.4l0.7 -0.9M379.8 256.7l1.0 -1.5M371.0 246.4l1.2 -1.7M345.2 215.7l1.1 -2.0M399.6 229.2l1.5 -2.2M339.3 230.1l0.4 -0.8" stroke="rgb(216,216,216)" stroke-width="1.4" stroke-linecap="round" fill="none"/>
<path d="M349.5 242.9l0.6 -0.7M359.3 272.4l1.0 -1.5" stroke="rgb(216,216,216)" stroke-width="1.6" stroke-linecap="round" fill="none"/>
<g filter="url(#bl2)">
<polygon points="384.7,199.1 390.5,199.1 392,207.4 395,211 400,211 402.5,207.4 410.3,204 410.3,250 405.6,245.7 401.4,237 397.3,232.5 392,226.3 380.5,220 374.3,214.8 375.3,207.4" fill="#f0f0f0"/>
<polygon points="314.1,225.5 324,226.5 340,227 340,234 334,236 334,246 326,250 314.1,250" fill="#f0f0f0"/>
<polygon points="331,274.6 333,258 340,255 350,257 354,262 356,274.6" fill="#f0f0f0"/>
<polygon points="314.1,199.1 317,199.1 317,226 314.1,226" fill="#f0f0f0"/>
<polygon points="401.4,216 404,214.5 410.3,216 410.3,234 407.7,232.5 403.5,226.3 401.4,220" fill="#2a2a2a"/>
<ellipse cx="399.5" cy="214.5" rx="1.6" ry="1.6" fill="rgb(45,45,45)" transform="rotate(0 399.5 214.5)"/>
<ellipse cx="318.0" cy="231.0" rx="1.6" ry="1.6" fill="rgb(45,45,45)" transform="rotate(0 318.0 231.0)"/>
<ellipse cx="325.8" cy="242.0" rx="2.0" ry="2.4" fill="rgb(45,45,45)" transform="rotate(0 325.8 242.0)"/>
<ellipse cx="331.0" cy="240.5" rx="1.5" ry="1.5" fill="rgb(45,45,45)" transform="rotate(0 331.0 240.5)"/>
<ellipse cx="340.0" cy="268.0" rx="2.0" ry="1.5" fill="rgb(45,45,45)" transform="rotate(0 340.0 268.0)"/>
<ellipse cx="347.0" cy="270.0" rx="2.0" ry="1.3" fill="rgb(45,45,45)" transform="rotate(0 347.0 270.0)"/>
</g>
<path d="M376.3 240.0l1.5 -1.3" stroke="rgb(180,180,180)" stroke-width="1.4" stroke-linecap="round" fill="none"/>
<path d="M363.2 249.2l0.8 -1.8" stroke="rgb(180,180,180)" stroke-width="2.0" stroke-linecap="round" fill="none"/>
<path d="M363.8 267.9l1.1 -1.3" stroke="rgb(180,180,180)" stroke-width="2.6" stroke-linecap="round" fill="none"/>
<path d="M367.2 260.0l0.8 -1.3M374.0 260.3l0.4 -0.4M369.5 242.8l1.4 -1.4" stroke="rgb(192,192,192)" stroke-width="1.8" stroke-linecap="round" fill="none"/>
<path d="M359.2 246.1l0.3 -0.5M377.8 241.0l0.4 -0.4" stroke="rgb(192,192,192)" stroke-width="1.4" stroke-linecap="round" fill="none"/>
<path d="M378.8 261.5l0.3 -0.4" stroke="rgb(192,192,192)" stroke-width="1.6" stroke-linecap="round" fill="none"/>
<path d="M369.7 267.4l0.9 -1.2" stroke="rgb(192,192,192)" stroke-width="2.0" stroke-linecap="round" fill="none"/>
<path d="M379.3 253.2l0.8 -1.2" stroke="rgb(204,204,204)" stroke-width="1.2" stroke-linecap="round" fill="none"/>
<path d="M378.1 246.1l1.0 -1.1M365.1 266.1l1.0 -1.5" stroke="rgb(204,204,204)" stroke-width="1.6" stroke-linecap="round" fill="none"/>
<path d="M375.4 246.4l0.8 -1.5" stroke="rgb(204,204,204)" stroke-width="2.0" stroke-linecap="round" fill="none"/>
<path d="M380.4 263.8l1.2 -1.6" stroke="rgb(204,204,204)" stroke-width="1.8" stroke-linecap="round" fill="none"/>
<path d="M376.8 262.8l0.9 -1.0" stroke="rgb(204,204,204)" stroke-width="2.2" stroke-linecap="round" fill="none"/>
<path d="M368.4 255.6l1.0 -1.5" stroke="rgb(216,216,216)" stroke-width="2.0" stroke-linecap="round" fill="none"/>
<path d="M358.9 253.3l0.5 -0.7" stroke="rgb(216,216,216)" stroke-width="2.6" stroke-linecap="round" fill="none"/>
<path d="M377.9 257.8l1.1 -1.4" stroke="rgb(216,216,216)" stroke-width="2.4" stroke-linecap="round" fill="none"/>
<path d="M363.8 249.3l0.9 -1.0" stroke="rgb(228,228,228)" stroke-width="1.8" stroke-linecap="round" fill="none"/>
<path d="M370.0 269.5l0.8 -1.3M380.0 257.3l1.1 -1.2M362.9 248.6l1.0 -1.6" stroke="rgb(228,228,228)" stroke-width="1.4" stroke-linecap="round" fill="none"/>
<path d="M372.5 268.5l0.8 -1.2" stroke="rgb(240,240,240)" stroke-width="2.2" stroke-linecap="round" fill="none"/>
<path d="M361.9 267.2l1.2 -1.0" stroke="rgb(240,240,240)" stroke-width="2.6" stroke-linecap="round" fill="none"/>
<path d="M376.3 257.5l0.9 -0.9" stroke="rgb(240,240,240)" stroke-width="2.0" stroke-linecap="round" fill="none"/>
<path d="M324.5 265.0h.01" stroke="rgb(180,180,180)" stroke-width="1.2" stroke-linecap="round" fill="none"/>
<path d="M327.7 252.3h.01" stroke="rgb(192,192,192)" stroke-width="1.8" stroke-linecap="round" fill="none"/>
<path d="M327.3 263.6h.01" stroke="rgb(192,192,192)" stroke-width="2.2" stroke-linecap="round" fill="none"/>
<path d="M323.5 266.4h.01" stroke="rgb(192,192,192)" stroke-width="2.4" stroke-linecap="round" fill="none"/>
<path d="M317.3 255.6h.01" stroke="rgb(192,192,192)" stroke-width="1.6" stroke-linecap="round" fill="none"/>
<path d="M321.9 257.9h.01" stroke="rgb(204,204,204)" stroke-width="2.2" stroke-linecap="round" fill="none"/>
<path d="M326.8 264.8h.01" stroke="rgb(204,204,204)" stroke-width="2.6" stroke-linecap="round" fill="none"/>
<path d="M325.2 252.8h.01" stroke="rgb(216,216,216)" stroke-width="1.2" stroke-linecap="round" fill="none"/>
<path d="M325.0 254.5h.01" stroke="rgb(216,216,216)" stroke-width="1.6" stroke-linecap="round" fill="none"/>
<path d="M321.9 259.0h.01M323.1 272.2h.01" stroke="rgb(228,228,228)" stroke-width="2.2" stroke-linecap="round" fill="none"/>
<path d="M316.2 258.3h.01" stroke="rgb(228,228,228)" stroke-width="1.4" stroke-linecap="round" fill="none"/>
</g></svg>
<svg x="214.5" y="284.8" width="95.7" height="74.8" viewBox="214.5 284.8 95.7 74.8" overflow="hidden">
<g filter="url(#bl)"><rect x="214.5" y="284.8" width="95.7" height="74.8" fill="#0c0c0c"/>
<path d="M302.3 297.0h.01M228.5 296.1h.01M295.2 354.0h.01M286.3 336.9h.01M309.0 323.8h.01M302.1 350.4h.01M252.2 321.9h.01M291.0 340.0h.01M269.1 319.9h.01M309.5 309.2h.01M229.3 316.9h.01M297.5 287.6h.01M250.4 293.1h.01M227.2 304.3h.01M268.2 329.9h.01M277.2 342.0h.01M299.1 332.8h.01M283.2 318.1h.01M270.7 348.4h.01" stroke="rgb(24,24,24)" stroke-width="1.6" stroke-linecap="round" fill="none"/>
<path d="M242.2 316.2h.01M238.3 311.2h.01M273.4 306.8h.01M235.5 342.0h.01M291.5 351.7h.01M237.9 335.9h.01M272.8 355.5h.01M292.6 328.8h.01M290.2 349.9h.01M299.2 325.6h.01M281.7 285.5h.01M239.4 312.4h.01M309.1 311.4h.01M266.8 309.5h.01M264.3 318.4h.01M302.4 337.5h.01M306.2 303.8h.01M290.9 335.5h.01M299.8 301.4h.01M276.8 288.8h.01M278.3 297.8h.01M264.8 322.3h.01M288.9 347.7h.01M270.6 314.8h.01M291.8 351.7h.01M240.1 321.3h.01M259.3 301.7h.01M261.5 285.6h.01M298.1 306.3h.01" stroke="rgb(24,24,24)" stroke-width="1.0" stroke-linecap="round" fill="none"/>
<path d="M261.1 332.1h.01M250.9 320.3h.01M255.6 295.2h.01M300.1 285.8h.01M215.0 287.5h.01M240.2 301.7h.01M270.8 319.3h.01M301.1 319.3h.01M293.3 305.9h.01M234.1 310.9h.01M218.4 336.5h.01M276.3 302.2h.01M247.5 311.6h.01M290.4 357.3h.01M272.1 335.8h.01" stroke="rgb(24,24,24)" stroke-width="1.8" stroke-linecap="round" fill="none"/>
<path d="M270.2 298.9h.01M262.0 330.1h.01M263.8 317.8h.01M223.0 354.6h.01M272.1 324.7h.01M277.3 303.5h.01M256.2 343.9h.01M226.8 317.8h.01" stroke="rgb(24,24,24)" stroke-width="0.8" stroke-linecap="round" fill="none"/>
<path d="M309.6 313.0h.01M249.9 328.2h.01M224.0 295.7h.01M229.0 290.9h.01M245.0 316.0h.01M221.3 319.5h.01M284.3 321.7h.01M262.3 290.7h.01M234.9 313.4h.01M215.8 353.5h.01M307.3 327.0h.01M273.1 338.6h.01M292.3 359.5h.01M274.6 290.4h.01M221.2 352.7h.01M307.6 326.7h.01M248.1 293.0h.01M215.5 335.8h.01M231.2 338.0h.01M261.8 289.7h.01M223.5 343.7h.01M290.6 323.9h.01M294.5 304.4h.01" stroke="rgb(24,24,24)" stroke-width="1.2" stroke-linecap="round" fill="none"/>
<path d="M235.7 328.7h.01M271.9 286.4h.01M230.6 342.2h.01M291.4 344.3h.01M309.7 309.0h.01M242.4 300.6h.01M225.9 288.2h.01M275.5 332.0h.01M233.3 307.3h.01M241.5 350.0h.01M236.1 299.9h.01M296.7 357.0h.01M239.4 306.3h.01M299.6 295.2h.01M238.8 286.3h.01M301.5 340.3h.01M292.6 319.8h.01M226.4 311.8h.01M267.0 307.8h.01M299.8 329.8h.01M302.6 338.7h.01M241.5 296.3h.01M229.3 344.9h.01M307.8 297.6h.01M261.1 311.8h.01M263.4 345.1h.01" stroke="rgb(24,24,24)" stroke-width="1.4" stroke-linecap="round" fill="none"/>
<path d="M217.8 309.4h.01M267.3 310.5h.01M268.0 313.8h.01M297.3 341.0h.01M297.1 343.7h.01M231.7 293.3h.01M306.7 321.7h.01M253.5 333.1h.01M302.4 336.8h.01M223.1 358.3h.01M244.1 321.1h.01M226.6 298.6h.01M225.4 321.9h.01M304.3 292.7h.01M215.0 291.5h.01M218.4 357.1h.01M257.8 306.8h.01M289.1 319.4h.01M263.4 285.0h.01M303.0 316.9h.01M227.6 345.3h.01M281.5 304.1h.01M307.0 294.9h.01M285.1 286.3h.01M260.0 320.2h.01M282.6 296.5h.01M245.8 317.3h.01M264.2 348.8h.01M223.1 328.9h.01M292.7 313.2h.01M273.0 341.3h.01M218.0 338.3h.01M264.0 341.0h.01M254.0 309.4h.01M263.2 308.1h.01M244.1 354.0h.01M296.0 314.0h.01M285.3 315.7h.01M245.4 350.9h.01M223.5 309.7h.01M222.5 322.1h.01M248.2 296.3h.01M298.6 350.0h.01M265.2 297.4h.01M271.1 306.9h.01M240.8 323.7h.01M298.4 294.1h.01M303.5 343.9h.01M240.5 314.5h.01M229.5 349.8h.01M265.7 330.3h.01M281.7 345.1h.01M247.3 300.4h.01M288.3 291.0h.01" stroke="rgb(36,36,36)" stroke-width="1.2" stroke-linecap="round" fill="none"/>
<path d="M250.4 303.3h.01M224.9 356.3h.01M244.0 316.0h.01M308.7 340.2h.01M236.5 352.0h.01M239.6 307.6h.01M227.1 286.9h.01M229.6 307.2h.01M296.6 310.6h.01M229.2 300.4h.01M285.2 359.3h.01M243.8 315.0h.01M226.8 353.1h.01M236.8 336.9h.01M258.5 340.1h.01M272.2 304.0h.01M248.4 338.4h.01M246.2 300.8h.01M251.9 331.0h.01M276.5 297.1h.01M296.1 314.6h.01M299.3 337.4h.01M299.4 352.5h.01M245.5 289.6h.01M218.1 312.0h.01M252.3 324.1h.01M253.2 302.8h.01M257.1 355.5h.01M233.7 316.9h.01M222.5 346.1h.01M248.8 288.7h.01" stroke="rgb(36,36,36)" stroke-width="1.6" stroke-linecap="round" fill="none"/>
<path d="M264.8 339.3h.01M281.5 325.1h.01M231.9 354.1h.01M255.2 299.8h.01M236.6 293.9h.01M265.5 288.6h.01M274.8 358.2h.01M301.6 329.7h.01M235.7 289.7h.01M224.5 347.1h.01M269.2 331.6h.01M252.8 335.8h.01M242.0 354.2h.01M266.1 304.7h.01M269.0 310.2h.01M303.7 285.1h.01M242.4 357.9h.01M272.8 354.8h.01M307.2 354.7h.01M255.9 315.3h.01M223.1 293.9h.01M218.8 317.8h.01M253.3 287.9h.01M285.8 292.2h.01" stroke="rgb(36,36,36)" stroke-width="0.8" stroke-linecap="round" fill="none"/>
<path d="M295.4 296.3h.01M273.6 333.1h.01M230.5 332.9h.01M262.3 337.3h.01M250.6 299.5h.01M296.0 303.0h.01M293.0 301.4h.01M250.2 326.9h.01M298.7 346.2h.01M275.0 349.3h.01M219.6 308.7h.01M230.7 347.3h.01M285.5 293.1h.01M218.9 346.8h.01M267.9 292.2h.01M227.9 286.4h.01M256.1 334.8h.01M283.8 285.0h.01M248.5 299.8h.01M308.5 306.8h.01M228.4 303.5h.01M241.4 319.6h.01M271.7 337.2h.01M297.3 289.6h.01M249.0 311.8h.01M228.7 311.1h.01M236.8 324.2h.01M248.3 357.5h.01M274.4 338.3h.01M310.1 356.1h.01M249.6 323.6h.01M268.4 306.7h.01M225.4 321.0h.01M254.2 290.0h.01M267.3 318.3h.01M217.2 325.9h.01M308.0 315.7h.01M218.0 311.0h.01M253.1 311.4h.01M282.3 310.4h.01M232.5 353.9h.01M308.5 308.1h.01M284.5 357.7h.01M295.4 313.5h.01" stroke="rgb(36,36,36)" stroke-width="1.4" stroke-linecap="round" fill="none"/>
<path d="M304.6 295.9h.01M260.4 304.2h.01M236.6 322.2h.01M240.6 297.6h.01M282.4 344.0h.01M298.0 342.0h.01M297.4 310.7h.01M287.7 318.0h.01M237.9 306.4h.01M305.8 297.7h.01M298.3 294.6h.01M225.7 298.3h.01M215.1 335.0h.01M277.7 311.9h.01M249.6 312.5h.01M275.9 349.3h.01M289.0 332.7h.01M308.0 324.3h.01M221.1 295.9h.01M247.9 346.5h.01M296.9 333.3h.01M255.1 318.9h.01M277.8 312.3h.01M231.6 303.8h.01M264.1 309.0h.01" stroke="rgb(36,36,36)" stroke-width="1.8" stroke-linecap="round" fill="none"/>
<path d="M300.2 323.2h.01M259.0 321.8h.01M283.1 330.2h.01M303.3 287.9h.01M252.5 331.0h.01M217.6 343.5h.01M302.4 331.2h.01M266.4 358.1h.01M236.1 332.5h.01M217.5 294.1h.01M268.8 319.9h.01M296.0 354.1h.01M231.6 302.5h.01M242.3 314.4h.01M248.7 309.7h.01M245.3 294.1h.01M300.6 316.1h.01M263.3 304.6h.01M284.0 318.3h.01M218.7 310.8h.01M286.6 300.9h.01M288.7 343.6h.01M217.6 348.1h.01M271.5 298.8h.01M266.2 341.2h.01M266.8 343.3h.01M259.8 288.5h.01M304.1 295.0h.01M300.4 298.3h.01M290.8 343.4h.01M259.7 316.0h.01M247.6 334.2h.01M242.4 353.7h.01M262.1 349.6h.01M266.8 287.7h.01M228.0 289.2h.01M258.2 353.7h.01M223.3 343.8h.01M243.2 295.1h.01M242.8 347.5h.01M218.4 313.4h.01M246.1 285.7h.01M219.4 329.7h.01" stroke="rgb(36,36,36)" stroke-width="1.0" stroke-linecap="round" fill="none"/>
<path d="M271.9 323.9h.01M231.3 323.9h.01M248.2 296.9h.01M301.6 302.7h.01M246.4 311.3h.01M226.5 351.7h.01M261.2 325.0h.01M215.8 305.1h.01M219.0 331.6h.01M287.9 355.9h.01M276.5 305.9h.01M264.7 347.0h.01M265.3 358.9h.01M283.6 321.5h.01M228.9 318.1h.01M244.9 314.0h.01M237.3 289.9h.01M251.8 291.0h.01M253.8 305.3h.01M288.4 343.1h.01M239.9 356.2h.01M289.1 329.7h.01M230.1 322.9h.01M277.7 333.4h.01M259.3 314.9h.01M266.7 344.4h.01M249.9 288.2h.01M285.3 353.3h.01M275.3 316.4h.01M294.3 315.2h.01M269.0 338.3h.01M256.6 286.4h.01M231.7 303.5h.01M256.0 315.7h.01M289.1 358.4h.01M215.9 290.1h.01M298.4 302.5h.01M261.5 350.6h.01M283.9 343.1h.01M247.0 296.6h.01M241.0 320.9h.01M250.7 286.2h.01M246.5 302.1h.01M299.6 285.0h.01M269.5 327.0h.01M220.4 332.3h.01M219.7 356.0h.01M279.9 287.9h.01M242.5 346.0h.01M227.8 291.3h.01M276.3 341.3h.01M293.4 302.4h.01M221.6 322.6h.01M285.6 323.0h.01M224.4 343.2h.01M217.7 338.4h.01" stroke="rgb(48,48,48)" stroke-width="1.4" stroke-linecap="round" fill="none"/>
<path d="M253.5 340.3h.01M223.6 291.8h.01M252.9 301.7h.01M249.2 294.6h.01M292.2 320.9h.01M254.5 328.0h.01M259.8 358.2h.01M283.4 317.8h.01M308.8 331.6h.01M229.3 316.0h.01M215.7 314.9h.01M217.0 308.4h.01M270.7 355.3h.01M302.2 333.5h.01M282.8 352.1h.01M254.7 302.6h.01M235.9 288.9h.01M256.4 326.8h.01M299.8 286.1h.01M268.7 307.3h.01M232.6 306.4h.01M273.5 286.4h.01M273.3 321.1h.01M222.1 299.8h.01M267.7 303.8h.01M257.2 340.4h.01M277.9 327.7h.01M307.4 355.1h.01M219.3 289.6h.01M226.8 302.6h.01M253.3 286.2h.01" stroke="rgb(48,48,48)" stroke-width="0.8" stroke-linecap="round" fill="none"/>
<path d="M226.5 338.3h.01M235.5 297.2h.01M250.2 330.0h.01M225.2 308.0h.01M290.4 341.2h.01M278.0 306.9h.01M225.2 323.0h.01M276.1 331.8h.01M306.1 302.3h.01M216.3 333.3h.01M247.8 318.0h.01M297.7 344.1h.01M293.9 293.0h.01M281.7 351.3h.01M301.4 301.1h.01M241.8 337.9h.01M249.7 325.7h.01M269.1 345.0h.01M264.1 333.1h.01M253.1 343.4h.01M260.5 342.3h.01M241.4 324.0h.01M251.9 323.9h.01M240.5 293.0h.01M246.2 292.7h.01M247.4 313.2h.01M223.7 344.8h.01M286.2 305.8h.01M271.1 336.5h.01M259.3 309.0h.01M259.6 337.4h.01M232.8 337.5h.01M259.2 342.6h.01M280.9 299.6h.01M218.2 297.2h.01M299.7 330.7h.01M276.5 324.7h.01M302.1 339.3h.01M226.0 315.1h.01M271.8 353.4h.01M289.0 301.4h.01M225.8 349.8h.01M273.4 309.8h.01M252.0 317.7h.01M274.2 335.8h.01M276.6 355.0h.01M238.1 306.7h.01M271.3 314.0h.01M278.4 352.1h.01M288.6 358.0h.01M218.8 289.5h.01M223.6 298.6h.01M244.0 328.3h.01M291.9 347.8h.01" stroke="rgb(48,48,48)" stroke-width="1.0" stroke-linecap="round" fill="none"/>
<path d="M215.1 308.2h.01M283.0 296.6h.01M241.4 297.8h.01M233.0 356.2h.01M290.0 309.9h.01M289.3 302.5h.01M231.9 356.6h.01M237.9 321.1h.01M236.0 289.1h.01M239.4 326.6h.01M253.8 346.6h.01M288.3 350.8h.01M278.1 286.8h.01M247.5 306.9h.01M277.1 324.8h.01M235.3 343.3h.01M257.7 353.2h.01M245.3 348.6h.01M291.6 351.1h.01M288.2 346.6h.01M260.6 347.3h.01M231.0 352.7h.01M248.6 295.0h.01M226.5 333.2h.01M247.3 346.9h.01M291.1 323.2h.01M279.3 324.7h.01M280.6 341.8h.01M277.1 294.8h.01M280.9 311.5h.01M222.4 358.4h.01M262.6 356.4h.01M288.9 336.6h.01M298.8 318.4h.01M263.0 319.8h.01M247.7 285.1h.01M237.6 286.0h.01M248.8 297.3h.01M247.5 285.1h.01M223.7 301.0h.01M299.7 296.3h.01M270.6 321.3h.01M308.6 300.1h.01M273.6 328.4h.01M260.3 340.4h.01M264.0 323.3h.01M281.3 315.5h.01M300.7 357.3h.01M228.5 337.7h.01M214.6 296.2h.01M228.4 356.4h.01M217.4 351.4h.01M288.2 352.2h.01M273.2 334.8h.01M283.2 326.5h.01M301.0 359.2h.01M255.9 318.2h.01M256.9 313.4h.01" stroke="rgb(48,48,48)" stroke-width="1.2" stroke-linecap="round" fill="none"/>
<path d="M249.8 320.6h.01M215.8 342.7h.01M277.1 326.6h.01M246.8 314.8h.01M263.9 291.4h.01M249.2 343.8h.01M233.8 355.2h.01M222.0 333.2h.01M243.9 317.4h.01M283.8 331.7h.01M291.6 299.5h.01M291.8 313.1h.01M259.3 298.7h.01M229.1 351.9h.01M232.2 289.6h.01M259.7 314.0h.01M275.4 359.6h.01M292.6 347.9h.01M274.7 306.1h.01M226.4 331.5h.01M257.5 320.4h.01M264.6 336.6h.01M240.4 339.6h.01M274.2 347.9h.01M264.3 317.7h.01M242.4 304.2h.01M250.4 306.1h.01M226.7 332.8h.01M259.2 321.8h.01M238.0 304.6h.01M229.3 354.0h.01M219.1 298.0h.01M299.0 331.8h.01M279.8 346.4h.01M299.3 314.0h.01M216.1 311.7h.01M228.1 285.1h.01M230.2 309.2h.01M303.1 324.1h.01M253.1 341.2h.01M270.7 293.8h.01M241.9 327.5h.01M234.6 297.5h.01M305.6 311.2h.01M245.1 308.6h.01M294.3 355.8h.01M256.8 328.0h.01M289.2 341.8h.01M240.8 313.6h.01M221.8 312.4h.01M271.2 316.4h.01M301.0 301.8h.01M246.3 321.2h.01M305.1 313.8h.01M219.1 306.2h.01M285.8 329.7h.01M287.2 306.4h.01M290.5 286.0h.01" stroke="rgb(48,48,48)" stroke-width="1.6" stroke-linecap="round" fill="none"/>
<path d="M259.4 343.9h.01M284.9 327.2h.01M220.8 285.1h.01M292.6 295.3h.01M308.0 309.0h.01M262.6 285.7h.01M280.5 326.7h.01M253.7 339.7h.01M298.0 325.2h.01M216.3 343.6h.01M289.2 299.9h.01M249.5 343.9h.01M293.1 300.2h.01M272.5 349.6h.01M272.6 326.4h.01M214.6 328.3h.01M244.4 305.8h.01M297.7 335.6h.01M220.1 301.4h.01M265.2 347.0h.01M305.6 289.6h.01M239.9 331.8h.01M222.7 319.1h.01" stroke="rgb(48,48,48)" stroke-width="1.8" stroke-linecap="round" fill="none"/>
<path d="M230.3 336.4h.01M244.2 337.1h.01M292.5 330.2h.01M218.4 311.2h.01M215.6 311.1h.01M218.6 343.8h.01M238.6 356.7h.01M227.8 353.0h.01M289.2 308.0h.01M301.2 295.7h.01M251.7 351.5h.01M222.9 357.2h.01M287.8 353.0h.01M271.1 346.8h.01M219.4 342.5h.01M271.2 293.1h.01M270.2 311.3h.01M260.0 287.1h.01M227.1 288.6h.01M289.3 316.6h.01M268.3 352.0h.01M278.2 345.4h.01M279.2 355.2h.01M281.3 320.7h.01M222.6 316.4h.01M233.9 353.6h.01M216.6 292.7h.01M251.2 296.8h.01M261.9 302.2h.01M288.1 341.4h.01M286.4 313.0h.01M249.4 329.4h.01M265.6 290.7h.01M265.9 304.1h.01M266.1 309.8h.01M221.6 310.9h.01M257.4 322.5h.01M222.5 350.7h.01M278.8 299.1h.01M284.6 345.5h.01M267.7 353.5h.01" stroke="rgb(60,60,60)" stroke-width="1.4" stroke-linecap="round" fill="none"/>
<path d="M259.9 356.8h.01M244.1 352.2h.01M229.1 296.3h.01M250.7 321.4h.01M302.2 306.7h.01M286.7 297.2h.01M294.4 358.1h.01M280.8 343.5h.01M259.7 323.4h.01M260.5 329.4h.01M243.8 338.6h.01M293.7 323.1h.01M255.0 344.0h.01M301.1 332.2h.01M287.1 293.5h.01M241.8 346.6h.01M284.2 319.6h.01M295.0 324.2h.01M274.1 286.3h.01M291.9 333.0h.01M222.0 296.3h.01M280.4 349.0h.01M267.6 326.0h.01M267.0 298.5h.01M277.3 292.0h.01M252.9 297.6h.01M287.8 321.1h.01M262.4 296.5h.01M272.3 348.7h.01M239.6 289.4h.01M252.6 287.2h.01M305.9 345.4h.01M221.5 290.0h.01M234.9 298.4h.01M249.9 355.0h.01M271.3 338.1h.01M224.8 333.5h.01M279.8 314.8h.01M231.6 308.1h.01M234.3 332.8h.01M301.8 288.9h.01M218.3 324.4h.01M243.8 289.9h.01M261.8 308.6h.01M297.4 346.0h.01M296.0 305.8h.01M248.0 291.0h.01" stroke="rgb(60,60,60)" stroke-width="1.0" stroke-linecap="round" fill="none"/>
<path d="M249.5 318.6h.01M262.2 307.7h.01M242.9 347.1h.01M280.6 331.8h.01M305.5 357.0h.01M230.9 328.3h.01M282.2 332.3h.01M219.1 287.6h.01M235.8 288.6h.01M287.0 326.0h.01M244.7 289.7h.01M264.9 309.6h.01M221.4 342.0h.01M236.5 356.9h.01M283.7 341.7h.01M251.7 356.1h.01M253.0 314.4h.01M247.5 303.0h.01M240.4 329.9h.01M301.6 302.0h.01M278.5 338.5h.01M278.0 311.3h.01M278.7 352.1h.01M228.9 306.1h.01M295.9 295.8h.01M278.1 351.0h.01M296.3 307.1h.01M253.5 352.1h.01M301.9 346.6h.01M296.4 285.7h.01M289.4 333.0h.01M237.9 289.5h.01M235.4 292.5h.01M226.5 345.8h.01M308.6 346.5h.01M236.6 354.2h.01M267.0 312.2h.01M295.7 320.5h.01M292.3 293.5h.01M308.9 302.6h.01M264.0 304.5h.01M276.2 335.0h.01M303.5 336.9h.01M247.8 302.0h.01M250.3 337.3h.01M236.4 346.2h.01M259.3 315.3h.01M255.0 337.6h.01M238.0 328.6h.01" stroke="rgb(60,60,60)" stroke-width="1.2" stroke-linecap="round" fill="none"/>
<path d="M223.4 338.5h.01M229.6 292.6h.01M286.1 298.4h.01M250.9 321.2h.01M253.0 341.0h.01M274.7 324.4h.01M284.1 320.8h.01M305.3 319.4h.01M220.5 304.7h.01M215.6 335.8h.01M292.9 310.9h.01M303.8 308.8h.01M262.0 343.6h.01M293.4 353.3h.01M280.7 358.6h.01M290.3 310.2h.01M238.0 288.0h.01M305.9 350.6h.01M229.8 316.7h.01M253.9 348.3h.01M241.6 340.2h.01M257.5 350.6h.01" stroke="rgb(60,60,60)" stroke-width="1.8" stroke-linecap="round" fill="none"/>
<path d="M229.2 312.4h.01M305.1 335.7h.01M249.5 310.7h.01M222.6 356.4h.01M301.5 342.5h.01M226.4 300.9h.01M272.3 310.5h.01M233.7 314.0h.01M261.8 325.4h.01M294.6 336.8h.01M277.4 314.7h.01M282.6 296.3h.01M303.7 291.4h.01M263.6 349.6h.01M280.3 358.6h.01M222.0 311.7h.01M246.5 313.4h.01M309.8 287.9h.01M290.5 297.9h.01M247.8 341.4h.01M305.5 320.5h.01M225.9 327.4h.01M294.3 303.3h.01M247.0 348.4h.01M274.6 326.3h.01M217.8 299.0h.01M301.4 303.1h.01M301.2 285.8h.01M248.0 317.2h.01M303.8 287.2h.01M229.6 293.2h.01M224.2 291.9h.01M277.3 309.6h.01M281.9 288.4h.01M293.7 351.9h.01M258.5 321.5h.01M222.5 352.7h.01M248.8 300.0h.01M293.7 295.1h.01M277.6 302.4h.01M287.0 349.9h.01M307.6 341.0h.01M248.2 348.5h.01M251.8 306.7h.01" stroke="rgb(60,60,60)" stroke-width="1.6" stroke-linecap="round" fill="none"/>
<path d="M269.3 325.6h.01M263.9 352.1h.01M281.0 354.0h.01M307.0 318.3h.01M287.4 318.6h.01M249.7 293.6h.01M309.9 315.9h.01M306.3 320.8h.01M256.2 344.7h.01M300.2 349.8h.01M266.9 350.9h.01M307.8 342.7h.01M230.9 309.9h.01M283.6 333.1h.01M265.8 295.9h.01M241.9 321.9h.01M219.5 320.3h.01M242.4 352.3h.01M276.1 308.7h.01M235.9 321.2h.01" stroke="rgb(60,60,60)" stroke-width="0.8" stroke-linecap="round" fill="none"/>
<path d="M250.0 328.6h.01M216.7 340.2h.01M215.2 319.5h.01M245.7 299.9h.01M298.8 333.8h.01M279.3 352.6h.01M265.0 352.5h.01M309.6 297.5h.01M276.7 284.9h.01M303.1 286.3h.01M216.5 304.8h.01M305.2 325.0h.01M293.8 296.1h.01M281.5 312.6h.01M280.2 352.9h.01M305.6 330.0h.01M237.5 334.5h.01M292.9 286.2h.01M249.5 357.8h.01M269.2 324.4h.01M233.6 323.0h.01M300.7 330.1h.01M217.2 355.1h.01M218.5 294.2h.01M295.0 333.0h.01M240.5 349.1h.01M243.8 320.1h.01M218.2 353.6h.01M255.5 306.7h.01M267.1 331.2h.01M259.2 323.6h.01M257.4 331.9h.01M242.4 334.3h.01M245.1 349.3h.01M232.3 309.1h.01M259.7 347.5h.01M271.9 296.5h.01" stroke="rgb(72,72,72)" stroke-width="0.8" stroke-linecap="round" fill="none"/>
<path d="M280.9 317.5h.01M256.2 347.1h.01M251.7 322.7h.01M254.1 358.2h.01M230.5 288.5h.01M302.3 315.6h.01M291.3 294.0h.01M267.7 289.1h.01M256.6 353.5h.01M276.0 345.3h.01M299.8 323.1h.01M220.9 310.8h.01M282.9 305.8h.01M240.9 327.2h.01M243.2 313.1h.01M261.0 300.5h.01M291.6 294.0h.01M224.9 344.5h.01M225.7 322.2h.01M249.9 330.6h.01M223.5 328.7h.01M251.0 323.9h.01M237.5 320.3h.01M255.6 347.4h.01M229.9 339.2h.01M300.8 297.7h.01M252.7 291.5h.01M308.6 307.9h.01M251.0 313.7h.01M253.4 297.0h.01M285.0 285.8h.01M230.6 307.1h.01M257.8 329.7h.01M298.5 292.6h.01M261.4 346.7h.01M276.4 321.3h.01M244.6 348.3h.01" stroke="rgb(72,72,72)" stroke-width="1.8" stroke-linecap="round" fill="none"/>
<path d="M293.0 290.4h.01M244.0 324.8h.01M244.0 332.2h.01M295.2 306.0h.01M274.4 305.2h.01M275.0 346.0h.01M230.5 325.8h.01M291.3 313.5h.01M221.7 348.3h.01M284.1 310.6h.01M257.2 327.0h.01M215.4 344.2h.01M224.0 323.8h.01M285.7 322.0h.01M271.6 310.3h.01M289.6 351.4h.01M299.7 329.2h.01M293.2 353.4h.01M265.4 300.1h.01M288.8 345.9h.01M231.6 315.2h.01M281.3 286.0h.01M296.4 331.7h.01M303.1 302.3h.01M262.7 351.9h.01M218.6 320.5h.01M220.0 318.4h.01M275.9 340.9h.01M306.3 355.5h.01M286.5 340.2h.01M223.4 331.8h.01M310.2 286.9h.01M215.0 319.2h.01M241.8 348.2h.01M250.0 290.9h.01M222.7 341.7h.01M279.3 334.4h.01M275.8 290.9h.01M218.8 324.2h.01M271.7 349.0h.01M304.6 357.1h.01M239.0 301.2h.01M225.3 291.1h.01M246.6 344.1h.01M280.4 286.7h.01M283.8 348.5h.01M228.9 305.3h.01M288.5 343.4h.01M309.6 300.2h.01M223.7 336.5h.01M276.0 285.0h.01M258.2 353.4h.01" stroke="rgb(72,72,72)" stroke-width="1.0" stroke-linecap="round" fill="none"/>
<path d="M286.7 341.9h.01M287.0 330.0h.01M236.8 356.9h.01M278.4 349.0h.01M262.5 287.7h.01M221.3 289.9h.01M239.9 310.9h.01M280.1 308.4h.01M230.4 298.7h.01M308.1 304.2h.01M290.5 347.2h.01M234.0 318.0h.01M232.2 319.1h.01M270.0 353.1h.01M257.0 298.0h.01M284.1 340.1h.01M275.1 307.3h.01M268.4 299.6h.01M273.8 287.3h.01M259.0 303.8h.01M223.4 295.3h.01M246.9 294.3h.01M218.7 335.6h.01M255.7 314.8h.01M236.5 297.5h.01M216.6 319.0h.01M299.6 305.5h.01M286.1 295.1h.01M303.2 293.8h.01M299.0 301.4h.01M297.8 284.8h.01M232.6 315.8h.01M215.9 304.2h.01M305.3 299.6h.01M281.2 314.0h.01M243.4 341.0h.01M280.2 296.0h.01M224.8 293.6h.01M250.5 347.3h.01M254.8 335.8h.01M252.4 348.0h.01M261.1 346.4h.01M222.0 330.7h.01M223.6 300.0h.01M276.2 314.3h.01M234.6 328.3h.01M262.6 285.3h.01M228.2 301.5h.01M263.4 324.6h.01M291.3 334.9h.01M225.8 318.1h.01M216.1 309.8h.01M282.9 309.7h.01M309.6 312.0h.01M289.8 308.8h.01M233.5 302.2h.01" stroke="rgb(72,72,72)" stroke-width="1.4" stroke-linecap="round" fill="none"/>
<path d="M270.4 304.0h.01M270.9 315.1h.01M235.3 336.1h.01M265.3 297.1h.01M309.9 309.3h.01M238.7 301.0h.01M240.5 344.3h.01M267.3 328.9h.01M263.7 307.0h.01M293.3 315.8h.01M241.8 298.3h.01M276.6 291.3h.01M276.0 319.0h.01M302.9 298.0h.01M306.7 331.7h.01M226.0 318.6h.01M259.9 346.7h.01M219.9 289.9h.01M276.4 322.9h.01M262.0 296.5h.01M270.6 299.8h.01M286.8 286.3h.01M258.0 300.2h.01M294.9 316.8h.01M306.9 337.6h.01M226.1 330.7h.01M256.1 287.3h.01M246.0 322.8h.01M216.1 352.2h.01M261.3 290.3h.01M222.0 287.6h.01M222.8 292.5h.01M267.8 285.9h.01M217.3 324.4h.01M292.6 285.1h.01M247.4 358.1h.01M214.9 289.3h.01M216.6 313.9h.01M290.7 302.4h.01M225.0 354.9h.01M274.5 320.5h.01M249.3 353.3h.01M298.8 346.0h.01M267.1 340.8h.01M267.9 292.7h.01M294.6 336.5h.01M236.6 327.6h.01M249.5 306.5h.01M228.7 314.0h.01M267.6 305.9h.01M296.9 357.3h.01M235.5 344.5h.01M303.3 295.2h.01M304.1 326.3h.01M224.8 296.8h.01M236.1 290.5h.01" stroke="rgb(72,72,72)" stroke-width="1.2" stroke-linecap="round" fill="none"/>
<path d="M221.8 290.3h.01M249.9 294.9h.01M310.0 326.3h.01M292.6 341.8h.01M222.2 348.5h.01M306.9 286.0h.01M303.1 328.5h.01M269.2 311.7h.01M283.9 310.9h.01M253.8 308.9h.01M251.0 290.1h.01M296.0 308.7h.01M228.1 299.6h.01M278.6 350.6h.01M259.9 303.6h.01M219.9 331.2h.01M267.9 349.0h.01M290.8 353.7h.01M216.9 297.0h.01M306.2 317.5h.01M268.2 302.7h.01M227.4 300.2h.01M246.4 316.4h.01M249.4 289.0h.01M248.4 349.6h.01M216.3 315.2h.01M290.4 292.2h.01M247.5 329.2h.01M257.4 328.9h.01M225.9 311.2h.01M242.0 335.3h.01M229.8 287.1h.01M214.5 314.7h.01M305.6 290.9h.01M236.3 337.3h.01M300.0 332.3h.01M271.9 326.3h.01M243.7 293.2h.01M266.2 316.2h.01M228.0 350.6h.01M295.3 305.5h.01M303.7 307.5h.01M286.8 336.4h.01M302.0 305.5h.01M226.7 291.5h.01M265.8 290.3h.01M278.5 340.4h.01M276.4 321.5h.01M248.7 346.1h.01M238.7 302.0h.01M245.3 353.2h.01M231.2 313.7h.01M257.7 352.4h.01M275.8 353.2h.01M237.1 344.7h.01M232.9 329.6h.01M264.6 316.0h.01M226.4 341.6h.01M303.2 357.5h.01M297.7 320.2h.01M233.2 313.3h.01M242.9 354.4h.01M243.7 321.9h.01M226.4 351.1h.01M308.6 340.0h.01M303.9 350.7h.01" stroke="rgb(72,72,72)" stroke-width="1.6" stroke-linecap="round" fill="none"/>
<path d="M231.8 297.5h.01M225.9 305.8h.01M215.4 307.4h.01M298.3 348.7h.01M257.1 312.2h.01M291.8 315.1h.01M274.6 355.4h.01M237.8 299.3h.01M246.7 303.3h.01M285.1 334.2h.01M266.8 347.9h.01M299.3 350.3h.01M268.3 323.8h.01M238.3 337.7h.01M290.0 346.4h.01M232.4 297.5h.01M245.4 293.0h.01M234.4 351.6h.01M269.0 344.1h.01M261.8 354.6h.01M273.5 340.2h.01M238.0 334.9h.01M243.1 337.6h.01M282.2 285.6h.01M233.9 288.1h.01M214.9 328.4h.01M262.3 341.4h.01M272.4 356.1h.01" stroke="rgb(84,84,84)" stroke-width="1.2" stroke-linecap="round" fill="none"/>
<path d="M303.5 303.2h.01M270.6 317.6h.01M234.3 346.1h.01M308.2 316.7h.01M241.8 312.7h.01M305.2 292.8h.01M309.1 285.6h.01M272.6 319.1h.01M273.5 311.4h.01M281.1 308.9h.01M238.5 315.3h.01M270.0 356.7h.01M215.4 328.8h.01M248.4 343.3h.01M251.2 294.0h.01M257.5 285.6h.01M257.2 348.5h.01M225.3 304.9h.01M272.2 352.6h.01M217.8 286.2h.01M300.3 286.5h.01M260.1 335.7h.01M283.8 347.2h.01M280.7 343.7h.01M303.8 311.1h.01M274.0 333.9h.01M233.5 346.6h.01M225.1 335.9h.01M283.0 302.8h.01M289.3 289.5h.01M293.5 314.0h.01M303.2 351.1h.01" stroke="rgb(84,84,84)" stroke-width="1.0" stroke-linecap="round" fill="none"/>
<path d="M250.4 335.9h.01M235.1 311.0h.01M232.4 296.1h.01M231.1 327.7h.01M296.5 321.6h.01M273.1 294.8h.01M260.9 338.2h.01M248.6 297.8h.01M267.0 306.5h.01M258.7 312.1h.01M261.8 323.8h.01M275.7 314.7h.01M271.9 328.8h.01M259.8 354.2h.01M273.5 340.8h.01M274.6 328.5h.01M225.0 292.2h.01M275.1 305.7h.01M302.2 336.2h.01M256.9 326.9h.01M248.3 344.9h.01M225.1 337.9h.01M276.5 333.6h.01M241.6 347.3h.01M275.6 286.1h.01M250.0 324.8h.01M236.9 352.8h.01M278.1 309.6h.01M269.2 318.5h.01M260.9 287.5h.01" stroke="rgb(84,84,84)" stroke-width="1.4" stroke-linecap="round" fill="none"/>
<path d="M279.5 301.1h.01M237.9 317.1h.01M295.5 299.0h.01M260.4 309.4h.01M256.1 351.6h.01M277.1 350.2h.01M248.7 320.4h.01M304.4 324.5h.01M284.7 285.9h.01M237.4 328.8h.01M292.4 312.5h.01M225.8 293.0h.01M239.7 329.9h.01M244.7 303.1h.01M307.4 328.0h.01M278.3 294.8h.01M246.7 289.2h.01M232.0 324.6h.01M223.3 299.1h.01M229.7 333.4h.01M297.1 357.3h.01M295.2 351.3h.01M272.5 355.1h.01M248.2 313.7h.01M217.1 291.6h.01M282.1 313.0h.01M272.5 337.2h.01M272.4 348.2h.01M295.4 308.1h.01M264.3 306.8h.01M265.7 299.4h.01M225.0 287.2h.01" stroke="rgb(84,84,84)" stroke-width="1.6" stroke-linecap="round" fill="none"/>
<path d="M298.2 359.3h.01M287.6 301.6h.01M285.6 305.2h.01M235.9 312.9h.01M238.1 338.4h.01M267.7 349.8h.01M267.9 330.0h.01M296.7 331.8h.01M243.4 336.8h.01M217.5 311.7h.01M248.8 340.2h.01M240.6 317.9h.01M296.2 317.9h.01M227.2 320.2h.01M238.5 342.1h.01M229.0 320.6h.01" stroke="rgb(84,84,84)" stroke-width="0.8" stroke-linecap="round" fill="none"/>
<path d="M240.4 346.2h.01M221.7 336.0h.01M248.8 301.3h.01M277.6 321.4h.01M278.9 347.1h.01M275.0 357.1h.01M271.6 344.3h.01M303.2 301.4h.01M308.6 307.2h.01M236.6 301.0h.01M295.5 346.0h.01M284.2 352.7h.01M225.5 330.6h.01M292.0 295.6h.01" stroke="rgb(84,84,84)" stroke-width="1.8" stroke-linecap="round" fill="none"/>
<path d="M244.8 290.1l-0.1 0.3M278.1 328.6l0.1 0.4M216.7 290.3l-0.4 0.8M272.9 336.8h.01M296.1 344.8l0.5 1.1M217.8 342.8l-0.3 0.6M234.0 306.6l-0.0 0.1M259.9 292.9l0.0 0.2M225.6 348.5l0.2 1.0M235.4 305.2l0.1 0.7M282.9 289.3l-0.0 0.5M296.8 340.6l-0.3 1.0M247.9 314.7l-0.1 0.2M257.8 336.7l-0.0 0.8M310.1 300.5h.01" stroke="rgb(144,144,144)" stroke-width="1.4" stroke-linecap="round" fill="none"/>
<path d="M281.2 292.2l-0.0 0.1M309.4 307.1l-0.2 0.8M310.0 357.2l0.1 0.3M257.1 295.2l-0.4 0.9M276.9 329.0l0.0 1.0M288.1 350.9l-0.1 0.2M289.4 315.5h.01M306.8 316.8l-0.1 1.1M265.3 357.1l0.0 0.1M234.0 310.5l-0.2 0.7" stroke="rgb(144,144,144)" stroke-width="1.2" stroke-linecap="round" fill="none"/>
<path d="M249.2 289.6l-0.3 0.6M237.9 305.8l0.2 0.8" stroke="rgb(144,144,144)" stroke-width="1.8" stroke-linecap="round" fill="none"/>
<path d="M282.8 311.4l0.0 0.7M297.9 297.7l-0.1 0.9M275.5 291.2l0.1 0.4M244.7 288.5l0.2 0.6M265.3 290.3l-0.0 0.1M233.2 316.6l0.5 0.9M279.6 354.8l0.6 1.0M284.3 323.0l0.1 0.6M290.6 346.6l0.1 0.3M230.6 332.1l-0.2 0.4M265.6 285.0l0.1 0.3" stroke="rgb(144,144,144)" stroke-width="1.0" stroke-linecap="round" fill="none"/>
<path d="M248.4 295.5l0.1 0.6M283.4 341.4l-0.1 0.4M219.7 338.0l-0.1 0.3M245.8 296.5l-0.0 1.0M247.0 327.9l0.2 0.8M302.2 341.4l0.1 0.3M261.3 336.9l0.2 0.5M301.5 357.2l0.0 0.8M303.9 291.6l-0.2 0.5M287.4 292.4l0.4 0.6M229.3 315.8l0.1 0.9M283.6 327.4l-0.0 0.8" stroke="rgb(144,144,144)" stroke-width="1.6" stroke-linecap="round" fill="none"/>
<path d="M261.8 352.2l-0.3 0.6M223.8 327.8l-0.1 1.1M259.8 324.9l-0.0 0.3M305.0 304.7l-0.2 0.6M240.1 306.1l-0.0 0.1M266.2 343.8h.01M302.0 352.1l0.2 0.6M306.8 353.4l-0.1 1.2M243.3 325.8l-0.0 1.1M238.5 297.5l0.4 0.8M295.5 291.5l0.3 0.6M233.7 328.0l0.1 0.9M228.7 323.4l-0.0 0.5M224.3 356.9l-0.0 0.1M274.0 295.2l0.1 0.1M244.4 304.4l-0.1 0.6M279.9 312.8l0.1 0.3" stroke="rgb(156,156,156)" stroke-width="1.4" stroke-linecap="round" fill="none"/>
<path d="M253.1 348.2l0.1 0.4M295.3 288.9l-0.1 0.5M215.0 319.1l-0.1 0.7M240.1 308.7l-0.4 0.7M241.1 331.7l-0.3 1.0M221.4 320.5l0.1 0.2M224.2 328.1l-0.1 0.3M306.3 338.8l0.1 0.4M285.4 297.5l0.1 0.4M243.0 343.2l0.1 0.4M297.0 353.9l-0.0 0.2M255.3 316.3l0.2 0.6M291.6 343.9l-0.1 0.5M231.9 311.8l0.1 0.2M271.0 314.2l0.0 0.5M292.5 296.4l0.3 0.6M282.8 345.3l-0.1 0.9" stroke="rgb(156,156,156)" stroke-width="1.0" stroke-linecap="round" fill="none"/>
<path d="M285.5 306.4l-0.0 0.1M275.2 306.9l0.2 1.0M278.0 327.8l-0.1 0.3M257.3 301.6l-0.2 1.1M266.8 320.6l0.3 0.5M287.3 353.3l0.3 0.6M308.0 320.6l0.3 0.7M271.6 355.5l0.2 0.9M284.6 298.0l-0.3 0.6M282.9 318.9l-0.2 0.7M233.4 288.3l0.0 0.2M272.0 295.4l0.1 0.7" stroke="rgb(156,156,156)" stroke-width="1.6" stroke-linecap="round" fill="none"/>
<path d="M225.8 334.2l0.0 0.2M286.1 358.8l0.2 0.6M247.9 292.0l0.0 1.1M255.8 332.5l-0.2 0.7M308.8 297.6l0.4 1.0M242.0 301.0l0.1 0.8M282.2 312.1l0.0 0.8M215.8 341.2l-0.2 0.4" stroke="rgb(156,156,156)" stroke-width="1.2" stroke-linecap="round" fill="none"/>
<path d="M218.8 348.1l0.0 1.0M277.1 299.3l0.3 0.7M295.6 345.7l0.1 1.0M301.1 343.8l0.1 0.8M303.9 332.4l0.1 0.5M277.6 341.5h.01M307.4 286.7l-0.2 0.7" stroke="rgb(156,156,156)" stroke-width="1.8" stroke-linecap="round" fill="none"/>
<path d="M292.9 342.4l-0.1 0.2M214.8 349.5l-0.3 0.5M266.6 313.4l-0.2 0.7M299.0 355.3l-0.5 1.0M298.3 339.6l0.2 0.9M306.0 330.4l-0.1 0.2M281.1 286.5l-0.2 0.5M229.4 298.9l-0.3 0.9M270.4 355.8l-0.2 0.5M307.8 348.1l0.0 0.1M261.7 306.9l-0.2 0.9M245.0 292.8l0.2 0.4M241.6 305.5l0.2 0.5M247.8 305.8l0.0 0.1M246.8 327.6l0.0 0.9M260.9 346.6l0.1 1.1M276.5 355.6l0.4 0.9M287.2 286.6l-0.3 0.5M245.6 313.4l-0.3 0.9M246.4 335.4l0.3 0.6" stroke="rgb(168,168,168)" stroke-width="1.0" stroke-linecap="round" fill="none"/>
<path d="M309.1 310.2l-0.4 0.7M285.1 319.0l-0.2 0.6M292.0 344.4l-0.0 0.4M273.4 308.2l-0.2 0.8M284.1 296.4l-0.0 0.1M309.4 355.3l0.1 0.9M257.5 321.9l0.0 1.2M259.1 339.3l0.1 0.6M218.8 291.3l0.1 1.0M245.5 320.0l0.4 0.9M244.0 348.4l-0.1 0.2M223.9 342.2l0.4 0.7" stroke="rgb(168,168,168)" stroke-width="1.4" stroke-linecap="round" fill="none"/>
<path d="M243.9 331.7l-0.2 0.9M268.3 308.8l-0.4 0.8M239.3 355.6h.01M263.9 305.1l0.5 1.0M256.0 344.0l-0.0 0.7M218.1 289.1l-0.0 0.2M252.4 287.0l0.0 0.9M217.1 313.2l0.1 0.3" stroke="rgb(168,168,168)" stroke-width="1.2" stroke-linecap="round" fill="none"/>
<path d="M265.8 355.3l-0.1 0.9M279.9 323.9l-0.5 0.9M270.7 345.8l-0.3 0.7M267.7 350.3l0.3 0.6M238.1 327.6l-0.0 0.4M215.3 298.7l0.1 0.2M267.1 298.9l0.0 0.1M234.6 353.9l0.1 0.4M260.5 347.3l-0.1 0.7M278.2 356.3l-0.4 0.9M250.7 296.1l-0.0 0.2M254.2 312.7l0.3 0.8M301.6 317.2l0.5 1.1M284.6 322.4l-0.5 1.1M225.9 330.5l0.1 0.7M285.1 291.9l-0.3 0.6M253.1 350.3l0.0 0.2M225.7 336.5l0.1 0.6M221.1 333.6l-0.0 0.8M257.5 352.5l0.6 1.1M307.7 338.8l-0.0 0.2" stroke="rgb(168,168,168)" stroke-width="1.6" stroke-linecap="round" fill="none"/>
<path d="M289.5 321.1l0.1 0.3M299.9 294.3l-0.0 0.2" stroke="rgb(168,168,168)" stroke-width="1.8" stroke-linecap="round" fill="none"/>
<path d="M216.3 312.4l0.1 0.2M249.3 359.1l-0.0 0.3M256.0 297.4l-0.2 0.4M287.0 346.0l-0.0 0.2M263.6 310.4l-0.2 0.5M261.5 318.9l0.2 0.4M275.4 301.9l0.0 0.1M302.2 285.6l-0.1 0.3M232.5 350.0l0.3 0.6M294.2 291.1l0.2 0.3M265.8 307.7l-0.0 0.1M221.3 293.0l-0.3 1.1M220.5 308.9l0.4 0.6M268.9 331.3l-0.1 0.3M231.1 300.3l-0.0 0.5M237.6 352.8l-0.5 1.1" stroke="rgb(180,180,180)" stroke-width="1.6" stroke-linecap="round" fill="none"/>
<path d="M261.6 334.2l0.0 0.7M259.1 293.9l0.0 1.0M299.9 292.6l0.0 0.4M283.5 293.7l0.2 1.0M214.7 309.7l0.1 0.8M308.4 341.2l0.2 1.0M274.2 322.7l-0.0 0.9M270.7 346.0l0.1 0.3M232.0 303.4l0.0 0.1M247.9 307.8l-0.1 0.8M278.0 353.6l0.1 0.5M233.2 341.6l-0.2 0.8M229.4 332.3l-0.0 0.5" stroke="rgb(180,180,180)" stroke-width="1.0" stroke-linecap="round" fill="none"/>
<path d="M223.9 286.6l0.1 0.7M215.1 284.3l-0.2 1.1M245.1 346.4l-0.2 0.6M253.0 313.0l0.1 0.7M271.8 342.1l0.0 0.5M274.2 331.3h.01" stroke="rgb(180,180,180)" stroke-width="1.8" stroke-linecap="round" fill="none"/>
<path d="M281.8 331.0l-0.5 1.0M236.2 356.3l-0.2 0.6M262.2 358.8h.01M231.1 329.0l-0.1 0.7M288.6 334.8l0.3 0.9" stroke="rgb(180,180,180)" stroke-width="1.4" stroke-linecap="round" fill="none"/>
<path d="M247.1 301.1l-0.4 0.9M222.4 324.1l0.1 1.0M264.3 296.1l0.0 0.6M276.0 327.6l-0.0 0.1M229.9 335.5l-0.1 0.2" stroke="rgb(180,180,180)" stroke-width="1.2" stroke-linecap="round" fill="none"/>
<path d="M258.3 338.1l-0.1 0.4M225.9 333.0l0.1 0.7M218.8 328.9l0.1 0.6M243.0 341.6h.01M305.1 316.4l0.4 0.8M246.6 296.8l-0.0 0.4M220.2 314.2l0.4 1.1M225.9 320.6l-0.3 0.5M303.9 290.8l-0.3 1.0M215.1 291.6l0.0 0.3M256.1 288.8l-0.1 0.6M215.0 295.0l-0.0 0.5" stroke="rgb(192,192,192)" stroke-width="1.6" stroke-linecap="round" fill="none"/>
<path d="M247.9 343.7l-0.0 0.2M297.8 311.8l0.2 1.0M236.1 314.6l0.0 0.5M243.6 333.5l0.2 0.9M217.8 334.4l-0.5 1.0M302.9 321.1l0.1 0.3M304.8 344.4l-0.3 0.6M302.4 301.8l0.1 0.7M289.0 353.4l0.1 0.5M227.1 357.8l0.5 0.9M261.9 284.4l-0.4 0.9M248.5 327.0l-0.0 0.1M275.7 311.4l0.0 0.6M242.5 332.8l0.1 0.1M248.6 325.6l-0.0 0.2M299.6 295.2l-0.0 0.3M255.8 329.1l0.1 0.2M274.2 309.1l0.1 0.3M288.5 308.1l-0.1 0.4M263.1 337.3l-0.3 0.8M231.1 332.7l-0.2 1.0M283.1 294.0l0.1 0.9M256.9 306.0l-0.4 0.7M248.4 297.6l0.1 0.5M281.0 285.7l0.2 0.7M261.2 302.5l0.2 0.9M306.6 315.1l0.2 1.0" stroke="rgb(192,192,192)" stroke-width="1.2" stroke-linecap="round" fill="none"/>
<path d="M301.2 314.4l-0.2 0.6M287.2 342.8l-0.0 0.4M216.0 357.9l-0.2 0.7M223.8 290.0l-0.3 0.8M264.1 322.5l0.1 0.2M217.5 330.8l-0.2 0.4M295.0 335.3l-0.2 0.8M256.8 288.0l-0.5 1.0" stroke="rgb(192,192,192)" stroke-width="1.4" stroke-linecap="round" fill="none"/>
<path d="M274.4 308.3l-0.2 0.6M256.5 320.5l-0.2 0.3M222.7 319.4l-0.1 0.6M237.0 351.6h.01" stroke="rgb(192,192,192)" stroke-width="1.8" stroke-linecap="round" fill="none"/>
<path d="M261.8 300.6l-0.1 0.2M281.7 315.1l-0.2 0.5M302.4 355.9h.01M249.8 321.6l0.0 0.3M253.9 309.8l0.0 0.1M290.6 322.8l-0.1 0.2M216.4 286.2l-0.1 0.3M291.5 354.6l-0.0 0.8M230.5 327.8l0.1 0.7M295.0 344.2l0.3 1.0M270.3 294.6l0.1 0.4" stroke="rgb(192,192,192)" stroke-width="1.0" stroke-linecap="round" fill="none"/>
<path d="M254.6 337.7l0.1 0.7M284.4 332.9l-0.0 1.1M249.1 357.3l0.2 0.6M274.9 312.7l-0.4 0.9M242.4 310.8l-0.2 1.0M263.0 355.1l0.2 0.4M305.1 338.3l0.1 1.1M295.0 288.5l0.0 0.2M259.1 320.9l-0.1 0.3M303.1 334.6l0.0 0.1M294.0 292.4l0.1 0.3" stroke="rgb(204,204,204)" stroke-width="1.4" stroke-linecap="round" fill="none"/>
<path d="M264.6 320.9l-0.1 0.4M243.9 335.3l0.1 0.1M226.5 348.0l0.1 0.3M282.6 295.8l-0.1 0.3M289.5 292.4l-0.1 0.5M230.1 307.1l0.0 0.4" stroke="rgb(204,204,204)" stroke-width="1.8" stroke-linecap="round" fill="none"/>
<path d="M284.5 328.8l-0.1 0.7M219.0 312.6l-0.2 0.9M258.0 299.9l0.2 1.1M292.7 340.5l0.1 0.5M296.2 341.9l0.1 0.6M234.1 309.5l0.3 1.1M307.1 327.7l0.1 0.3M302.2 344.2l0.0 0.3" stroke="rgb(204,204,204)" stroke-width="1.6" stroke-linecap="round" fill="none"/>
<path d="M252.0 317.7l0.4 0.7M248.0 347.7l-0.4 1.0M280.7 340.4l0.4 0.9M264.9 331.9l0.0 0.1M228.1 353.8l-0.0 0.4M254.4 327.8l0.3 0.7M263.2 294.2l0.1 0.3M240.4 318.2l0.1 1.1M217.5 293.5l-0.3 0.6" stroke="rgb(204,204,204)" stroke-width="1.0" stroke-linecap="round" fill="none"/>
<path d="M217.8 308.4h.01M239.1 310.9l0.1 0.4M283.3 359.3l0.2 0.6M263.9 349.1l-0.0 0.3M229.3 314.3l-0.1 1.0M247.8 301.0l-0.3 0.5M269.7 299.0l0.3 0.9M290.4 312.3l-0.3 1.0M241.2 351.1l0.0 0.6" stroke="rgb(204,204,204)" stroke-width="1.2" stroke-linecap="round" fill="none"/>
<path d="M289.4 309.9l-0.1 0.8M223.8 330.3l0.1 0.2M241.0 331.7l-0.1 0.2M302.1 324.3l-0.2 0.3M285.6 331.5l-0.5 1.0M303.0 337.2l0.0 0.6M231.0 312.4l-0.1 0.3M236.4 316.9l0.2 0.4M259.1 343.2l-0.1 0.1M299.2 323.0l-0.1 1.1M265.7 358.3l-0.1 0.2" stroke="rgb(216,216,216)" stroke-width="1.2" stroke-linecap="round" fill="none"/>
<path d="M288.4 285.0l0.1 0.4M253.4 303.7l-0.1 0.8M236.3 352.4l-0.0 0.7M216.4 354.9l0.1 1.0M259.4 305.8h.01M293.2 324.2l-0.1 0.4M309.6 331.1l0.0 0.2M291.4 334.6l-0.2 0.4M240.0 359.0l0.0 0.4M255.5 344.3l0.1 0.2M241.5 292.9l-0.3 0.9M253.0 302.6l-0.1 0.4M222.1 333.4l0.0 0.3M215.2 300.3l-0.0 0.1M285.5 333.4l-0.1 0.9M253.5 303.6l0.0 0.1M236.5 330.4l0.0 0.2M257.2 316.1l-0.4 1.1M281.5 329.9l-0.1 0.2" stroke="rgb(216,216,216)" stroke-width="1.6" stroke-linecap="round" fill="none"/>
<path d="M218.2 322.9l0.2 0.4M268.1 313.3l0.1 0.9M223.7 340.1l-0.2 0.7M298.4 308.9l-0.5 1.0M217.9 297.2l0.2 0.7M257.8 329.1l0.1 0.3M230.6 348.8l-0.1 0.2M263.2 285.7l-0.3 0.6" stroke="rgb(216,216,216)" stroke-width="1.4" stroke-linecap="round" fill="none"/>
<path d="M282.1 342.0l-0.0 0.3M292.9 320.3l0.4 0.9M242.4 301.0l0.4 0.9M242.1 295.1l-0.0 0.2M245.1 348.2h.01M243.5 351.6l0.2 1.1M254.0 324.5l-0.1 0.2M221.5 308.0l0.0 0.9M216.4 352.0l-0.0 0.6M247.2 288.7h.01M277.3 308.4l-0.0 0.3M294.2 315.6l-0.2 0.5" stroke="rgb(216,216,216)" stroke-width="1.0" stroke-linecap="round" fill="none"/>
<path d="M247.0 299.9l-0.3 0.9M253.1 315.5l0.2 0.9M228.7 359.1l0.4 1.0M227.4 301.4l0.1 1.2" stroke="rgb(216,216,216)" stroke-width="1.8" stroke-linecap="round" fill="none"/>
<path d="M305.6 342.0l0.1 0.2M220.6 355.1l-0.2 0.5M221.8 334.7l-0.0 0.4M302.8 290.4l-0.1 1.1M237.7 342.5l0.4 1.1M237.2 331.8l0.0 0.1M225.9 330.0l-0.2 0.8M289.6 323.6l0.5 0.9M277.9 286.4l0.1 0.7" stroke="rgb(228,228,228)" stroke-width="1.0" stroke-linecap="round" fill="none"/>
<path d="M235.6 295.9l0.2 0.4M271.0 356.3l-0.1 0.5M258.0 358.6l0.0 0.1M217.6 350.6l0.0 0.1M226.4 301.2l-0.2 0.7M289.3 332.2l-0.1 0.6M228.0 310.6l-0.1 0.2M259.2 340.2l-0.0 0.1M220.8 353.9l-0.1 0.3M241.8 327.9l0.0 0.6M239.6 319.2l-0.0 0.5M255.6 334.5l0.0 0.1M219.2 321.4l0.0 0.4M295.4 321.5l-0.1 0.2M246.4 286.9l0.4 0.8M226.2 353.4l-0.2 0.8" stroke="rgb(228,228,228)" stroke-width="1.6" stroke-linecap="round" fill="none"/>
<path d="M308.4 341.1l-0.1 0.4M301.5 332.4l-0.2 1.1M240.7 336.3l-0.0 0.4" stroke="rgb(228,228,228)" stroke-width="1.8" stroke-linecap="round" fill="none"/>
<path d="M237.3 320.8h.01M263.3 284.6l-0.0 1.2M252.9 286.9l0.2 0.6M287.4 340.8l-0.1 0.8M255.0 336.7l-0.1 1.1M234.8 325.1l-0.1 0.1M237.4 323.6l0.3 0.8M275.6 321.1l-0.3 0.8M305.8 301.6l0.5 1.0M296.8 323.8l-0.0 0.1M303.9 311.6l-0.4 0.6M297.5 308.1l-0.2 0.7M220.8 298.8l-0.2 0.4M278.1 343.7l0.3 0.9M276.6 337.4l0.4 1.1" stroke="rgb(228,228,228)" stroke-width="1.4" stroke-linecap="round" fill="none"/>
<path d="M236.5 302.1l0.1 0.7M303.8 349.3l-0.1 0.7M236.2 287.3l0.3 0.5M279.5 354.1l-0.3 1.1M283.3 305.2h.01M275.9 347.0l0.3 0.9M229.8 324.0l0.2 0.5M236.0 339.6l-0.1 0.4M267.8 296.6l-0.1 0.3M221.7 351.4l0.2 0.5M271.4 296.8l0.0 0.5M294.4 336.8l-0.0 0.5" stroke="rgb(228,228,228)" stroke-width="1.2" stroke-linecap="round" fill="none"/>
<path d="M277.9 298.9l0.1 0.6M267.6 346.9l0.0 0.3M218.2 357.9l-0.1 0.3M288.3 324.0l0.3 0.5M284.3 326.5l-0.0 0.1M255.0 291.4l-0.2 0.9M296.8 294.8l0.2 1.0" stroke="rgb(240,240,240)" stroke-width="1.0" stroke-linecap="round" fill="none"/>
<path d="M244.5 318.1l0.3 0.6M256.5 336.1h.01M274.2 294.4l0.3 0.8M291.7 356.9l0.2 0.4M279.0 304.5l0.1 0.5M305.0 304.0l-0.2 0.6M250.2 287.8l-0.3 0.6M306.8 341.7l0.4 1.0M307.6 286.8h.01" stroke="rgb(240,240,240)" stroke-width="1.6" stroke-linecap="round" fill="none"/>
<path d="M297.6 321.5l-0.0 0.1M302.9 357.5l0.2 0.6M234.8 355.3l-0.0 0.3M221.8 341.9l0.2 0.9M215.4 358.6l-0.2 0.3M250.1 350.4l0.1 0.8M277.9 339.8l-0.4 1.0M249.4 307.7l-0.0 0.3M297.6 337.8l-0.1 0.7" stroke="rgb(240,240,240)" stroke-width="1.2" stroke-linecap="round" fill="none"/>
<path d="M266.4 309.1l0.2 0.4M308.7 287.8l0.3 1.1M258.1 334.7l-0.0 0.2M284.0 311.0l-0.2 0.9M242.2 353.2l-0.1 0.4M225.0 312.9l-0.1 0.5M307.0 347.7l-0.1 0.3M295.2 359.0l-0.0 0.3M222.6 319.5l-0.2 0.5M304.8 290.9l-0.0 0.7M245.7 307.0l0.3 1.2" stroke="rgb(240,240,240)" stroke-width="1.8" stroke-linecap="round" fill="none"/>
<path d="M220.0 355.9l-0.0 0.5M229.5 333.7l0.2 1.1M265.9 304.9l0.1 0.5M260.7 293.5l-0.5 1.0M258.1 356.4l-0.2 1.1M239.1 291.0l-0.3 1.0M258.4 349.9l0.1 0.3M304.9 327.4l-0.0 0.1M230.1 300.0l0.2 0.8M230.7 326.0l0.2 1.1M236.2 329.5l0.3 0.7M223.0 294.7l-0.2 0.4M294.7 300.7l0.2 0.4" stroke="rgb(240,240,240)" stroke-width="1.4" stroke-linecap="round" fill="none"/>
<path d="M275.3 294.0l-0.1 1.0M281.9 311.9l0.1 0.3M308.3 311.0l0.1 0.7M218.5 311.0l-0.2 0.5M242.7 308.5l0.2 0.6M281.7 340.8l0.2 0.4M303.5 332.2l-0.1 0.3" stroke="rgb(252,252,252)" stroke-width="1.6" stroke-linecap="round" fill="none"/>
<path d="M276.0 326.8l-0.4 0.8M279.6 297.9l0.1 0.5M267.7 340.8l0.1 1.1M294.8 344.5l0.4 0.7M260.5 319.0l-0.3 1.0M260.0 317.9l-0.0 0.1" stroke="rgb(252,252,252)" stroke-width="1.4" stroke-linecap="round" fill="none"/>
<path d="M231.7 328.7l-0.4 0.8M297.8 309.0l0.3 0.6M301.8 321.0l0.1 0.3M263.3 318.1l0.3 0.8M246.0 289.7l-0.0 0.2M291.3 308.7l-0.2 0.8M304.8 322.0l-0.4 0.7" stroke="rgb(252,252,252)" stroke-width="1.0" stroke-linecap="round" fill="none"/>
<path d="M224.3 339.4l-0.1 0.9M276.2 287.5l-0.1 0.6M277.4 355.3l0.3 1.0M274.6 308.1l0.1 0.7M286.5 298.3l-0.0 0.8M304.7 349.9l-0.2 0.9M276.1 304.9l-0.2 0.5M253.4 315.8l-0.1 0.4M258.7 348.8l-0.0 0.2M286.2 290.6l0.2 0.8" stroke="rgb(252,252,252)" stroke-width="1.2" stroke-linecap="round" fill="none"/>
<path d="M241.6 293.3l0.1 0.4M221.6 319.0l0.1 0.4M229.3 344.8l0.0 0.1M308.8 335.5l0.4 0.7M250.6 303.6l0.1 0.2M287.3 325.6l0.0 0.3M239.4 324.3l0.1 0.6M247.0 296.2l-0.1 1.1" stroke="rgb(252,252,252)" stroke-width="1.8" stroke-linecap="round" fill="none"/>
<path d="M229.8 345.3h.01" stroke="rgb(216,216,216)" stroke-width="2.8" stroke-linecap="round" fill="none"/>
<path d="M278.8 318.9h.01M295.3 310.7h.01M261.0 321.6h.01" stroke="rgb(228,228,228)" stroke-width="2.6" stroke-linecap="round" fill="none"/>
<path d="M233.9 299.2h.01" stroke="rgb(228,228,228)" stroke-width="2.0" stroke-linecap="round" fill="none"/>
<path d="M292.3 288.7h.01" stroke="rgb(228,228,228)" stroke-width="3.0" stroke-linecap="round" fill="none"/>
<path d="M298.0 348.9h.01M278.9 348.5h.01" stroke="rgb(228,228,228)" stroke-width="2.2" stroke-linecap="round" fill="none"/>
<path d="M285.3 294.5h.01" stroke="rgb(228,228,228)" stroke-width="2.8" stroke-linecap="round" fill="none"/>
<path d="M263.9 284.9h.01" stroke="rgb(228,228,228)" stroke-width="2.4" stroke-linecap="round" fill="none"/>
<path d="M290.2 307.2h.01M229.6 290.7h.01M265.1 297.4h.01M284.6 349.5h.01" stroke="rgb(240,240,240)" stroke-width="2.8" stroke-linecap="round" fill="none"/>
<path d="M279.6 328.2h.01M302.2 340.5h.01" stroke="rgb(240,240,240)" stroke-width="3.0" stroke-linecap="round" fill="none"/>
<path d="M308.5 359.4h.01M224.1 331.4h.01M280.6 346.8h.01" stroke="rgb(240,240,240)" stroke-width="2.4" stroke-linecap="round" fill="none"/>
<path d="M301.9 343.8h.01M272.3 323.0h.01" stroke="rgb(240,240,240)" stroke-width="2.0" stroke-linecap="round" fill="none"/>
<path d="M274.7 336.7h.01" stroke="rgb(240,240,240)" stroke-width="1.8" stroke-linecap="round" fill="none"/>
<path d="M309.1 337.5h.01" stroke="rgb(252,252,252)" stroke-width="2.0" stroke-linecap="round" fill="none"/>
<path d="M266.7 313.3h.01" stroke="rgb(252,252,252)" stroke-width="2.6" stroke-linecap="round" fill="none"/>
<path d="M251.5 332.7h.01" stroke="rgb(252,252,252)" stroke-width="2.4" stroke-linecap="round" fill="none"/>
<path d="M232.5 284.9h.01M290.0 327.4h.01" stroke="rgb(252,252,252)" stroke-width="2.8" stroke-linecap="round" fill="none"/>
<path d="M297.5 344.9h.01" stroke="rgb(252,252,252)" stroke-width="2.2" stroke-linecap="round" fill="none"/>
<path d="M307.1 351.8h.01M291.9 289.0h.01" stroke="rgb(252,252,252)" stroke-width="1.8" stroke-linecap="round" fill="none"/>
<ellipse cx="292.0" cy="287.0" rx="2.0" ry="2.0" fill="rgb(245,245,245)" transform="rotate(0 292.0 287.0)"/>
<ellipse cx="294.0" cy="293.0" rx="2.2" ry="2.2" fill="rgb(245,245,245)" transform="rotate(0 294.0 293.0)"/>
<ellipse cx="283.0" cy="316.0" rx="1.8" ry="1.8" fill="rgb(245,245,245)" transform="rotate(0 283.0 316.0)"/>
<ellipse cx="296.0" cy="322.0" rx="2.0" ry="2.0" fill="rgb(245,245,245)" transform="rotate(0 296.0 322.0)"/>
<ellipse cx="281.0" cy="335.0" rx="2.2" ry="2.2" fill="rgb(245,245,245)" transform="rotate(0 281.0 335.0)"/>
<ellipse cx="226.0" cy="333.0" rx="2.0" ry="2.0" fill="rgb(245,245,245)" transform="rotate(0 226.0 333.0)"/>
<ellipse cx="227.0" cy="351.0" rx="1.8" ry="1.8" fill="rgb(245,245,245)" transform="rotate(0 227.0 351.0)"/>
<ellipse cx="300.0" cy="336.0" rx="1.6" ry="1.6" fill="rgb(245,245,245)" transform="rotate(0 300.0 336.0)"/>
<ellipse cx="240.0" cy="330.0" rx="1.4" ry="1.4" fill="rgb(245,245,245)" transform="rotate(0 240.0 330.0)"/>
<ellipse cx="262.0" cy="340.0" rx="1.4" ry="1.4" fill="rgb(245,245,245)" transform="rotate(0 262.0 340.0)"/>
</g></svg>
<svg x="314.2" y="285.5" width="96.2" height="74.6" viewBox="314.2 285.5 96.2 74.6" overflow="hidden">
<g filter="url(#bl)"><rect x="314.2" y="285.5" width="96.2" height="74.6" fill="#0c0c0c"/>
<path d="M318.5 294.8h.01M396.0 335.5h.01M405.1 336.5h.01M401.4 330.3h.01M348.5 354.7h.01M337.7 316.9h.01M375.7 341.7h.01M347.4 337.8h.01M388.6 306.4h.01M407.0 321.5h.01M343.7 347.2h.01M321.6 308.5h.01M369.2 346.0h.01M316.9 321.1h.01M351.9 308.2h.01M393.3 338.8h.01M343.2 350.1h.01M396.6 314.3h.01M404.6 356.5h.01M404.3 289.2h.01M349.5 352.4h.01M380.7 322.5h.01M366.5 289.8h.01M369.8 341.4h.01M382.0 323.2h.01M388.3 309.9h.01M332.2 334.9h.01M332.5 352.4h.01M323.8 334.4h.01M405.9 359.3h.01M341.3 359.0h.01" stroke="rgb(24,24,24)" stroke-width="1.6" stroke-linecap="round" fill="none"/>
<path d="M360.6 307.7h.01M371.7 346.7h.01M399.1 309.8h.01M337.7 359.3h.01M388.7 322.3h.01M321.8 319.9h.01M403.4 328.9h.01M391.3 318.4h.01M337.2 335.5h.01M397.8 309.2h.01M405.9 314.2h.01M344.1 294.2h.01M320.8 319.4h.01M327.0 319.4h.01M345.7 353.8h.01M340.3 290.8h.01M390.1 320.6h.01M340.0 286.0h.01M388.7 320.9h.01M396.3 312.0h.01M397.4 287.6h.01M393.1 296.1h.01M401.6 305.5h.01M390.9 318.3h.01M374.2 346.0h.01M343.1 333.2h.01M318.9 313.6h.01M316.0 288.3h.01M390.3 294.8h.01M335.0 318.5h.01M371.1 302.6h.01M383.2 298.9h.01M332.2 285.8h.01M355.7 324.6h.01" stroke="rgb(24,24,24)" stroke-width="1.2" stroke-linecap="round" fill="none"/>
<path d="M366.0 318.4h.01M384.2 310.8h.01M395.8 311.4h.01M366.9 301.7h.01M408.3 340.9h.01M339.6 356.2h.01M321.9 341.3h.01M340.9 346.3h.01M402.8 357.8h.01M366.6 333.0h.01M380.4 310.2h.01M343.0 304.0h.01M345.0 352.0h.01M395.9 346.6h.01M315.2 300.7h.01M396.4 323.7h.01M347.1 301.6h.01M402.0 306.9h.01M325.8 286.2h.01M407.4 322.2h.01M331.4 342.5h.01M402.1 317.6h.01M341.2 297.8h.01M375.5 356.8h.01M325.9 340.7h.01M314.4 317.9h.01M338.4 353.9h.01M320.7 315.3h.01" stroke="rgb(24,24,24)" stroke-width="1.0" stroke-linecap="round" fill="none"/>
<path d="M340.3 342.1h.01M334.6 318.4h.01M401.1 322.2h.01M315.1 312.0h.01M356.5 286.8h.01M342.4 328.6h.01M344.0 350.8h.01M330.8 334.4h.01M319.7 342.5h.01M368.3 357.9h.01M407.9 314.1h.01M394.7 292.1h.01M315.6 318.1h.01M336.1 314.5h.01M356.4 311.4h.01M365.4 299.7h.01M347.6 331.7h.01M394.5 348.0h.01" stroke="rgb(24,24,24)" stroke-width="1.4" stroke-linecap="round" fill="none"/>
<path d="M363.7 297.6h.01M408.3 336.1h.01M333.6 325.5h.01M335.9 330.2h.01M335.6 321.1h.01M359.2 314.6h.01M357.5 351.7h.01M360.1 302.0h.01M394.1 352.0h.01M368.1 314.3h.01M399.0 320.1h.01M352.0 326.9h.01M335.9 286.3h.01M409.0 318.4h.01" stroke="rgb(24,24,24)" stroke-width="0.8" stroke-linecap="round" fill="none"/>
<path d="M392.8 336.1h.01M367.3 333.9h.01M326.7 300.1h.01M410.3 339.4h.01M402.5 329.3h.01M379.5 305.9h.01M343.9 329.1h.01M361.7 292.5h.01M315.6 305.6h.01M361.9 312.4h.01M400.3 290.4h.01M323.6 303.5h.01M387.5 358.7h.01M385.8 327.5h.01M318.1 333.9h.01M359.0 310.8h.01M351.4 325.4h.01M333.7 338.8h.01" stroke="rgb(24,24,24)" stroke-width="1.8" stroke-linecap="round" fill="none"/>
<path d="M336.4 340.1h.01M402.8 330.4h.01M357.0 344.4h.01M336.2 323.5h.01M397.8 288.8h.01M335.8 320.6h.01M362.9 292.7h.01M330.6 358.1h.01M331.7 340.2h.01M382.7 323.1h.01M364.4 336.1h.01M336.3 313.7h.01M370.6 331.9h.01M401.7 316.4h.01M376.7 290.5h.01M330.1 316.2h.01M321.7 347.7h.01M346.5 332.6h.01M349.8 334.9h.01M364.4 316.6h.01M315.1 298.1h.01M383.8 289.2h.01M380.5 356.9h.01M325.2 341.4h.01M385.0 338.9h.01M395.8 328.5h.01M317.0 342.4h.01M364.1 292.5h.01M369.3 344.7h.01M314.3 297.7h.01M340.9 330.1h.01M360.5 318.6h.01M364.5 334.4h.01M321.1 342.9h.01M318.5 340.2h.01M369.8 322.4h.01M346.4 336.5h.01M342.0 292.3h.01M322.0 315.8h.01M401.3 321.8h.01M332.5 332.3h.01M329.6 318.4h.01M376.1 329.9h.01M342.9 292.4h.01M383.2 306.9h.01M337.1 320.4h.01M378.0 351.0h.01M375.4 332.6h.01M335.5 349.6h.01M357.2 342.4h.01M364.6 322.1h.01M387.4 303.5h.01M381.4 299.6h.01M357.9 351.9h.01M383.7 344.1h.01M363.5 291.8h.01M386.4 298.2h.01M326.1 332.9h.01M384.1 339.0h.01M319.5 306.3h.01M333.4 318.5h.01M368.5 338.9h.01M400.7 314.4h.01" stroke="rgb(36,36,36)" stroke-width="1.4" stroke-linecap="round" fill="none"/>
<path d="M316.2 355.6h.01M406.0 348.1h.01M344.0 335.1h.01M383.5 321.6h.01M363.8 357.3h.01M407.7 306.3h.01M377.2 333.2h.01M350.4 294.9h.01M351.9 303.0h.01M387.8 310.4h.01M334.3 352.3h.01M406.1 295.2h.01M328.5 302.8h.01M389.8 318.3h.01M407.2 332.4h.01M378.7 340.4h.01M337.5 334.2h.01M379.5 307.8h.01M377.2 359.9h.01M329.2 298.2h.01M324.0 293.3h.01M329.5 316.6h.01M399.7 353.4h.01M332.5 349.0h.01M394.4 304.2h.01M383.3 337.2h.01M339.1 354.1h.01M379.0 343.8h.01M315.4 357.4h.01M359.8 294.9h.01M321.1 302.2h.01M401.1 293.1h.01M399.9 292.8h.01M394.4 315.6h.01M339.3 304.2h.01M317.9 341.3h.01M330.0 292.7h.01M322.4 327.2h.01M374.7 297.4h.01M360.8 320.3h.01M360.3 318.1h.01M357.2 326.3h.01M341.7 317.8h.01M351.9 344.3h.01M392.7 299.8h.01M356.6 359.0h.01M318.6 352.8h.01M351.5 339.7h.01M322.0 337.7h.01M382.4 333.6h.01M370.8 327.3h.01M335.3 319.4h.01" stroke="rgb(36,36,36)" stroke-width="1.2" stroke-linecap="round" fill="none"/>
<path d="M343.6 348.1h.01M380.9 358.1h.01M318.2 335.3h.01M340.4 306.7h.01M398.0 308.4h.01M365.6 346.5h.01M341.9 342.7h.01M324.4 347.3h.01M318.7 318.4h.01M371.2 340.1h.01M317.4 304.6h.01M322.9 335.5h.01M386.5 327.1h.01M383.6 311.2h.01M410.3 350.9h.01M357.0 353.6h.01M380.3 285.7h.01M316.4 313.8h.01M355.3 348.3h.01M398.8 349.7h.01M348.5 315.3h.01M405.1 330.9h.01M391.6 316.0h.01M337.8 326.1h.01M391.8 315.1h.01M329.9 348.0h.01M389.1 328.9h.01M334.0 329.0h.01M395.3 317.9h.01M400.9 339.5h.01M386.3 305.8h.01M329.8 294.0h.01M390.6 355.7h.01M372.7 344.6h.01M315.0 341.7h.01M341.7 297.0h.01M398.8 322.5h.01M410.0 349.5h.01M331.6 315.8h.01M330.7 297.4h.01M376.8 354.4h.01M351.8 285.9h.01M354.5 333.9h.01M320.9 313.4h.01M377.8 285.7h.01M366.2 359.4h.01" stroke="rgb(36,36,36)" stroke-width="1.6" stroke-linecap="round" fill="none"/>
<path d="M375.5 357.2h.01M400.6 306.4h.01M373.8 348.8h.01M384.5 287.0h.01M407.0 296.8h.01M376.5 326.5h.01M365.9 322.3h.01M364.9 314.9h.01M403.5 328.1h.01M355.2 289.7h.01M385.7 292.9h.01M320.3 306.2h.01M408.6 340.7h.01M366.7 351.8h.01M317.0 332.3h.01M316.4 293.9h.01M389.6 318.4h.01M387.8 342.1h.01M368.8 305.2h.01M399.5 316.2h.01M326.1 336.9h.01M360.9 328.5h.01M349.8 310.5h.01M406.3 341.7h.01M397.9 313.3h.01M406.9 285.5h.01M407.7 359.0h.01M405.3 297.3h.01M359.4 295.7h.01M318.7 317.4h.01M348.1 339.7h.01M377.9 349.6h.01M353.1 291.3h.01M395.8 309.4h.01M363.4 356.7h.01M409.5 351.2h.01M346.7 298.4h.01M359.0 293.2h.01M323.5 331.1h.01M400.7 333.3h.01M345.8 326.5h.01M336.0 340.4h.01M315.5 288.4h.01M391.8 355.1h.01M384.3 357.0h.01M384.4 349.4h.01" stroke="rgb(36,36,36)" stroke-width="1.0" stroke-linecap="round" fill="none"/>
<path d="M349.6 343.0h.01M408.8 344.9h.01M384.3 344.5h.01M374.0 302.4h.01M386.6 322.5h.01M341.6 349.5h.01M324.5 356.6h.01M366.6 343.2h.01M315.2 286.1h.01M365.1 323.5h.01M374.4 320.9h.01M344.4 290.0h.01M376.2 316.8h.01M326.1 305.9h.01M370.7 354.9h.01M406.8 313.2h.01M341.6 305.9h.01M344.8 355.1h.01M369.9 341.2h.01M357.9 359.3h.01" stroke="rgb(36,36,36)" stroke-width="0.8" stroke-linecap="round" fill="none"/>
<path d="M337.5 285.5h.01M335.6 330.7h.01M328.0 345.5h.01M334.4 327.4h.01M359.8 332.3h.01M338.7 335.6h.01M352.8 357.6h.01M380.1 344.5h.01M342.8 293.8h.01M399.7 315.9h.01M349.7 334.4h.01M370.2 343.8h.01M386.1 357.2h.01M320.4 352.0h.01M403.3 339.6h.01M363.4 343.7h.01M395.0 301.6h.01M363.1 335.8h.01M354.4 311.4h.01M395.3 307.4h.01" stroke="rgb(36,36,36)" stroke-width="1.8" stroke-linecap="round" fill="none"/>
<path d="M371.6 303.9h.01M368.1 355.3h.01M360.0 322.7h.01M381.1 324.6h.01M373.3 308.5h.01M339.1 300.6h.01M321.9 290.3h.01M395.1 345.3h.01M356.0 355.5h.01M362.7 317.5h.01M390.9 327.6h.01M393.4 327.3h.01M357.5 289.0h.01M319.2 352.0h.01M365.7 300.5h.01M400.7 345.3h.01M394.1 331.8h.01M398.3 299.2h.01M324.5 336.7h.01M387.2 328.4h.01M334.8 353.3h.01M354.6 351.7h.01M348.9 342.8h.01M381.2 330.7h.01M380.9 321.4h.01M361.6 343.8h.01M390.3 322.3h.01M404.7 308.2h.01M321.6 290.7h.01M399.5 325.3h.01M388.5 330.9h.01M342.6 335.3h.01M398.3 320.5h.01M395.9 335.0h.01M348.6 356.3h.01M341.8 345.2h.01M388.4 334.4h.01M406.5 311.7h.01M368.0 288.4h.01M317.0 299.4h.01M375.4 310.4h.01M401.1 289.1h.01M383.8 335.8h.01M402.9 315.2h.01M392.7 314.6h.01M338.9 349.7h.01M362.9 287.4h.01M327.4 353.5h.01M396.6 341.8h.01M353.5 300.5h.01M353.9 355.6h.01M330.8 359.4h.01M391.3 301.6h.01" stroke="rgb(48,48,48)" stroke-width="1.6" stroke-linecap="round" fill="none"/>
<path d="M350.4 291.9h.01M316.5 289.7h.01M357.4 329.6h.01M331.7 327.0h.01M335.4 325.3h.01M398.3 311.6h.01M335.6 308.3h.01M352.5 307.4h.01M366.8 358.4h.01M371.4 336.4h.01M409.8 314.1h.01M331.1 349.2h.01M338.8 311.2h.01M388.4 359.9h.01M377.6 292.3h.01M364.4 338.5h.01M403.5 329.6h.01M366.9 299.6h.01M401.6 289.8h.01M385.5 291.7h.01M341.1 285.6h.01M337.9 321.2h.01M342.7 302.5h.01M341.9 309.2h.01M393.1 335.9h.01M346.1 285.9h.01M407.6 288.2h.01M322.5 351.4h.01M334.2 358.7h.01M327.4 340.9h.01M382.8 339.5h.01M403.2 325.9h.01M379.7 304.9h.01M371.0 300.1h.01M381.6 301.4h.01M382.1 356.4h.01M391.3 349.0h.01M384.3 293.1h.01M342.3 336.4h.01M316.6 329.0h.01M325.4 316.3h.01M396.9 310.3h.01M401.6 345.3h.01M336.6 333.4h.01M325.9 359.4h.01M323.0 344.8h.01M388.3 334.5h.01M380.4 333.3h.01M319.2 299.2h.01M367.4 336.5h.01M365.4 319.6h.01M368.7 346.8h.01M391.6 322.7h.01M390.4 292.8h.01M335.0 316.6h.01M345.9 287.1h.01M350.1 309.7h.01M391.6 351.5h.01M381.9 289.9h.01M374.7 291.6h.01M405.0 288.8h.01M385.3 289.1h.01M326.0 335.9h.01M318.2 302.3h.01M335.9 286.3h.01M346.5 343.7h.01M340.0 297.4h.01M355.2 357.4h.01" stroke="rgb(48,48,48)" stroke-width="1.4" stroke-linecap="round" fill="none"/>
<path d="M356.9 338.3h.01M321.1 313.2h.01M340.4 290.5h.01M409.5 336.2h.01M326.7 313.0h.01M366.3 341.6h.01M340.3 296.3h.01M390.3 297.3h.01M327.7 356.2h.01M377.0 357.7h.01M332.5 302.6h.01M394.7 358.0h.01M323.0 337.2h.01M325.6 323.0h.01M369.9 290.8h.01M393.0 345.7h.01M392.6 357.4h.01M369.0 292.2h.01M383.0 327.1h.01M370.7 309.7h.01M320.9 324.8h.01M357.9 296.8h.01M369.5 293.2h.01M337.8 323.0h.01M368.0 313.4h.01M349.6 302.4h.01M343.1 298.8h.01M336.1 294.1h.01M327.4 321.5h.01M369.6 298.2h.01M375.8 303.7h.01M341.5 321.3h.01M405.1 356.2h.01M323.0 350.2h.01M351.7 317.2h.01M326.2 327.8h.01M366.2 342.5h.01M379.8 301.2h.01M396.7 286.7h.01M353.1 354.0h.01M367.3 342.6h.01M372.6 301.8h.01M359.5 299.6h.01M368.5 314.7h.01M346.0 314.9h.01M371.5 330.9h.01M370.8 352.8h.01M322.6 300.3h.01M386.8 305.9h.01M329.3 327.5h.01M324.0 290.5h.01M408.8 295.1h.01M392.2 287.2h.01M409.0 334.3h.01M343.7 292.6h.01M344.8 306.9h.01M399.8 327.9h.01M333.4 350.0h.01M338.2 301.7h.01M336.5 295.8h.01" stroke="rgb(48,48,48)" stroke-width="1.0" stroke-linecap="round" fill="none"/>
<path d="M337.5 338.2h.01M368.7 358.7h.01M314.3 323.1h.01M358.8 320.0h.01M370.4 349.1h.01M367.0 303.5h.01M366.5 343.0h.01M385.4 336.6h.01M349.2 343.3h.01M401.4 323.0h.01M367.5 315.1h.01M317.6 298.9h.01M355.6 306.5h.01M359.6 337.8h.01M389.0 320.9h.01M383.3 329.5h.01M389.0 304.0h.01M344.6 332.2h.01M402.1 329.2h.01M389.9 295.3h.01M353.9 329.7h.01M366.3 300.0h.01M336.4 289.3h.01M322.5 324.3h.01M408.3 350.4h.01M329.7 358.2h.01M375.5 358.3h.01M404.7 287.9h.01" stroke="rgb(48,48,48)" stroke-width="0.8" stroke-linecap="round" fill="none"/>
<path d="M336.2 310.9h.01M397.9 330.7h.01M377.3 347.6h.01M405.5 323.3h.01M317.2 306.1h.01M346.6 299.7h.01M368.4 307.1h.01M337.0 340.4h.01M368.2 320.3h.01M395.3 333.8h.01M351.5 346.9h.01M355.0 296.7h.01M375.0 350.8h.01M360.6 294.8h.01M358.4 289.0h.01M403.2 347.4h.01M408.6 298.6h.01M372.9 294.5h.01M320.9 344.8h.01M331.2 288.7h.01M391.1 297.7h.01M318.4 328.8h.01M322.4 286.7h.01M374.8 335.2h.01M352.6 356.2h.01M327.3 324.9h.01M333.5 312.3h.01M392.4 312.7h.01M337.2 337.5h.01M332.2 342.8h.01M349.8 347.5h.01M321.0 308.8h.01" stroke="rgb(48,48,48)" stroke-width="1.8" stroke-linecap="round" fill="none"/>
<path d="M391.1 325.9h.01M355.1 353.4h.01M335.7 358.5h.01M318.1 319.8h.01M355.0 325.4h.01M350.9 310.3h.01M386.4 349.9h.01M407.5 323.1h.01M349.1 322.6h.01M361.2 343.9h.01M390.3 330.3h.01M400.5 355.3h.01M381.8 335.0h.01M325.6 331.4h.01M395.6 289.0h.01M362.1 286.6h.01M378.1 314.5h.01M377.0 353.5h.01M381.1 289.0h.01M394.6 294.0h.01M372.8 348.8h.01M352.1 330.8h.01M360.0 310.9h.01M361.9 313.4h.01M327.3 324.5h.01M350.8 286.4h.01M389.4 317.3h.01M384.4 308.7h.01M375.9 336.1h.01M326.1 335.4h.01M344.6 301.7h.01M358.7 354.6h.01M389.0 301.3h.01M338.5 321.1h.01M403.7 310.7h.01M359.9 307.0h.01M323.8 347.0h.01M397.0 348.1h.01M355.9 357.4h.01M360.4 287.2h.01M378.8 359.6h.01M362.4 326.2h.01M389.6 359.0h.01M349.7 324.3h.01M354.6 341.2h.01M401.5 333.1h.01M385.2 333.1h.01M332.1 314.8h.01M384.4 319.3h.01M391.8 307.8h.01M329.9 359.1h.01M387.1 339.1h.01" stroke="rgb(48,48,48)" stroke-width="1.2" stroke-linecap="round" fill="none"/>
<path d="M339.5 307.4h.01M330.8 323.7h.01M398.3 293.9h.01M395.5 296.6h.01M380.3 295.5h.01M318.6 339.3h.01M401.5 311.2h.01M401.5 334.7h.01M316.6 335.3h.01M390.1 335.0h.01M347.7 310.3h.01M399.1 315.5h.01M395.2 308.9h.01M376.4 321.0h.01M335.2 339.6h.01M382.0 301.5h.01M355.4 340.6h.01M329.5 314.9h.01M350.0 313.6h.01M407.8 304.6h.01M360.2 343.4h.01M314.3 314.4h.01M349.6 325.4h.01M372.1 289.7h.01M323.6 345.4h.01M325.6 297.6h.01M327.0 316.2h.01M332.2 304.1h.01M344.1 291.1h.01M391.8 344.3h.01M344.8 292.0h.01M346.6 313.0h.01M359.1 339.9h.01M405.7 359.2h.01M367.7 325.3h.01M407.0 305.6h.01M326.8 295.9h.01M341.2 348.8h.01M386.5 326.2h.01M370.9 295.9h.01M368.8 286.6h.01M364.2 351.4h.01M354.4 313.2h.01" stroke="rgb(60,60,60)" stroke-width="1.4" stroke-linecap="round" fill="none"/>
<path d="M361.4 329.6h.01M343.8 317.2h.01M404.3 314.7h.01M388.6 294.5h.01M337.8 339.1h.01M355.6 295.9h.01M329.6 306.3h.01M342.3 316.5h.01M393.1 339.7h.01M394.0 288.0h.01M343.4 330.7h.01M324.4 359.3h.01M360.3 354.9h.01M365.3 294.2h.01M360.5 331.1h.01M370.6 352.9h.01M371.9 314.4h.01M360.4 340.3h.01M372.6 309.3h.01M404.6 288.9h.01M371.1 287.4h.01M353.8 357.0h.01M386.4 318.2h.01M364.2 342.7h.01M361.1 316.4h.01M338.8 324.3h.01M396.6 342.9h.01M340.3 287.4h.01M376.0 330.1h.01M395.4 338.0h.01M371.0 292.6h.01M353.1 328.2h.01M315.8 338.6h.01M368.2 304.3h.01M361.7 294.2h.01M317.8 301.9h.01M387.3 294.4h.01M386.6 330.8h.01M363.2 337.4h.01M368.4 331.2h.01M369.9 308.5h.01M334.2 348.3h.01M334.7 309.1h.01M395.4 323.1h.01" stroke="rgb(60,60,60)" stroke-width="1.6" stroke-linecap="round" fill="none"/>
<path d="M359.4 303.2h.01M340.1 355.6h.01M362.8 328.9h.01M381.7 285.5h.01M400.1 305.8h.01M346.4 342.4h.01M369.6 303.0h.01M408.5 302.7h.01M343.9 303.3h.01M352.3 354.1h.01M396.6 325.3h.01M360.2 321.8h.01M396.6 330.3h.01M394.7 305.7h.01M333.0 345.8h.01M405.1 326.8h.01M346.2 325.7h.01M367.3 356.7h.01M362.0 358.3h.01M343.9 319.6h.01M366.3 334.8h.01M330.4 286.0h.01M318.3 317.3h.01M370.6 332.3h.01M398.0 288.0h.01M392.3 331.9h.01M362.4 297.1h.01M392.0 356.8h.01" stroke="rgb(60,60,60)" stroke-width="0.8" stroke-linecap="round" fill="none"/>
<path d="M400.5 346.9h.01M371.3 347.3h.01M379.7 343.4h.01M407.8 344.2h.01M390.5 313.7h.01M389.5 353.7h.01M334.2 312.5h.01M404.4 350.9h.01M381.3 325.4h.01M361.1 352.8h.01M407.6 340.1h.01M375.5 342.1h.01M342.1 338.4h.01M330.4 286.3h.01M386.5 310.0h.01M345.5 358.0h.01M323.5 322.6h.01M393.8 289.0h.01M367.6 338.4h.01M337.2 339.2h.01M393.9 311.5h.01M346.0 310.2h.01M372.7 330.8h.01M343.1 331.5h.01M391.4 316.1h.01M333.4 357.0h.01M405.0 353.9h.01M315.6 352.9h.01M391.9 352.5h.01M364.5 339.8h.01M403.9 358.4h.01M406.8 308.0h.01M320.9 350.5h.01M351.5 344.7h.01M329.4 333.9h.01M371.9 311.8h.01M359.6 324.8h.01M316.8 299.6h.01M333.9 336.3h.01M357.1 291.9h.01M388.0 327.0h.01M340.8 345.8h.01M358.5 312.4h.01M345.9 313.8h.01M352.0 301.2h.01M375.9 322.6h.01M337.8 318.7h.01M336.8 301.7h.01M317.7 316.3h.01M365.7 343.3h.01M324.5 304.8h.01" stroke="rgb(60,60,60)" stroke-width="1.2" stroke-linecap="round" fill="none"/>
<path d="M332.2 322.3h.01M361.9 309.8h.01M384.5 333.2h.01M328.8 320.7h.01M404.3 295.6h.01M372.8 352.6h.01M337.7 354.0h.01M385.3 304.0h.01M360.2 328.5h.01M315.6 292.2h.01M352.0 295.8h.01M407.2 348.3h.01M401.0 290.6h.01M409.0 308.6h.01M396.7 317.6h.01M338.5 339.4h.01M383.2 304.6h.01M357.7 347.4h.01M314.3 292.5h.01M324.7 308.7h.01M332.7 357.1h.01M335.6 348.2h.01M397.2 307.7h.01M375.3 301.6h.01M320.2 298.0h.01M337.0 297.6h.01M327.4 337.9h.01M395.4 287.5h.01M334.9 355.6h.01M379.2 300.3h.01M405.7 330.0h.01M385.4 346.6h.01M365.6 298.6h.01M328.9 355.1h.01M352.0 298.0h.01M329.8 327.7h.01M394.8 329.3h.01M340.4 301.0h.01M403.1 346.9h.01M392.0 348.3h.01M347.7 341.2h.01M325.5 308.2h.01" stroke="rgb(60,60,60)" stroke-width="1.0" stroke-linecap="round" fill="none"/>
<path d="M372.3 317.6h.01M382.8 318.2h.01M365.4 291.4h.01M324.3 350.4h.01M323.5 324.6h.01M395.0 328.5h.01M386.9 323.3h.01M383.4 332.4h.01M336.0 293.5h.01M353.8 325.2h.01M395.1 355.6h.01M340.6 288.7h.01M370.4 347.5h.01M371.0 297.1h.01M373.5 299.4h.01M369.9 339.9h.01M373.5 294.2h.01M344.1 342.1h.01M385.0 309.3h.01M318.5 319.5h.01M406.8 359.8h.01M409.8 350.7h.01" stroke="rgb(60,60,60)" stroke-width="1.8" stroke-linecap="round" fill="none"/>
<path d="M315.4 293.9h.01M355.3 342.6h.01M339.8 351.6h.01M392.6 304.1h.01M348.4 340.2h.01M405.9 303.7h.01M343.2 309.6h.01M323.2 325.7h.01M323.9 331.2h.01M319.2 319.2h.01M367.8 307.1h.01M399.5 354.8h.01M395.0 358.3h.01M322.7 287.2h.01M398.3 352.4h.01M322.8 331.8h.01M336.3 322.7h.01M392.3 331.5h.01M373.4 299.3h.01M322.6 343.7h.01M335.0 357.0h.01M403.9 290.6h.01M392.8 321.2h.01M387.5 341.0h.01M344.0 359.6h.01M344.0 319.1h.01M399.7 346.5h.01M382.8 339.2h.01M395.4 303.6h.01M386.9 352.5h.01M332.7 308.8h.01M384.4 359.3h.01M374.7 304.9h.01M407.0 328.4h.01M351.5 289.1h.01M335.5 342.7h.01M368.1 354.2h.01M356.8 349.0h.01M407.9 334.0h.01M392.6 326.2h.01M328.6 305.1h.01M340.0 359.4h.01M401.7 323.7h.01M399.5 338.5h.01M356.2 287.0h.01M392.1 291.0h.01M315.2 300.2h.01M384.0 338.6h.01M389.4 331.8h.01M317.7 353.6h.01M361.1 348.4h.01M410.0 300.9h.01M371.5 342.8h.01M391.7 292.3h.01M358.0 340.4h.01M381.2 350.0h.01M326.3 297.2h.01M406.4 288.2h.01M314.4 311.1h.01M351.1 335.4h.01M354.0 291.1h.01" stroke="rgb(72,72,72)" stroke-width="1.2" stroke-linecap="round" fill="none"/>
<path d="M365.7 338.6h.01M390.8 339.9h.01M339.2 353.1h.01M386.2 333.7h.01M403.1 327.9h.01M359.2 312.8h.01M381.9 304.5h.01M379.8 290.1h.01M350.7 337.6h.01M382.1 339.3h.01M362.3 294.9h.01M333.7 296.6h.01M374.3 297.1h.01M366.3 286.6h.01M393.6 315.9h.01M363.9 342.1h.01M400.1 307.4h.01M352.1 322.0h.01M409.1 308.4h.01M397.5 333.4h.01M385.3 356.4h.01M373.0 341.9h.01M330.9 289.7h.01M338.0 340.2h.01M334.1 307.4h.01M333.6 316.8h.01M352.1 290.6h.01M360.5 333.8h.01M317.5 330.5h.01M378.3 326.5h.01M399.4 321.0h.01M376.6 306.2h.01M409.3 351.8h.01M392.7 303.7h.01M343.3 322.0h.01M359.6 301.7h.01M327.2 299.5h.01M319.9 323.3h.01M344.8 301.2h.01M374.6 334.3h.01M314.8 326.8h.01M322.6 343.5h.01M369.9 304.0h.01M341.5 338.7h.01M355.0 307.8h.01M379.9 334.2h.01M407.4 358.8h.01M333.4 344.8h.01M388.0 353.9h.01M345.7 293.0h.01M383.1 309.0h.01M376.9 313.7h.01M387.0 335.3h.01M329.9 287.5h.01M328.9 298.4h.01M370.9 331.0h.01M317.7 306.9h.01M342.8 337.1h.01M351.6 324.9h.01M325.3 299.8h.01M395.5 291.0h.01M361.2 288.8h.01M385.3 295.0h.01M347.3 326.0h.01M319.6 354.9h.01M316.2 349.1h.01M356.9 342.2h.01M347.3 347.4h.01M376.0 315.3h.01M383.9 291.6h.01M337.5 290.5h.01M330.8 319.9h.01M323.1 307.8h.01" stroke="rgb(72,72,72)" stroke-width="1.0" stroke-linecap="round" fill="none"/>
<path d="M406.7 358.3h.01M389.5 341.1h.01M386.5 295.6h.01M409.7 333.8h.01M340.6 288.1h.01M327.6 297.0h.01M339.7 339.2h.01M392.7 351.7h.01M393.2 334.7h.01M360.6 293.5h.01M317.8 303.4h.01M342.4 297.8h.01M410.0 290.0h.01M403.1 305.7h.01M347.8 326.2h.01M348.6 296.0h.01M348.2 293.2h.01M385.1 309.1h.01M409.9 343.5h.01M374.2 286.2h.01M369.8 313.7h.01M345.9 315.6h.01M397.1 289.6h.01M341.9 335.2h.01M342.5 322.6h.01M389.7 300.4h.01M377.3 294.5h.01M349.6 295.7h.01M314.3 347.3h.01M401.1 345.4h.01M319.4 289.1h.01M367.2 309.6h.01M369.4 358.6h.01M349.2 294.8h.01M349.5 314.6h.01M353.8 288.0h.01" stroke="rgb(72,72,72)" stroke-width="1.8" stroke-linecap="round" fill="none"/>
<path d="M390.1 356.1h.01M352.5 301.4h.01M371.1 311.3h.01M342.0 294.6h.01M338.6 311.1h.01M392.5 309.9h.01M336.5 292.8h.01M357.7 317.8h.01M351.6 310.9h.01M384.8 305.7h.01M362.1 341.3h.01M379.3 352.1h.01M338.8 325.9h.01M364.4 322.2h.01M400.9 343.6h.01M363.1 327.0h.01M408.7 298.8h.01M391.0 290.3h.01M388.7 302.1h.01M383.9 347.4h.01M342.5 336.4h.01M324.6 298.0h.01M352.3 302.8h.01M349.2 358.4h.01M328.6 350.6h.01M409.8 312.7h.01M380.9 339.2h.01M353.7 341.5h.01M387.5 311.0h.01M361.3 308.2h.01M318.6 292.4h.01M368.4 305.0h.01M330.6 322.3h.01M316.1 328.3h.01M375.9 341.4h.01M363.1 303.3h.01M317.7 330.8h.01M342.5 321.9h.01M369.8 291.1h.01M366.0 293.5h.01M342.7 346.9h.01M331.1 331.0h.01M355.1 310.4h.01M369.8 348.6h.01M403.3 349.8h.01M345.2 336.2h.01M387.9 358.9h.01M328.4 286.3h.01M373.5 285.9h.01M327.8 341.7h.01M400.9 320.4h.01M316.7 352.7h.01M317.5 292.8h.01M386.3 342.5h.01M358.9 293.4h.01M376.5 324.3h.01M346.5 355.0h.01M367.9 309.7h.01M407.4 292.4h.01M356.4 339.5h.01M369.0 309.6h.01M336.5 333.5h.01M336.2 314.6h.01M329.4 315.9h.01M379.6 333.6h.01M388.1 296.4h.01M401.7 325.3h.01M376.9 300.2h.01M354.8 358.7h.01M394.9 341.2h.01M334.6 296.5h.01M394.5 299.5h.01M374.5 346.2h.01M377.6 318.2h.01M355.8 348.3h.01M322.4 350.4h.01" stroke="rgb(72,72,72)" stroke-width="1.6" stroke-linecap="round" fill="none"/>
<path d="M399.6 319.2h.01M401.7 317.4h.01M405.9 320.4h.01M399.6 300.2h.01M351.2 317.9h.01M316.2 332.9h.01M330.2 350.5h.01M350.5 320.7h.01M370.2 289.3h.01M325.7 318.5h.01M387.3 314.1h.01M327.1 294.0h.01M366.2 341.1h.01M369.6 296.1h.01M383.1 319.7h.01M345.2 326.2h.01M319.7 310.5h.01M390.9 356.6h.01M314.3 357.4h.01M379.9 336.4h.01M399.2 353.6h.01M377.9 319.6h.01M407.8 302.1h.01M328.0 316.2h.01M396.8 331.8h.01M339.6 294.6h.01M409.1 309.0h.01M367.4 303.0h.01M348.7 306.3h.01M320.2 329.5h.01M402.9 305.2h.01M366.4 297.5h.01M342.0 311.5h.01M389.5 318.7h.01M384.2 324.2h.01M345.4 311.7h.01M409.1 299.8h.01M376.8 318.7h.01M354.5 320.9h.01M370.3 329.0h.01M398.4 350.8h.01M340.8 311.7h.01M363.1 355.3h.01M367.2 348.4h.01M314.8 322.3h.01M405.1 325.1h.01M324.3 339.8h.01M404.8 347.9h.01M350.8 312.5h.01M332.2 296.6h.01M327.4 326.7h.01M405.0 327.2h.01M374.1 316.4h.01M395.0 320.0h.01M322.1 314.4h.01M365.6 326.1h.01M318.8 302.4h.01M334.1 292.2h.01M370.9 305.6h.01M314.8 332.8h.01M405.1 359.6h.01M391.8 346.3h.01" stroke="rgb(72,72,72)" stroke-width="1.4" stroke-linecap="round" fill="none"/>
<path d="M316.7 315.1h.01M325.6 304.4h.01M337.3 320.1h.01M405.3 351.7h.01M369.7 332.7h.01M363.1 327.1h.01M407.4 329.9h.01M372.3 312.3h.01M319.8 316.1h.01M320.0 328.0h.01M375.2 350.0h.01M343.8 337.6h.01M317.7 320.0h.01M365.2 359.4h.01M361.4 320.3h.01M350.4 296.7h.01M327.4 329.6h.01M378.8 358.2h.01M344.9 294.0h.01M387.6 328.1h.01M320.8 335.4h.01M349.5 309.8h.01M380.5 291.9h.01M376.3 297.2h.01M372.9 300.6h.01M355.0 357.7h.01" stroke="rgb(72,72,72)" stroke-width="0.8" stroke-linecap="round" fill="none"/>
<path d="M389.0 302.9h.01M404.7 335.7h.01M389.9 329.8h.01M350.3 305.6h.01M366.3 352.7h.01M314.9 343.1h.01M356.7 314.7h.01M323.1 312.5h.01M359.2 328.1h.01M377.7 334.2h.01M371.1 330.8h.01M347.7 336.2h.01M404.1 349.1h.01M406.0 338.1h.01M393.3 343.8h.01M323.0 310.5h.01M339.9 328.4h.01M406.5 300.2h.01M384.1 289.9h.01M354.1 355.6h.01M375.4 335.8h.01M351.9 312.9h.01M315.4 326.2h.01M401.5 293.0h.01M343.9 355.1h.01M390.7 331.1h.01M340.4 317.8h.01M361.9 304.1h.01M322.0 287.0h.01M320.4 288.8h.01M321.4 345.5h.01M353.4 292.7h.01M398.6 359.5h.01M362.8 303.9h.01M358.6 327.1h.01M359.4 342.3h.01M368.1 333.8h.01M396.3 319.8h.01M369.4 315.8h.01M372.0 348.5h.01M367.8 321.6h.01M315.1 291.6h.01" stroke="rgb(84,84,84)" stroke-width="1.4" stroke-linecap="round" fill="none"/>
<path d="M329.2 304.6h.01M397.0 359.7h.01M317.5 309.8h.01M381.6 345.2h.01M316.1 309.1h.01M318.6 306.9h.01M342.7 346.9h.01M375.4 323.9h.01M406.8 317.8h.01M406.8 345.5h.01M404.0 352.1h.01M384.1 319.7h.01M382.1 327.8h.01M359.5 286.2h.01M406.8 324.9h.01M344.6 351.8h.01M374.2 307.9h.01M377.0 318.7h.01M389.2 319.5h.01M318.3 359.8h.01M407.3 352.6h.01M332.8 294.2h.01M330.3 310.2h.01M404.1 354.1h.01M396.8 357.1h.01M378.3 299.2h.01M401.3 295.8h.01M355.2 301.6h.01M359.5 285.6h.01M376.6 344.8h.01M362.4 352.4h.01M348.6 296.9h.01M378.6 307.3h.01M391.3 329.0h.01M361.0 354.8h.01" stroke="rgb(84,84,84)" stroke-width="1.2" stroke-linecap="round" fill="none"/>
<path d="M397.8 351.0h.01M381.3 322.5h.01M349.8 321.0h.01M365.6 294.9h.01M367.7 311.8h.01M400.3 344.7h.01M363.4 352.2h.01M343.3 310.0h.01M336.5 355.6h.01M373.0 341.3h.01M390.5 318.4h.01M380.2 348.1h.01M402.0 331.4h.01M391.6 308.6h.01M355.4 305.5h.01M390.6 344.8h.01M371.4 313.8h.01M348.3 304.8h.01M354.7 352.9h.01M371.9 321.9h.01M382.7 346.6h.01M361.3 336.9h.01M343.5 330.4h.01M336.7 356.9h.01M341.5 293.6h.01M351.1 301.9h.01M362.7 296.8h.01M372.5 333.3h.01M400.8 333.3h.01M376.6 289.2h.01M363.3 319.6h.01M400.6 350.3h.01M354.9 336.1h.01M343.2 293.9h.01M380.1 357.2h.01" stroke="rgb(84,84,84)" stroke-width="1.6" stroke-linecap="round" fill="none"/>
<path d="M338.2 302.1h.01M406.5 319.0h.01M384.2 286.8h.01M364.4 288.2h.01M348.9 307.0h.01M327.7 305.0h.01M377.0 324.6h.01M373.1 287.4h.01M361.0 290.7h.01M378.2 316.3h.01M377.8 346.2h.01" stroke="rgb(84,84,84)" stroke-width="0.8" stroke-linecap="round" fill="none"/>
<path d="M378.6 315.1h.01M348.3 313.1h.01M371.0 293.3h.01M391.1 300.0h.01M394.9 357.7h.01M324.6 285.8h.01M318.1 303.9h.01M385.1 293.9h.01M389.1 288.6h.01M355.2 286.1h.01M402.0 314.5h.01M345.2 332.5h.01M367.7 310.5h.01M346.1 351.8h.01M395.9 329.3h.01M409.3 320.0h.01M401.6 314.3h.01M410.4 339.3h.01M352.1 301.3h.01M338.0 309.8h.01M363.7 315.2h.01" stroke="rgb(84,84,84)" stroke-width="1.0" stroke-linecap="round" fill="none"/>
<path d="M366.3 324.3h.01M409.7 294.7h.01M400.9 294.3h.01M316.4 306.2h.01M360.5 293.4h.01M342.8 357.0h.01M393.3 329.1h.01M399.0 312.6h.01M406.0 314.6h.01" stroke="rgb(84,84,84)" stroke-width="1.8" stroke-linecap="round" fill="none"/>
<path d="M342.0 296.8l0.2 1.0M391.7 342.6l-0.1 0.4M348.6 303.6l-0.2 1.1M344.6 316.4l0.1 0.4M354.2 353.0l-0.3 1.2M359.0 318.9l-0.1 0.3M340.8 297.9l0.1 0.9M393.6 320.1l0.0 0.6M369.0 302.6h.01M328.7 311.0l-0.1 0.8M336.4 327.8l0.3 0.9M368.8 291.7l-0.0 0.1M340.9 333.9l0.0 0.3M341.6 334.3l0.3 0.8M363.6 348.7l0.1 0.5" stroke="rgb(144,144,144)" stroke-width="1.2" stroke-linecap="round" fill="none"/>
<path d="M350.7 341.1l0.2 1.3M342.3 288.2l-0.2 0.6M377.5 359.5l-0.4 0.8M390.6 328.1l-0.5 0.8M358.3 336.2l0.1 1.3M371.4 340.2l-0.1 0.3M336.2 319.5l0.1 0.5M315.5 325.3l0.1 0.6M319.9 313.4l0.0 0.5M330.8 289.8l0.0 1.3M395.4 293.3l-0.2 0.4M384.5 333.5l-0.0 0.6M397.1 301.0l0.1 0.2M404.9 343.0l0.0 0.1M369.6 315.9l0.1 0.4M398.4 298.4l-0.3 1.0M342.7 305.5l0.2 0.7" stroke="rgb(144,144,144)" stroke-width="1.6" stroke-linecap="round" fill="none"/>
<path d="M348.0 359.4l0.6 1.2M388.2 305.7l-0.2 0.4M364.1 345.7l0.2 1.0M396.2 330.9l0.6 1.2M389.8 290.4l-0.2 0.8M370.9 351.1l0.1 0.1M366.2 286.6l-0.5 1.2M408.5 292.9l0.1 0.7" stroke="rgb(144,144,144)" stroke-width="1.0" stroke-linecap="round" fill="none"/>
<path d="M326.0 291.5l0.3 1.2M378.2 313.8l0.0 1.1M394.2 339.6l0.3 1.2M363.2 335.5l-0.1 1.1M361.2 358.7l-0.2 0.5M384.3 321.5l0.0 0.1M351.5 330.0h.01M367.2 356.2l-0.1 0.2M375.4 341.1l-0.6 1.2M356.0 303.5l-0.4 1.2M393.5 357.4l-0.6 1.2M333.1 328.5l0.4 1.0M329.0 295.7l-0.2 0.8" stroke="rgb(144,144,144)" stroke-width="1.4" stroke-linecap="round" fill="none"/>
<path d="M397.1 305.4l-0.3 0.9M394.5 328.3l0.0 1.4M403.9 352.8h.01M370.2 321.5l0.0 0.1M408.8 348.4l0.2 0.6M401.2 356.2l-0.1 0.4M389.3 358.9l-0.3 0.8M336.1 324.0l0.1 0.6M378.2 329.9l0.3 0.7M337.6 294.7l-0.3 0.7M338.4 357.3l-0.3 0.8M402.4 335.9l0.2 0.6M396.7 326.8l-0.1 1.1M338.4 354.1l-0.1 0.2M396.9 295.3l0.0 0.2M319.1 344.7l0.2 0.5M361.3 306.4l0.4 1.0M330.3 354.9l-0.5 1.0" stroke="rgb(156,156,156)" stroke-width="1.0" stroke-linecap="round" fill="none"/>
<path d="M388.6 349.5l0.4 1.0M323.7 307.1l-0.3 1.0M390.2 293.2l-0.3 0.7M338.9 325.1l0.0 1.2M327.0 313.1l0.5 1.1M389.1 311.2l-0.1 0.3M329.0 338.4l-0.4 1.0M381.4 351.4l-0.2 0.7M330.2 310.1l-0.0 0.1M388.1 306.5l-0.1 1.0M410.1 296.4l0.5 1.2M354.9 324.3h.01M333.5 289.9l0.0 0.1M375.7 287.5l-0.0 0.1" stroke="rgb(156,156,156)" stroke-width="1.2" stroke-linecap="round" fill="none"/>
<path d="M359.6 325.0l-0.0 0.3M391.8 331.2l0.2 1.0M334.2 324.1l-0.1 1.0M326.5 294.8l-0.1 0.4M346.8 323.6l-0.3 0.9M408.6 315.7l-0.4 1.0M334.5 329.0l-0.2 0.6M355.5 321.8l0.4 0.9M354.6 328.5l0.1 0.5M321.3 288.0h.01M391.1 346.1l-0.4 1.2" stroke="rgb(156,156,156)" stroke-width="1.6" stroke-linecap="round" fill="none"/>
<path d="M403.1 298.3l-0.2 0.3M359.6 296.3l-0.2 0.6M382.3 330.9h.01M379.1 325.3l0.1 0.7M400.2 287.5l-0.2 0.4M357.2 310.4l-0.3 0.9M330.5 357.7l-0.0 0.7M338.9 322.7l-0.1 0.2M360.0 340.6l0.2 0.5M355.7 305.6l0.2 0.8M402.1 350.4l-0.1 0.3M316.9 300.9l0.1 0.6M357.9 298.0l-0.6 1.0M402.6 313.3l-0.1 0.4" stroke="rgb(156,156,156)" stroke-width="1.4" stroke-linecap="round" fill="none"/>
<path d="M327.4 293.1l-0.3 0.9M365.6 287.4l0.0 0.1M391.7 295.9l-0.2 0.6M323.3 298.0l-0.1 0.6M410.2 287.7l-0.1 0.8M354.8 298.9l-0.0 0.2M357.6 287.6l-0.5 1.2M368.7 315.1l-0.0 0.1M401.1 305.8l-0.2 1.1M371.4 311.7l0.1 0.6M338.3 356.9l0.1 0.2M407.7 290.8l-0.1 0.5M317.3 348.2l-0.3 1.1M367.9 352.1l-0.0 0.1M396.8 298.5l-0.4 1.3M332.8 343.2l-0.3 0.6M332.5 345.3l-0.3 0.7M372.2 357.6l-0.2 0.3M343.3 325.1l-0.4 1.3M336.0 285.7l-0.1 0.1M381.8 308.0l-0.2 0.5M349.0 302.4l0.6 1.1" stroke="rgb(168,168,168)" stroke-width="1.4" stroke-linecap="round" fill="none"/>
<path d="M396.9 302.8l0.1 1.0M388.9 298.3l-0.3 1.0M360.9 299.4l0.2 0.4M410.2 340.9l-0.3 0.8M393.7 333.1l-0.1 0.4M344.2 342.6l-0.4 1.1M361.5 288.7l-0.4 0.7M390.1 344.1l0.1 0.5M334.9 287.1l0.1 0.6M377.7 309.3l0.2 0.4M344.9 290.3l-0.0 0.6M355.6 322.1l0.4 1.3M409.3 295.7l-0.1 0.1M370.5 335.2l0.0 0.6" stroke="rgb(168,168,168)" stroke-width="1.0" stroke-linecap="round" fill="none"/>
<path d="M348.9 359.2l-0.1 0.9M322.3 295.9l-0.2 0.9M373.9 357.1l0.2 0.8M359.8 336.1l0.1 0.2M359.4 305.8l0.4 0.8M383.1 294.7l0.2 0.5M407.2 335.5l-0.6 1.1M365.6 331.9l-0.0 0.7M397.3 335.7l0.6 1.1M329.2 325.3l0.4 0.7M397.6 302.8l0.1 0.1M354.3 337.1l-0.3 1.2M349.1 353.1l-0.5 1.1M345.7 344.1l-0.2 0.6M345.4 347.9l-0.3 0.5M388.9 347.0l0.1 0.3" stroke="rgb(168,168,168)" stroke-width="1.6" stroke-linecap="round" fill="none"/>
<path d="M353.5 319.7l0.2 0.5M346.2 320.5l-0.0 0.2M365.5 286.6l-0.1 0.6M400.0 336.6l0.2 0.5M318.5 355.2l-0.1 0.3M402.5 310.2l-0.3 0.9M331.3 341.6l0.1 0.5M353.8 316.1l-0.0 0.1M387.7 317.3l0.3 1.1M388.2 351.8l-0.1 0.2M391.2 319.8l-0.1 0.4M335.5 346.2l0.1 0.2M324.2 345.7l0.2 1.3M350.0 299.0l0.1 0.2M395.5 310.0l0.5 1.0" stroke="rgb(168,168,168)" stroke-width="1.2" stroke-linecap="round" fill="none"/>
<path d="M335.7 290.1l-0.1 0.8M401.1 297.4l0.0 0.2M329.3 315.3l0.5 1.3M405.1 342.2l-0.1 0.1M376.3 315.0l0.1 0.1M315.5 312.7l-0.6 1.1M358.0 321.5l0.0 0.1M396.9 342.7l0.4 0.7M393.8 350.1l-0.1 0.4M335.0 323.3l0.1 0.6M350.9 305.0l-0.2 0.7" stroke="rgb(180,180,180)" stroke-width="1.6" stroke-linecap="round" fill="none"/>
<path d="M340.1 298.6l0.0 0.3M375.4 356.3l-0.1 0.4M405.1 336.2l-0.3 0.7M349.3 301.6l0.1 0.3M365.8 311.6l-0.1 0.2M365.8 314.1l-0.3 0.8M382.0 345.7l0.2 0.8M322.5 298.8l0.3 1.2M387.3 330.3l-0.4 1.1M394.3 339.9l0.1 0.5M393.8 287.8l-0.1 1.0M382.5 286.2l0.1 0.7M403.6 348.8l-0.2 0.8M347.6 322.4l0.0 0.1" stroke="rgb(180,180,180)" stroke-width="1.4" stroke-linecap="round" fill="none"/>
<path d="M326.3 289.0l-0.4 0.8M342.0 343.7h.01M320.1 306.3l-0.0 0.3M397.9 347.6l0.0 0.1M379.2 316.6l-0.1 0.5M407.3 316.1h.01M384.7 289.3h.01M397.8 314.7l0.2 0.6M370.1 346.3l0.3 1.1M398.2 341.9l0.1 0.8M317.5 351.1l-0.0 0.1M339.8 294.4l0.5 1.1M344.1 335.1l0.2 1.2M386.7 327.8l0.3 0.9M373.0 292.3l0.1 0.6M401.5 346.5l0.1 0.2M329.9 304.1l0.0 0.8" stroke="rgb(180,180,180)" stroke-width="1.2" stroke-linecap="round" fill="none"/>
<path d="M369.9 319.8l0.3 0.6M337.3 356.6l-0.2 0.5M362.6 301.3l0.3 0.8M317.5 315.7l0.3 1.2M363.6 309.1l-0.0 0.1M370.2 306.8l-0.5 1.3M318.2 332.5l-0.2 1.3M343.7 356.3l-0.2 1.1M339.5 345.2l-0.5 1.0M397.6 337.0l-0.3 1.1M325.3 303.9l0.0 0.5M364.1 294.4l0.2 0.5M396.6 315.5l0.1 0.2M378.1 297.8h.01M333.8 315.4l-0.0 0.6" stroke="rgb(180,180,180)" stroke-width="1.0" stroke-linecap="round" fill="none"/>
<path d="M319.9 340.9l0.1 1.2M392.1 296.9l0.2 0.6M390.5 335.8l0.4 1.3M361.3 294.7l0.2 0.3M340.3 349.9l-0.0 1.1M370.0 291.6l-0.2 1.2M371.5 289.6l-0.0 1.1M360.7 291.8l0.0 1.1M395.4 343.9l0.2 0.7M384.7 331.2l-0.2 0.9M389.0 295.9l0.2 0.5M342.5 348.1l-0.3 0.9M375.5 339.7l-0.0 0.5M350.9 330.1l-0.3 1.3M373.3 345.1l-0.1 0.2M368.1 328.4l-0.2 1.2M378.4 309.2l0.0 0.3M341.0 286.6l0.2 0.7" stroke="rgb(192,192,192)" stroke-width="1.4" stroke-linecap="round" fill="none"/>
<path d="M344.0 322.0l0.0 0.2M370.9 340.8l-0.1 1.3M317.7 340.5l0.0 0.3M358.7 294.4l-0.1 0.6M377.5 315.1l-0.1 0.6M368.1 302.3l-0.4 0.9M322.9 331.2l-0.6 1.2M350.4 336.3l0.3 0.7M373.7 300.0l-0.4 0.9M377.6 293.4l0.2 0.4M404.0 307.7l-0.2 0.5M338.5 350.0l0.1 0.3M366.9 303.6h.01M341.3 330.1l0.1 0.4M391.7 339.3l0.1 0.5M320.4 294.9l-0.1 0.3M401.6 293.6l-0.4 0.9M397.8 346.1l0.3 1.0M401.3 354.8l-0.0 0.1" stroke="rgb(192,192,192)" stroke-width="1.2" stroke-linecap="round" fill="none"/>
<path d="M361.3 293.0l0.0 1.2M367.6 314.0l0.0 0.7M353.7 335.0l0.1 0.8M357.2 301.8l-0.1 0.2M365.6 318.6l0.1 0.4M379.5 341.5l0.0 0.2M400.6 301.1l0.5 1.0M351.6 306.6l-0.0 0.1M345.3 338.2l0.2 1.3M348.4 331.0l0.0 0.4M345.6 297.9l0.2 1.0M319.2 326.1l0.1 0.6M345.7 335.8l-0.1 0.8M410.1 349.3l0.2 0.6" stroke="rgb(192,192,192)" stroke-width="1.0" stroke-linecap="round" fill="none"/>
<path d="M393.7 347.1l0.0 0.1M329.9 320.3l0.1 0.9M362.6 344.0l0.1 0.4M369.6 325.7l-0.0 0.1M330.8 309.9l0.1 0.5M341.9 319.5l-0.1 0.4M374.8 300.4l-0.1 0.4M399.6 303.1l0.1 0.5M377.8 288.4l-0.1 1.2M344.3 291.8l0.2 1.1M407.1 288.6l0.4 1.0M358.6 323.9l-0.0 1.2M339.1 356.3l0.0 0.1M337.4 327.4l-0.1 1.4M366.6 350.4l0.4 0.7M351.9 292.4l-0.3 0.6M382.4 336.8l-0.1 0.4M339.9 328.8l-0.4 0.9M396.6 322.5l-0.0 0.2M397.0 286.6l-0.2 0.6M387.3 304.8l-0.1 0.1M392.6 299.3l-0.1 0.6M390.5 334.5l0.0 0.4M382.2 327.8l0.1 0.3" stroke="rgb(192,192,192)" stroke-width="1.6" stroke-linecap="round" fill="none"/>
<path d="M352.6 297.9l0.1 0.4M317.2 352.9l0.4 1.1M401.4 301.2l-0.1 0.9M327.7 358.3l-0.4 0.9M380.2 296.4l-0.1 0.6M351.0 345.6l0.4 1.0M386.3 324.1l-0.2 0.4M373.2 352.6h.01M322.4 302.6l0.0 0.6M320.8 301.3l-0.1 0.7M402.5 319.1l-0.5 1.0M370.0 319.5l0.2 0.4M334.2 324.6l0.1 0.3M328.3 302.1l0.0 1.1M323.5 291.7l0.1 0.1M370.4 336.3l-0.2 0.9M332.5 299.2l-0.2 1.1M365.4 358.8l-0.0 0.3M369.1 337.2l-0.1 0.6M352.5 326.6l0.2 0.4M380.2 344.2l0.2 1.3M329.9 297.4l0.2 0.6" stroke="rgb(204,204,204)" stroke-width="1.6" stroke-linecap="round" fill="none"/>
<path d="M367.1 358.6l-0.1 0.2M337.1 291.9l0.4 0.9M319.6 346.5h.01M384.9 306.7l0.4 0.7M399.5 352.5l-0.1 0.7M323.4 329.0l0.2 0.7M381.0 343.4l-0.2 1.2M336.9 352.7l-0.3 1.4M390.2 316.2l0.2 0.6M327.6 321.3l-0.3 0.6M335.0 290.5l0.1 0.3M348.3 345.9l0.3 0.5M321.0 286.8l-0.3 1.1M362.0 317.2l-0.5 0.9M402.5 316.1l-0.0 0.2M379.1 297.4l0.3 1.1" stroke="rgb(204,204,204)" stroke-width="1.4" stroke-linecap="round" fill="none"/>
<path d="M327.3 336.7l0.0 0.1M356.4 307.2l-0.3 0.5M367.7 321.6l-0.5 1.0M319.0 354.1l0.0 0.1M373.1 351.3l-0.2 0.9M391.8 290.7l-0.4 0.8M332.3 344.6l0.4 0.8M361.7 306.3l-0.1 0.3M358.9 322.2l-0.1 1.1M372.8 327.7l0.1 0.7M386.1 302.3l0.4 0.9M394.2 310.6l-0.0 0.1M323.0 314.5l-0.2 0.7" stroke="rgb(204,204,204)" stroke-width="1.0" stroke-linecap="round" fill="none"/>
<path d="M326.5 340.8l-0.4 1.2M327.8 298.0l-0.0 0.1M361.0 337.8l0.6 1.1M407.8 353.9l-0.3 1.1M357.4 332.4l-0.0 0.8M333.4 298.5l0.4 1.3M395.3 330.2l0.4 0.7M362.2 330.4l-0.2 1.2M347.1 336.9l-0.2 0.6M367.4 333.1l-0.4 0.8M354.2 302.7l0.1 0.3M342.6 305.3l0.2 1.3M401.6 288.1l-0.0 0.4M319.2 359.3l-0.1 0.9M358.3 335.5l0.1 0.8M380.0 292.7l0.1 0.4M341.1 357.2l0.3 0.5M403.2 285.3l0.1 1.3" stroke="rgb(204,204,204)" stroke-width="1.2" stroke-linecap="round" fill="none"/>
<path d="M365.5 330.6l-0.0 1.0M398.5 305.2l0.1 0.8M332.9 290.4l-0.2 1.3M352.8 327.7l-0.5 1.0M325.1 287.0l-0.0 0.2M355.3 313.3l-0.3 1.2M371.5 340.9l0.2 0.8M357.5 343.2l-0.2 0.4M346.5 306.6l-0.1 0.4M379.7 345.5l0.2 0.4M343.7 293.4l-0.2 0.5M359.4 344.4l0.0 1.1M400.4 304.9l-0.2 0.8M346.6 335.5l0.4 0.8M407.8 335.6l0.3 0.6M379.3 330.2l0.3 1.0M356.0 310.0l-0.1 0.6M314.5 336.5l0.1 0.4M361.9 324.6l-0.2 1.3M384.0 310.2l-0.0 1.2M371.8 346.8l0.0 0.2M384.8 306.6l-0.1 0.9M349.7 357.9l-0.4 1.2M402.9 352.9l-0.5 1.2M340.9 290.4l-0.0 0.3M354.1 337.9l0.2 0.5" stroke="rgb(216,216,216)" stroke-width="1.6" stroke-linecap="round" fill="none"/>
<path d="M391.2 334.0l-0.1 0.6M347.5 306.6l0.0 0.2M355.1 332.9l-0.1 0.7M346.0 307.8l0.0 0.2M359.0 343.0l0.3 0.6M390.3 298.1l-0.2 0.8M333.3 311.2l0.1 0.2M369.9 311.0l-0.1 1.2M326.7 357.4l-0.2 0.6M327.9 297.5l-0.3 0.9M362.6 285.9l-0.6 1.2M401.8 341.7l-0.2 0.6M357.4 305.2l0.0 0.1M346.7 304.7l-0.2 0.4M324.3 301.6l0.1 0.2M333.9 314.2l0.3 0.6M372.4 320.4l0.2 0.7" stroke="rgb(216,216,216)" stroke-width="1.2" stroke-linecap="round" fill="none"/>
<path d="M318.0 306.6l0.2 1.1M400.1 312.7l-0.1 1.0M355.5 352.4l-0.0 0.1M318.4 296.6l-0.0 0.1M368.5 354.9l0.1 0.3M376.9 321.4l0.0 0.2M359.6 341.9l0.3 0.7M379.2 322.7l0.1 0.7M318.8 313.2h.01M392.8 345.9l-0.0 0.2M378.8 319.8l0.1 1.4M384.0 358.3l-0.5 1.2M372.2 318.5l-0.2 0.5M393.6 324.3l-0.1 0.2M335.4 312.8l0.1 0.7M318.8 347.9l0.0 0.6" stroke="rgb(216,216,216)" stroke-width="1.4" stroke-linecap="round" fill="none"/>
<path d="M343.1 300.1l-0.2 0.4M380.6 286.8l0.1 0.8M390.9 355.0l0.1 0.7M327.9 289.9l-0.3 0.7M348.2 348.0l0.3 1.3M405.5 330.8l0.1 0.3M364.9 300.4l-0.1 0.5M358.8 300.7l0.1 0.3M385.7 289.9l-0.1 0.2M357.6 306.1l0.1 0.3M332.6 314.5l-0.1 0.3M350.3 350.9l0.4 0.9M346.5 286.1l-0.0 0.3M354.7 334.0l-0.4 1.2M342.1 291.5l0.5 1.2M406.2 330.6l0.5 1.0M398.8 317.2l0.2 1.1" stroke="rgb(216,216,216)" stroke-width="1.0" stroke-linecap="round" fill="none"/>
<path d="M363.3 298.6l-0.3 0.6M402.3 305.8l0.1 0.3M359.6 347.5l0.2 0.5M403.1 355.6l0.0 0.4M400.3 332.4l0.2 0.9M345.8 350.2l0.2 0.7M361.0 314.6l0.3 0.9M375.1 352.2l0.2 0.9M396.5 354.2l-0.1 0.3M380.9 316.8l-0.2 0.5M406.0 322.0l-0.1 0.4M406.5 308.5l0.1 1.0M394.3 308.3l-0.3 0.7M355.8 359.1l0.1 0.2M336.5 326.4l0.1 0.6M407.0 335.4l0.0 0.8M404.3 308.8l-0.2 0.9M315.6 307.8l0.5 0.8M407.3 352.9l0.2 1.1" stroke="rgb(228,228,228)" stroke-width="1.0" stroke-linecap="round" fill="none"/>
<path d="M343.2 358.8l0.3 0.5M395.1 308.4l-0.0 0.5M388.9 313.0l-0.1 0.7M406.3 326.5l-0.0 0.2M376.9 343.8l0.1 0.6M410.5 342.3l-0.4 1.0M382.6 351.0l0.2 0.5M403.2 358.7l0.2 0.7M346.0 302.3l0.3 1.2M340.6 341.0l0.1 0.8M387.6 356.2l-0.1 0.9M395.6 335.1l-0.1 1.0M384.8 317.1l0.1 0.2M336.0 337.1l-0.3 0.7" stroke="rgb(228,228,228)" stroke-width="1.6" stroke-linecap="round" fill="none"/>
<path d="M334.9 313.7l0.1 0.3M387.0 316.7l-0.2 0.9M382.4 314.7l0.1 0.3M346.3 290.6l0.1 0.3M363.5 312.4l0.1 0.4M376.4 330.0l-0.2 0.6M347.9 345.8l0.1 0.3M350.0 291.3h.01M368.5 348.1l-0.0 0.1M409.2 311.7l0.3 0.6M355.0 353.1l-0.0 0.1M367.9 312.9l0.1 0.4M323.1 357.9l-0.3 1.2M375.9 359.2l-0.1 0.5M402.2 295.7l-0.0 0.8" stroke="rgb(228,228,228)" stroke-width="1.2" stroke-linecap="round" fill="none"/>
<path d="M354.9 306.7l0.3 0.5M405.3 355.4l-0.1 0.1M334.9 294.0l0.1 0.6M342.7 295.8l0.1 0.1M397.0 343.1l0.6 1.2M360.9 351.6l0.2 0.8M361.0 357.5l-0.3 0.9M382.3 316.8l-0.1 1.3M410.1 326.8l0.1 0.5M400.6 298.4l0.4 0.7M390.2 301.9l0.3 0.6M372.4 357.1l0.0 0.4" stroke="rgb(228,228,228)" stroke-width="1.4" stroke-linecap="round" fill="none"/>
<path d="M360.8 349.1l0.2 1.3M382.9 323.2l0.0 1.1M390.1 345.0l-0.7 1.2M362.7 352.7l0.5 1.1M320.5 337.1l-0.0 0.4M342.3 327.6l0.2 0.7M329.4 318.7l0.1 0.2M342.0 348.6l-0.1 0.1M323.0 307.0l0.5 1.0M369.1 356.5l-0.2 0.6M403.7 296.0l-0.4 1.3M385.5 296.6l0.1 0.9M332.0 351.7l0.0 0.1M377.6 316.2l0.0 1.0M404.2 319.8l-0.1 0.1M339.2 322.3l0.2 0.5" stroke="rgb(240,240,240)" stroke-width="1.0" stroke-linecap="round" fill="none"/>
<path d="M361.4 336.7l0.0 0.2M358.6 354.4l0.3 0.7M364.6 357.5l-0.4 1.0M353.0 354.9l-0.4 1.0M374.0 346.8l-0.1 0.5M408.1 339.1l0.0 0.5M408.3 303.0l-0.2 1.1M359.6 351.2l0.0 0.5M393.7 301.3l0.3 1.0M409.0 288.3l0.4 1.3M336.1 351.7l0.3 0.6M362.6 300.8l-0.1 1.4M386.2 346.3l-0.3 1.2M392.2 353.4l0.1 0.3M364.3 333.9l0.4 0.9M394.1 304.1l-0.1 0.1M360.4 287.7l0.3 0.8M348.1 288.4l0.0 1.0M321.1 344.0l-0.5 1.3M399.0 328.6l0.0 0.1" stroke="rgb(240,240,240)" stroke-width="1.6" stroke-linecap="round" fill="none"/>
<path d="M315.5 327.2l0.4 1.3M368.2 295.1l-0.1 1.3M321.1 318.3l0.3 0.5M334.7 342.5l-0.2 0.4M348.2 342.2l0.1 0.4M350.4 344.1l0.5 1.0M346.7 294.7l0.1 0.9M326.2 299.7l0.0 0.3M333.8 304.1l-0.2 1.0" stroke="rgb(240,240,240)" stroke-width="1.2" stroke-linecap="round" fill="none"/>
<path d="M343.0 331.0l0.1 0.4M319.9 301.4l-0.1 0.3M378.5 333.9l0.2 1.1M324.0 345.9l-0.2 0.9M379.0 308.4l-0.4 1.1M324.8 288.4l-0.0 0.2M402.7 342.6l0.1 1.0M340.5 326.3l-0.1 0.4M379.1 315.4l0.0 0.9M323.2 338.8l0.2 0.9M328.2 288.8l0.2 0.4M394.0 351.1l0.0 0.1M347.9 306.2l0.1 0.6M376.3 357.0h.01M353.8 343.7l-0.1 0.9M347.9 333.8l0.0 0.7M367.0 291.0l-0.0 0.4M338.7 333.2l-0.5 1.1M350.4 340.8l0.4 1.2M390.3 357.0l0.1 0.3M383.6 343.9l0.3 0.9M319.6 355.7l0.0 0.5M385.3 345.3l0.5 0.9M365.1 310.0l0.2 0.8" stroke="rgb(240,240,240)" stroke-width="1.4" stroke-linecap="round" fill="none"/>
<path d="M339.8 335.3l-0.4 0.9M373.3 341.9l-0.1 0.8M391.4 313.6l-0.0 0.9M337.2 296.2l-0.2 0.5M387.2 342.9l-0.5 0.9M318.1 319.9l0.4 1.2M345.2 319.7l-0.4 1.0M381.3 301.7l-0.1 0.1M330.0 335.6l-0.3 0.6M353.3 321.2l-0.2 0.7M366.5 317.4l-0.2 0.8" stroke="rgb(252,252,252)" stroke-width="1.4" stroke-linecap="round" fill="none"/>
<path d="M326.5 295.0l0.3 0.8M355.3 297.0l-0.5 1.0M314.7 336.1l0.2 1.3M377.6 329.3l0.1 0.7M355.7 328.8l0.7 1.2M326.1 303.2l-0.1 1.1M331.4 303.4l-0.1 1.1M342.5 319.6l-0.1 0.3" stroke="rgb(252,252,252)" stroke-width="1.6" stroke-linecap="round" fill="none"/>
<path d="M340.9 287.3l-0.0 0.2M401.5 312.7l0.0 0.1M402.1 285.7l0.7 1.2M375.9 342.6l-0.0 0.6M328.1 286.7l-0.1 1.3M347.3 289.8l0.1 0.1M394.2 286.8l0.1 0.6M375.5 332.2l-0.3 0.5M374.9 285.5l0.0 0.3M388.3 331.4l-0.0 0.6M410.1 302.3l-0.0 0.3M330.3 297.1l0.3 0.7M337.5 336.1l-0.2 0.8" stroke="rgb(252,252,252)" stroke-width="1.0" stroke-linecap="round" fill="none"/>
<path d="M397.4 341.0h.01M392.5 318.9l0.1 0.5M394.7 285.1l-0.5 1.1M373.3 289.7l-0.6 1.1M332.2 285.5l0.3 0.7" stroke="rgb(252,252,252)" stroke-width="1.2" stroke-linecap="round" fill="none"/>
<path d="M402.5 328.9h.01" stroke="rgb(216,216,216)" stroke-width="2.0" stroke-linecap="round" fill="none"/>
<path d="M320.2 318.6h.01M353.2 349.9h.01" stroke="rgb(228,228,228)" stroke-width="2.2" stroke-linecap="round" fill="none"/>
<path d="M361.1 345.1h.01M403.1 332.8h.01M341.7 286.1h.01" stroke="rgb(228,228,228)" stroke-width="2.0" stroke-linecap="round" fill="none"/>
<path d="M402.6 342.2h.01M318.7 326.6h.01" stroke="rgb(228,228,228)" stroke-width="1.6" stroke-linecap="round" fill="none"/>
<path d="M392.9 334.3h.01M388.6 320.8h.01M336.8 322.7h.01" stroke="rgb(228,228,228)" stroke-width="2.8" stroke-linecap="round" fill="none"/>
<path d="M339.6 329.7h.01" stroke="rgb(228,228,228)" stroke-width="2.6" stroke-linecap="round" fill="none"/>
<path d="M408.4 348.7h.01M408.0 326.4h.01" stroke="rgb(240,240,240)" stroke-width="2.2" stroke-linecap="round" fill="none"/>
<path d="M362.8 335.4h.01M332.8 302.3h.01" stroke="rgb(240,240,240)" stroke-width="1.8" stroke-linecap="round" fill="none"/>
<path d="M326.6 352.9h.01M387.1 320.1h.01" stroke="rgb(240,240,240)" stroke-width="1.6" stroke-linecap="round" fill="none"/>
<path d="M356.2 288.6h.01" stroke="rgb(240,240,240)" stroke-width="2.8" stroke-linecap="round" fill="none"/>
<path d="M349.4 302.7h.01" stroke="rgb(240,240,240)" stroke-width="2.0" stroke-linecap="round" fill="none"/>
<path d="M318.4 293.7h.01" stroke="rgb(240,240,240)" stroke-width="2.4" stroke-linecap="round" fill="none"/>
<path d="M386.3 311.4h.01M389.9 339.5h.01" stroke="rgb(252,252,252)" stroke-width="2.4" stroke-linecap="round" fill="none"/>
<path d="M373.2 324.9h.01" stroke="rgb(252,252,252)" stroke-width="2.2" stroke-linecap="round" fill="none"/>
<path d="M332.0 320.0h.01" stroke="rgb(252,252,252)" stroke-width="2.8" stroke-linecap="round" fill="none"/>
<path d="M331.9 350.0h.01M348.9 354.0h.01M379.3 341.6h.01" stroke="rgb(252,252,252)" stroke-width="1.8" stroke-linecap="round" fill="none"/>
<ellipse cx="322.0" cy="326.0" rx="1.8" ry="1.8" fill="rgb(245,245,245)" transform="rotate(0 322.0 326.0)"/>
<ellipse cx="344.0" cy="340.0" rx="1.8" ry="1.8" fill="rgb(245,245,245)" transform="rotate(0 344.0 340.0)"/>
<ellipse cx="356.0" cy="336.0" rx="1.6" ry="1.6" fill="rgb(245,245,245)" transform="rotate(0 356.0 336.0)"/>
<ellipse cx="329.0" cy="356.0" rx="1.5" ry="1.5" fill="rgb(245,245,245)" transform="rotate(0 329.0 356.0)"/>
<ellipse cx="382.0" cy="333.0" rx="1.5" ry="1.5" fill="rgb(245,245,245)" transform="rotate(0 382.0 333.0)"/>
<ellipse cx="395.0" cy="318.0" rx="1.4" ry="1.4" fill="rgb(245,245,245)" transform="rotate(0 395.0 318.0)"/>
</g></svg>
<rect x="218.8" y="203.9" width="32.90" height="22.90" fill="#fff"/>
<text x="229.00" y="214.30" font-size="8.4" font-weight="bold" fill="#000" textLength="12.50" lengthAdjust="spacingAndGlyphs">WT</text>
<text x="229.00" y="223.20" font-size="8.2" font-weight="bold" fill="#000" textLength="13.60" lengthAdjust="spacingAndGlyphs">(TF)</text>
<rect x="316.6" y="202.4" width="42.00" height="23.20" fill="#fff"/>
<text x="326.90" y="212.80" font-size="7.6" font-weight="bold" fill="#000" textLength="16.80" lengthAdjust="spacingAndGlyphs">PN-1</text>
<text x="344.00" y="209.90" font-size="4.4" font-weight="bold" fill="#000" textLength="4.00" lengthAdjust="spacingAndGlyphs">-/-</text>
<text x="331.20" y="222.40" font-size="8.2" font-weight="bold" fill="#000" textLength="12.50" lengthAdjust="spacingAndGlyphs">(TF)</text>
<rect x="219.5" y="287.4" width="47.70" height="23.30" fill="#fff"/>
<text x="238.00" y="297.60" font-size="7.2" font-weight="bold" fill="#000" textLength="10.70" lengthAdjust="spacingAndGlyphs">WT</text>
<text x="229.00" y="306.30" font-size="7.8" font-weight="bold" fill="#000" textLength="29.20" lengthAdjust="spacingAndGlyphs">(PPACK)</text>
<rect x="316.1" y="288.7" width="53.10" height="22.90" fill="#fff"/>
<text x="332.90" y="298.90" font-size="7.0" font-weight="bold" fill="#000" textLength="14.80" lengthAdjust="spacingAndGlyphs">PN-1</text>
<text x="348.10" y="296.40" font-size="4.4" font-weight="bold" fill="#000" textLength="3.90" lengthAdjust="spacingAndGlyphs">-/-</text>
<text x="328.20" y="307.10" font-size="7.8" font-weight="bold" fill="#000" textLength="29.60" lengthAdjust="spacingAndGlyphs">(PPACK)</text>
<line x1="289.30" y1="266.80" x2="303.40" y2="266.80" stroke="#fff" stroke-width="2.2"/>
<line x1="390.80" y1="266.60" x2="406.80" y2="266.60" stroke="#fff" stroke-width="2.2"/>
<line x1="289.70" y1="353.90" x2="305.60" y2="353.90" stroke="#fff" stroke-width="2.2"/>
<line x1="392.20" y1="353.90" x2="407.80" y2="353.90" stroke="#fff" stroke-width="2.2"/>
<text x="0" y="0" font-size="6.3" font-weight="bold" fill="#111" textLength="87.10" lengthAdjust="spacingAndGlyphs" transform="translate(422.60,258.50) rotate(-90)">Platelet adhesion to collagen</text>
<text x="0" y="0" font-size="6.3" font-weight="bold" fill="#111" textLength="50.60" lengthAdjust="spacingAndGlyphs" transform="translate(430.90,240.70) rotate(-90)">(% covered area)</text>
<rect x="448.20" y="224.80" width="29.00" height="35.00" fill="#000"/>
<rect x="479.40" y="191.30" width="28.90" height="68.50" fill="#a8a8a8" stroke="#1a1a1a" stroke-width="1.0"/>
<line x1="463.30" y1="224.80" x2="463.30" y2="210.10" stroke="#000" stroke-width="1.1"/>
<line x1="456.10" y1="210.10" x2="470.50" y2="210.10" stroke="#000" stroke-width="1.1"/>
<line x1="493.90" y1="191.30" x2="493.90" y2="187.40" stroke="#222" stroke-width="1.1"/>
<line x1="486.70" y1="187.40" x2="501.10" y2="187.40" stroke="#222" stroke-width="1.1"/>
<line x1="447.70" y1="178.60" x2="447.70" y2="260.40" stroke="#000" stroke-width="1.4"/>
<line x1="447.10" y1="259.80" x2="509.80" y2="259.80" stroke="#000" stroke-width="1.4"/>
<line x1="445.50" y1="259.80" x2="447.70" y2="259.80" stroke="#000" stroke-width="1.1"/>
<text x="443.3" y="263.2" font-size="6.3" font-weight="bold" text-anchor="end" fill="#000">0</text>
<line x1="445.50" y1="232.73" x2="447.70" y2="232.73" stroke="#000" stroke-width="1.1"/>
<text x="443.3" y="236.13333333333335" font-size="6.3" font-weight="bold" text-anchor="end" fill="#000">20</text>
<line x1="445.50" y1="205.67" x2="447.70" y2="205.67" stroke="#000" stroke-width="1.1"/>
<text x="443.3" y="209.06666666666666" font-size="6.3" font-weight="bold" text-anchor="end" fill="#000">40</text>
<line x1="445.50" y1="178.60" x2="447.70" y2="178.60" stroke="#000" stroke-width="1.1"/>
<text x="443.3" y="182.0" font-size="6.3" font-weight="bold" text-anchor="end" fill="#000">60</text>
<text x="474.50" y="275.00" font-size="10.4" font-weight="bold" fill="#000" textLength="11.90" lengthAdjust="spacingAndGlyphs">TF</text>
<line x1="465.30" y1="179.20" x2="497.50" y2="179.20" stroke="#333" stroke-width="1.0"/>
<text x="481.3" y="178.4" font-size="10" font-weight="bold" text-anchor="middle" fill="#000">*</text>
<text x="0" y="0" font-size="6.3" font-weight="bold" fill="#111" textLength="87.20" lengthAdjust="spacingAndGlyphs" transform="translate(423.60,370.60) rotate(-90)">Platelet adhesion to collagen</text>
<text x="0" y="0" font-size="6.3" font-weight="bold" fill="#111" textLength="50.60" lengthAdjust="spacingAndGlyphs" transform="translate(432.30,352.30) rotate(-90)">(% covered area)</text>
<rect x="448.10" y="334.10" width="30.00" height="34.10" fill="#000"/>
<rect x="481.00" y="333.70" width="28.50" height="34.50" fill="#a8a8a8" stroke="#1a1a1a" stroke-width="1.0"/>
<line x1="463.50" y1="334.10" x2="463.50" y2="323.40" stroke="#000" stroke-width="1.1"/>
<line x1="456.20" y1="323.40" x2="470.80" y2="323.40" stroke="#000" stroke-width="1.1"/>
<line x1="495.00" y1="333.70" x2="495.00" y2="317.40" stroke="#222" stroke-width="1.1"/>
<line x1="487.70" y1="317.40" x2="502.30" y2="317.40" stroke="#222" stroke-width="1.1"/>
<line x1="447.60" y1="286.30" x2="447.60" y2="368.80" stroke="#000" stroke-width="1.4"/>
<line x1="447.00" y1="368.20" x2="511.00" y2="368.20" stroke="#000" stroke-width="1.4"/>
<line x1="445.40" y1="368.20" x2="447.60" y2="368.20" stroke="#000" stroke-width="1.1"/>
<text x="443.20000000000005" y="371.59999999999997" font-size="6.3" font-weight="bold" text-anchor="end" fill="#000">0</text>
<line x1="445.40" y1="340.90" x2="447.60" y2="340.90" stroke="#000" stroke-width="1.1"/>
<text x="443.20000000000005" y="344.29999999999995" font-size="6.3" font-weight="bold" text-anchor="end" fill="#000">20</text>
<line x1="445.40" y1="313.60" x2="447.60" y2="313.60" stroke="#000" stroke-width="1.1"/>
<text x="443.20000000000005" y="317.0" font-size="6.3" font-weight="bold" text-anchor="end" fill="#000">40</text>
<line x1="445.40" y1="286.30" x2="447.60" y2="286.30" stroke="#000" stroke-width="1.1"/>
<text x="443.20000000000005" y="289.7" font-size="6.3" font-weight="bold" text-anchor="end" fill="#000">60</text>
<text x="462.80" y="384.20" font-size="10.6" font-weight="bold" fill="#000" textLength="32.40" lengthAdjust="spacingAndGlyphs">PPACK</text>
<rect x="472.6" y="284.0" width="5.0" height="5.0" fill="#000"/>
<rect x="473.1" y="293.8" width="4.2" height="4.4" fill="#a8a8a8" stroke="#222" stroke-width="0.9"/>
<text x="479.20" y="289.20" font-size="6.8" fill="#000" textLength="9.80" lengthAdjust="spacingAndGlyphs">WT</text>
<text x="479.20" y="298.80" font-size="6.8" fill="#000" textLength="9.80" lengthAdjust="spacingAndGlyphs">KO</text>
</svg>
</body></html>
